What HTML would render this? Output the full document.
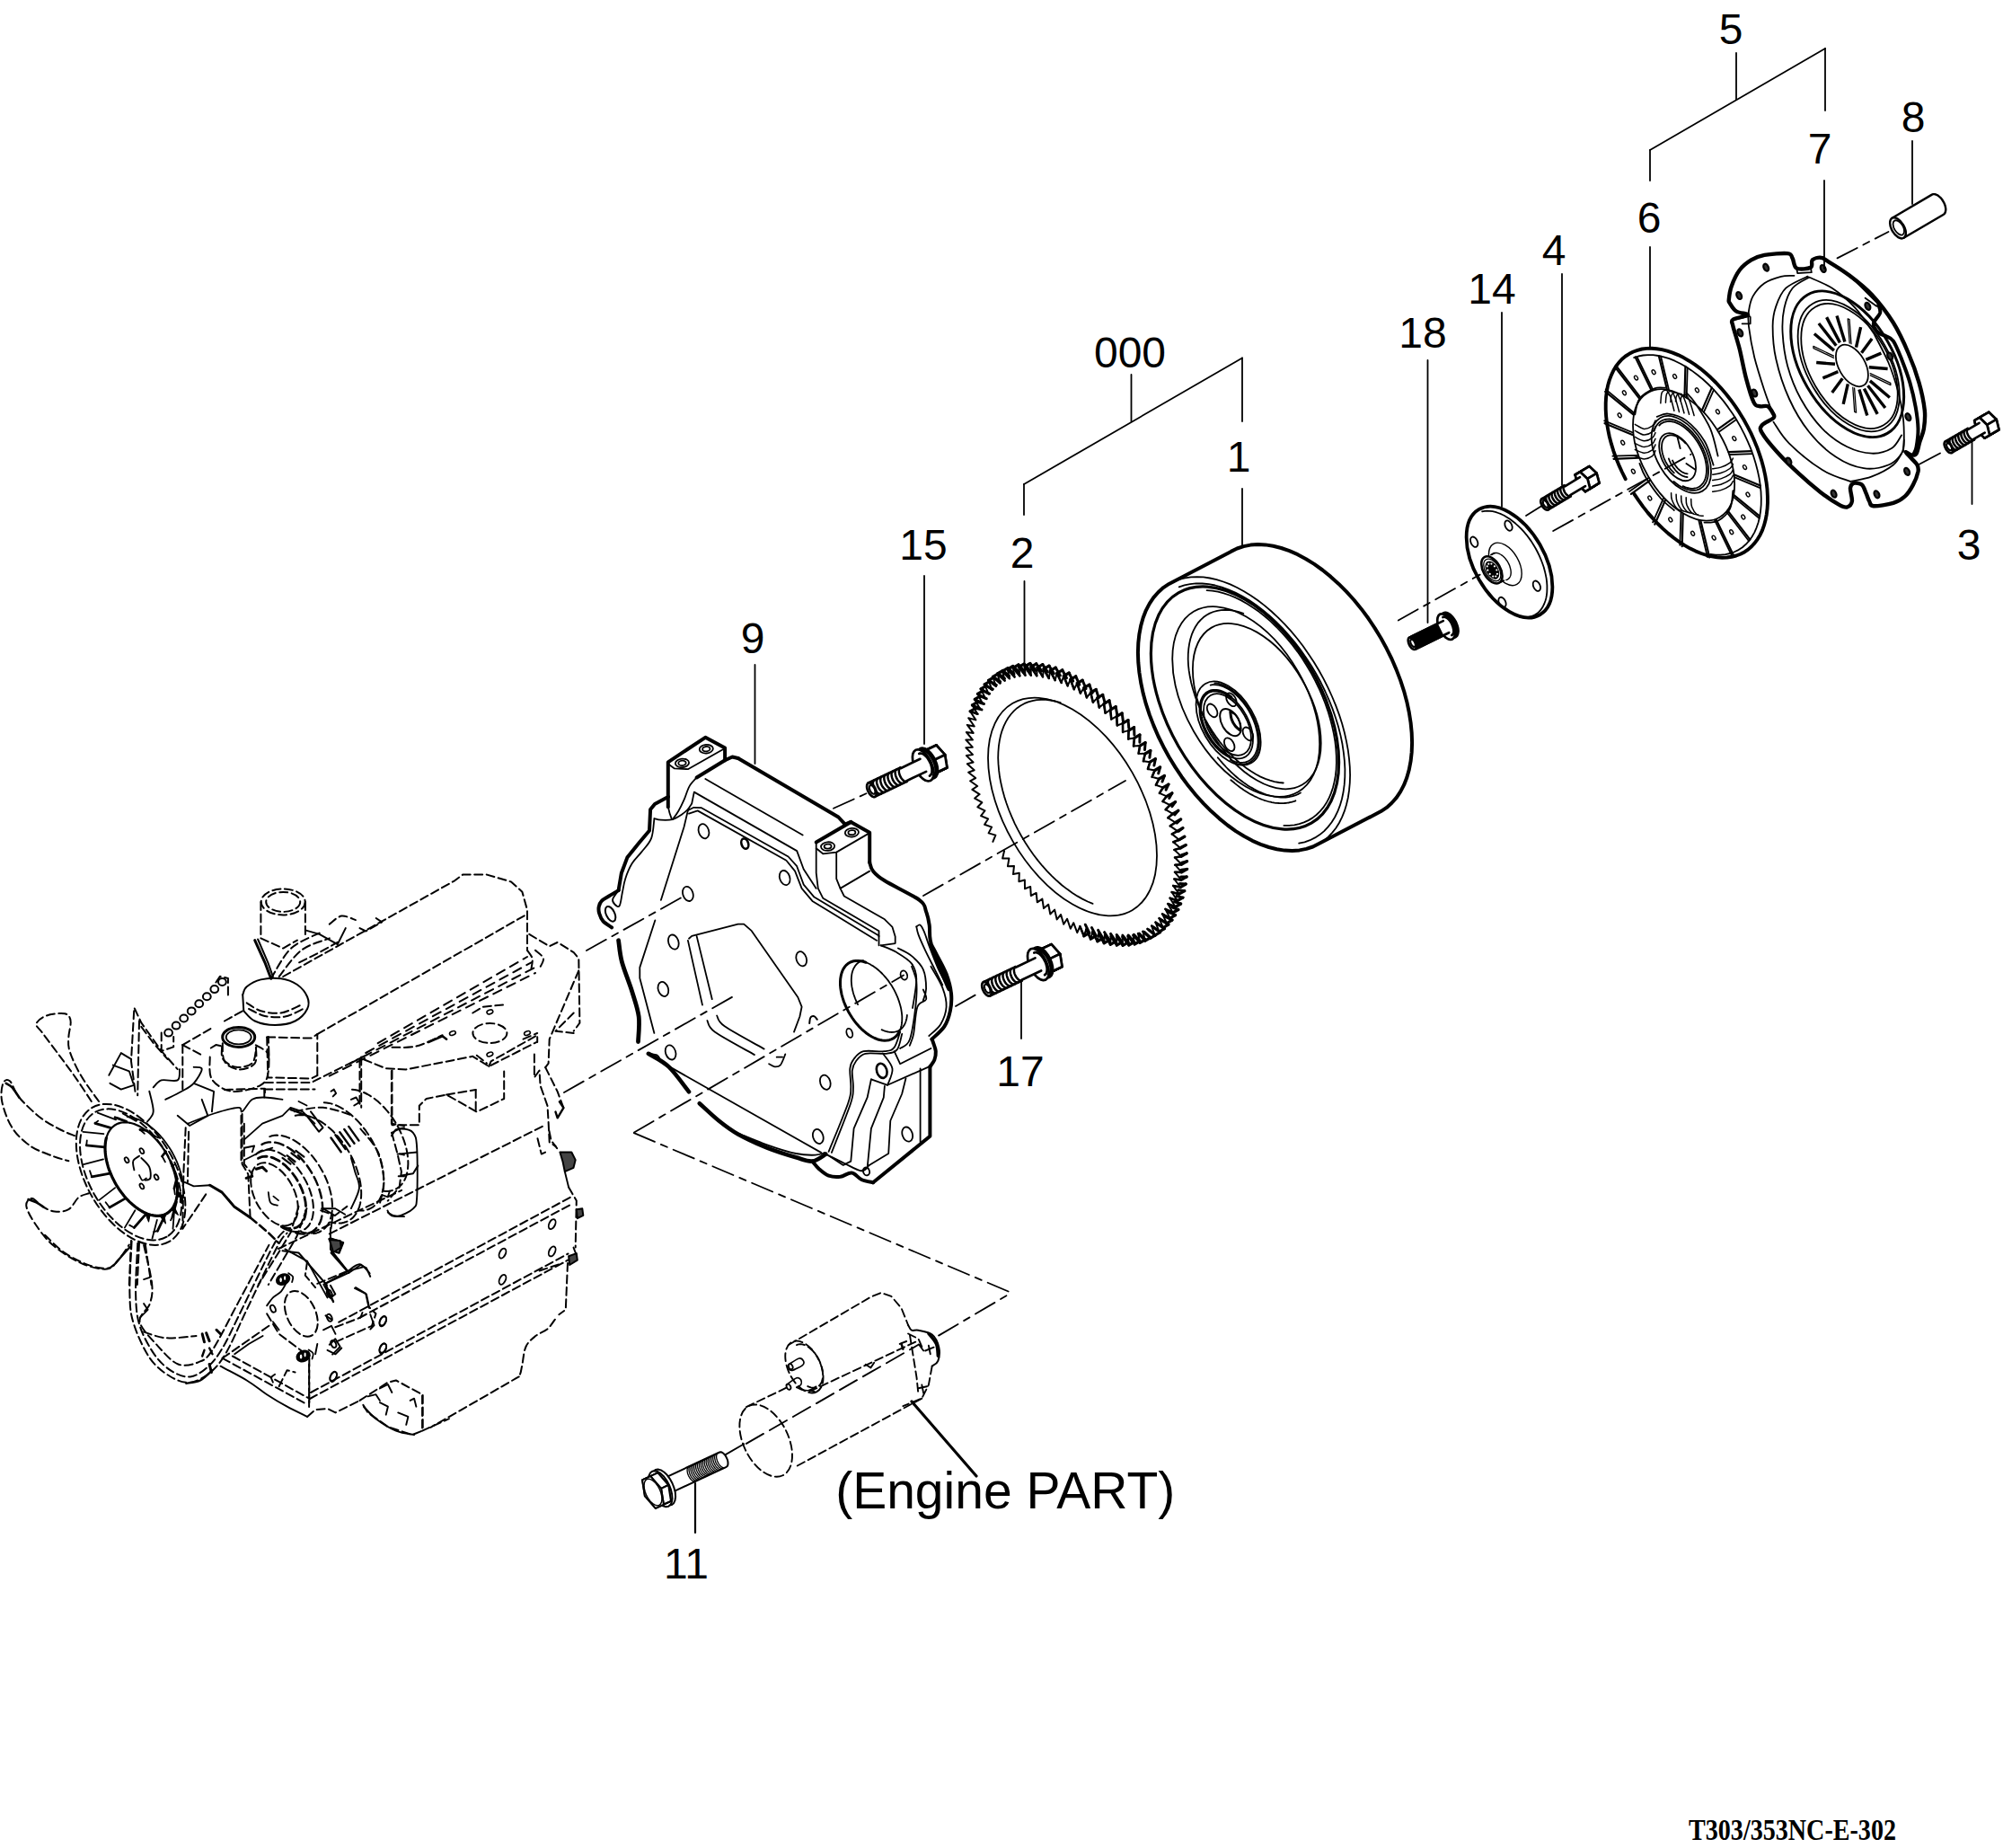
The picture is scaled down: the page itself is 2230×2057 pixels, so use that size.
<!DOCTYPE html>
<html><head><meta charset="utf-8"><meta name="domain" content="Diagram"><title>Parts diagram T303/353NC-E-302</title>
<style>html,body{margin:0;padding:0;background:#fff}body{width:2230px;height:2057px;overflow:hidden;font-family:"Liberation Sans",sans-serif}svg{display:block}</style>
</head><body>
<svg width="2230" height="2057" viewBox="0 0 2230 2057" fill="none" stroke="#000" stroke-linecap="round" stroke-linejoin="round">
<rect x="0" y="0" width="2230" height="2057" fill="#fff" stroke="none"/>
<path d="M315.2 1087 L506.1 980.3 L515.1 973.6 L542.1 973.6 L569 981.5 L581.4 992.7 L587 1012.9 L587 1057.8" stroke-width="2" fill="none" stroke-dasharray="9 4.5"/>
<path d="M353.3 1151.1 L587 1017.4" stroke-width="2" fill="none" stroke-dasharray="9 4.5"/>
<path d="M297.2 1154.4 L346.6 1155.6 L353.3 1151.1 L353.3 1197.1" stroke-width="2" fill="none" stroke-dasharray="9 4.5"/>
<path d="M297.2 1154.4 L298.3 1199.4 L346.6 1200.5 L353.3 1197.1" stroke-width="2" fill="none" stroke-dasharray="9 4.5"/>
<path d="M294.9 1205 L346.6 1205 L407.3 1174.7" stroke-width="2" fill="none" stroke-dasharray="9 4.5"/>
<path d="M420.7 1161.2 L587 1065" stroke-width="2" fill="none" stroke-dasharray="10 7"/>
<path d="M407.3 1172 L591.5 1071.3" stroke-width="2" fill="none" stroke-dasharray="10 7"/>
<path d="M389.3 1184.1 L594.9 1077.2" stroke-width="2" fill="none" stroke-dasharray="10 7"/>
<path d="M366.8 1197.6 L596 1083" stroke-width="2" fill="none" stroke-dasharray="10 7"/>
<path d="M587 1057.8 C587.9 1059.3 591.9 1063.5 592.6 1066.8 C593.4 1070.2 591.7 1076.2 591.5 1078.1" stroke-width="2" fill="none" stroke-dasharray="9 4.5"/>
<path d="M589.2 1039.9 L611.7 1053.3 L620.7 1048.9 L638.7 1060.1 L644.3 1066.8 L645.4 1138.7 L638.7 1147.7" stroke-width="2" fill="none" stroke-dasharray="9 4.5"/>
<path d="M644.3 1080.3 L611.7 1156.7 L610.6 1183.7 L607.2 1188.1" stroke-width="2" fill="none" stroke-dasharray="9 4.5"/>
<path d="M638.7 1127.5 L618.5 1147.7 L638.7 1150" stroke-width="2" fill="none" stroke-dasharray="9 4.5"/>
<path d="M405 1179.2 L429.7 1189.3 L452.2 1190.4 L526.3 1175.8 L544.3 1187 L597.1 1160.1" stroke-width="2" fill="none" stroke-dasharray="9 4.5"/>
<path d="M544.3 1187 L546.6 1181.4 L598.2 1152.2 L598.2 1160.1" stroke-width="2" fill="none" stroke-dasharray="9 4.5"/>
<path d="M436.5 1191.5 L436.5 1252.2 L466.8 1252.2 L466.8 1230.8 L474.7 1223 L497.1 1218.5 L530.8 1237.6 L561.2 1223 L561.2 1192.6" stroke-width="2" fill="none" stroke-dasharray="9 4.5"/>
<path d="M529.7 1212.9 L529.7 1237.6" stroke-width="2" fill="none" stroke-dasharray="9 4.5"/>
<path d="M497.1 1218.5 L529.7 1212.9" stroke-width="2" fill="none" stroke-dasharray="9 4.5"/>
<path d="M594.9 1173.5 L594.9 1199.4 L600.5 1191.5 L601.6 1208.4 L609.5 1230.8 L610.6 1248.8 L611.7 1271.3 L618.5 1275.8" stroke-width="2" fill="none" stroke-dasharray="9 4.5"/>
<path d="M607.2 1188.1 L620.7 1215.1 L627.4 1233.1" stroke-width="2" fill="none" stroke-dasharray="9 4.5"/>
<path d="M622.9 1226.3 L627.4 1233.1 L620.7 1244.3 L618.5 1237.6" stroke-width="2.4" fill="none"/>
<path d="M400.5 1179.2 L400.5 1230.8" stroke-width="2" fill="none" stroke-dasharray="9 4.5"/>
<path d="M436.5 1165.7 C441 1165.5 454.1 1166.8 463.4 1164.6 C472.8 1162.3 487.8 1154.3 492.6 1152.2" stroke-width="2" fill="none" stroke-dasharray="9 4.5"/>
<path d="M476.9 1160.1 L492.6 1153.3 L497.1 1156.7" stroke-width="2.6" fill="none"/>
<ellipse cx="545.4" cy="1150" rx="19" ry="11" transform="rotate(0 545.4 1150)" stroke-width="2" fill="none" stroke-dasharray="9 4.5"/>
<ellipse cx="503.9" cy="1150" rx="3.5" ry="2.2" transform="rotate(-20 503.9 1150)" stroke-width="1.6" fill="none"/>
<ellipse cx="545.4" cy="1126.4" rx="3.5" ry="2.2" transform="rotate(-20 545.4 1126.4)" stroke-width="1.6" fill="none"/>
<ellipse cx="587" cy="1150" rx="3.5" ry="2.2" transform="rotate(-20 587 1150)" stroke-width="1.6" fill="none"/>
<ellipse cx="545.4" cy="1173.5" rx="3.5" ry="2.2" transform="rotate(-20 545.4 1173.5)" stroke-width="1.6" fill="none"/>
<path d="M526.3 1127.5 L537.6 1120.7 L560 1118.5" stroke-width="2" fill="none" stroke-dasharray="9 4.5"/>
<path d="M582.5 1156.7 L598.2 1150" stroke-width="2" fill="none" stroke-dasharray="9 4.5"/>
<path d="M530.8 1174.7 L542.1 1183.7" stroke-width="2" fill="none" stroke-dasharray="9 4.5"/>
<path d="M596 1057.8 C597.5 1059.3 604.2 1063.5 605 1066.8 C605.7 1070.2 601.2 1076.2 600.5 1078.1" stroke-width="2" fill="none" stroke-dasharray="9 4.5"/>
<ellipse cx="315.2" cy="1003.9" rx="24.5" ry="14.5" transform="rotate(0 315.2 1003.9)" stroke-width="2" fill="none" stroke-dasharray="9 4.5"/>
<ellipse cx="315.2" cy="1003.9" rx="19" ry="11" transform="rotate(0 315.2 1003.9)" stroke-width="2" fill="none" stroke-dasharray="9 4.5"/>
<path d="M290.4 1003.9 L290.4 1044.4 L315.2 1055.6 L330.9 1046.6" stroke-width="2" fill="none" stroke-dasharray="9 4.5"/>
<path d="M339.9 1003.9 L339.9 1039.9" stroke-width="2" fill="none" stroke-dasharray="9 4.5"/>
<path d="M283.7 1046.6 L294.9 1071.3 L301.7 1089.3" stroke-width="3" fill="none"/>
<path d="M287.1 1045.5 L298.3 1071.3 L303.9 1087" stroke-width="2" fill="none"/>
<path d="M339.9 1035.4 L355.6 1039.9 L375.8 1051.1 L384.8 1033.1" stroke-width="2" fill="none"/>
<path d="M301.7 1089.3 C305.4 1083.7 314.8 1064.2 324.1 1055.6 C333.5 1047 352.2 1040.6 357.8 1037.6" stroke-width="2" fill="none" stroke-dasharray="9 4.5"/>
<path d="M310.7 1087 C314.8 1082.2 326 1065 335.4 1057.8 C344.7 1050.7 361.6 1046.6 366.8 1044.4" stroke-width="2" fill="none" stroke-dasharray="9 4.5"/>
<path d="M366.8 1028.6 C369.1 1027.1 375.4 1020.4 380.3 1019.6 C385.2 1018.9 393.4 1023.4 396 1024.1" stroke-width="2" fill="none" stroke-dasharray="9 4.5"/>
<path d="M400.5 1033.1 L407.3 1036.5 L425.2 1026.4 L418.5 1021.9" stroke-width="2" fill="none" stroke-dasharray="9 4.5"/>
<path d="M333.1 1071.3 L355.6 1060.1 L375.8 1048.9" stroke-width="2" fill="none" stroke-dasharray="9 4.5"/>
<path d="M270.2 1107.3 C271 1105.8 271.3 1101.1 274.7 1098.3 C278.1 1095.5 284.1 1091.9 290.4 1090.4 C296.8 1088.9 306.2 1088.4 312.9 1089.3 C319.6 1090.2 326 1092.7 330.9 1096 C335.7 1099.4 340.2 1105 342.1 1109.5 C344 1114 344.4 1118.5 342.1 1123 C339.9 1127.5 334.6 1133.5 328.6 1136.5 C322.6 1139.5 313.7 1141 306.2 1141 C298.7 1141 289.5 1139.1 283.7 1136.5 C277.9 1133.9 273.4 1127.1 271.3 1125.2" stroke-width="2" fill="none"/>
<path d="M270.2 1107.3 L271.3 1125.2" stroke-width="2" fill="none"/>
<path d="M274.7 1116.3 C277.3 1117.8 284.1 1123.4 290.4 1125.2 C296.8 1127.1 305.4 1128.6 312.9 1127.5 C320.4 1126.4 331.6 1120 335.4 1118.5" stroke-width="2" fill="none" stroke-dasharray="9 4.5"/>
<path d="M277 1123 C280 1124.3 288.2 1129.4 294.9 1130.9 C301.7 1132.3 310.3 1132.8 317.4 1131.5 C324.5 1130.2 334.3 1124.4 337.6 1123" stroke-width="2" fill="none" stroke-dasharray="9 4.5"/>
<ellipse cx="265.7" cy="1154.4" rx="18" ry="11" transform="rotate(0 265.7 1154.4)" stroke-width="3" fill="none"/>
<ellipse cx="265.7" cy="1154.4" rx="14" ry="8" transform="rotate(0 265.7 1154.4)" stroke-width="1.9" fill="none"/>
<path d="M247.8 1161.2 C248.1 1164.6 247 1176.5 250 1181.4 C253 1186.3 260.1 1190 265.7 1190.4 C271.3 1190.8 280.5 1188.1 283.7 1183.7 C286.9 1179.2 284.6 1166.8 284.8 1163.4" stroke-width="2" fill="none" stroke-dasharray="9 4.5"/>
<path d="M250 1136.5 L270.2 1125.2" stroke-width="2" fill="none" stroke-dasharray="9 4.5"/>
<path d="M250 1212.9 L294.9 1211.7 L294.9 1219.6" stroke-width="2" fill="none" stroke-dasharray="9 4.5"/>
<path d="M284.8 1163.4 C287.1 1164.9 296.1 1168.7 298.3 1172.4 C300.6 1176.2 298.3 1183.7 298.3 1185.9" stroke-width="2" fill="none" stroke-dasharray="9 4.5"/>
<path d="M110.1 1226 C106.7 1221.2 95.3 1206.2 89.9 1196.8 C84.4 1187.5 79.8 1177 77.5 1169.9 C75.3 1162.8 76.2 1159.8 76.4 1154.1 C76.6 1148.5 79.4 1140.5 78.6 1136.2 C77.9 1131.9 76.4 1129.2 71.9 1128.3 C67.4 1127.4 56.9 1128.7 51.7 1130.6 C46.4 1132.4 41.2 1136.4 40.4 1139.5 C39.7 1142.7 42.7 1143.5 47.2 1149.6 C51.7 1155.8 61 1168 67.4 1176.6 C73.8 1185.2 79.4 1192.7 85.4 1201.3 C91.4 1209.9 100.4 1223.8 103.3 1228.3" stroke-width="2" fill="none" stroke-dasharray="9 4.5"/>
<path d="M83.1 1264.2 C80.5 1263.1 73.8 1260.9 67.4 1257.5 C61 1254.1 52.6 1250 44.9 1244 C37.3 1238 27 1228.3 21.3 1221.5 C15.7 1214.8 14.2 1206.2 11.2 1203.6 C8.2 1200.9 4.9 1202.1 3.4 1205.8 C1.9 1209.6 0.6 1217.8 2.2 1226 C3.9 1234.3 8.2 1247 13.5 1255.2 C18.7 1263.5 26.2 1270.2 33.7 1275.5 C41.2 1280.7 51.3 1283.9 58.4 1286.7 C65.5 1289.5 73.4 1291.4 76.4 1292.3" stroke-width="2" fill="none" stroke-dasharray="9 4.5"/>
<path d="M98.9 1328.3 C97 1329 91.4 1329.8 87.6 1332.8 C83.9 1335.7 80.9 1343.6 76.4 1346.2 C71.9 1348.9 65.5 1349 60.7 1348.5 C55.8 1347.9 51.3 1345.3 47.2 1342.9 C43.1 1340.4 38.9 1334.1 35.9 1333.9 C33 1333.7 28.8 1337.2 29.2 1341.7 C29.6 1346.2 33.3 1353.5 38.2 1360.8 C43.1 1368.1 49.8 1378.1 58.4 1385.5 C67 1393 79.8 1401.3 89.9 1405.8 C100 1410.3 112 1413.3 119.1 1412.5 C126.2 1411.8 128.4 1405.8 132.6 1401.3 C136.7 1396.8 141.9 1388.2 143.8 1385.5" stroke-width="2" fill="none" stroke-dasharray="9 4.5"/>
<path d="M6.7 1205.8 C7.9 1206.6 11 1207.7 13.5 1210.3 C15.9 1212.9 20 1219.7 21.3 1221.5" stroke-width="2.6" fill="none"/>
<path d="M31.5 1335 C33 1335.6 37.6 1337 40.4 1338.4 C43.2 1339.8 47 1342.5 48.3 1343.3" stroke-width="2.6" fill="none"/>
<path d="M150.5 1214.8 L146 1181.1 L149.4 1121.6 L157.3 1138.4 L179.7 1169.9 L197.7 1190.1" stroke-width="2" fill="none" stroke-dasharray="9 4.5"/>
<path d="M155 1136.2 L153.2 1219.3" stroke-width="2" fill="none" stroke-dasharray="9 4.5"/>
<path d="M157.3 1142.9 L170.7 1160.9 L186.5 1178.9" stroke-width="2" fill="none" stroke-dasharray="9 4.5"/>
<ellipse cx="145.6" cy="1307.4" rx="86" ry="49.6" transform="rotate(60 145.6 1307.4)" stroke-width="2" fill="none" stroke-dasharray="9 4.5"/>
<ellipse cx="145.6" cy="1307.4" rx="80" ry="46.2" transform="rotate(60 145.6 1307.4)" stroke-width="2" fill="none" stroke-dasharray="9 4.5"/>
<path d="M190.3 1293.7 L192.1 1298 L193.7 1302.4 L195 1306.7 L196 1311 L196.8 1315.2 L197.3 1319.4 L197.5 1323.4 L197.5 1327.2 L197.2 1330.9 L196.5 1334.4 L195.7 1337.6 L194.5 1340.6 L193.1 1343.3 L191.4 1345.7 L189.5 1347.8 L187.4 1349.6 L185 1351.1 L182.5 1352.2 L179.8 1352.9 L176.9 1353.3 L173.9 1353.3 L170.8 1352.9 L167.6 1352.2 L164.3 1351.2 L160.9 1349.8 L157.6 1348 L154.2 1345.9 L150.9 1343.5 L147.6 1340.8 L144.3 1337.9 L141.2 1334.7 L138.2 1331.2 L135.3 1327.5 L132.5 1323.7 L129.9 1319.7 L127.6 1315.6 L125.4 1311.3 L123.5 1307 L121.7 1302.7 L120.3 1298.4 L119.1 1294 L118.1 1289.7 L117.5 1285.6 L117.1 1281.5 L117 1277.5 L117.2 1273.7 L117.6 1270.1 L118.3 1266.8" stroke-width="3.2" fill="none"/>
<path d="M118.3 1266.8 L118.9 1265 L119.5 1263.3 L120.2 1261.6 L121 1260.1 L121.9 1258.6 L122.8 1257.3 L123.8 1256 L124.9 1254.8 L126.1 1253.8 L127.4 1252.8 L128.7 1252 L130 1251.3 L131.5 1250.6 L133 1250.1 L134.5 1249.7 L136.1 1249.5 L137.7 1249.3 L139.4 1249.3 L141.2 1249.3 L142.9 1249.5 L144.7 1249.8 L146.5 1250.3 L148.4 1250.8 L150.3 1251.4 L152.1 1252.2 L154 1253.1 L155.9 1254 L157.8 1255.1 L159.7 1256.3 L161.6 1257.6 L163.5 1259 L165.4 1260.4 L167.3 1262 L169.1 1263.7 L170.9 1265.4 L172.7 1267.2 L174.4 1269.1 L176.1 1271.1 L177.8 1273.1 L179.4 1275.2 L181 1277.4 L182.5 1279.6 L183.9 1281.8 L185.3 1284.1 L186.7 1286.5 L187.9 1288.9 L189.1 1291.3 L190.3 1293.7" stroke-width="2.2" fill="none"/>
<path d="M141.7 1243.2 L143.6 1243.4 L145.6 1243.6 L147.5 1244 L149.5 1244.5 L151.5 1245.2 L153.6 1245.9 L155.6 1246.8 L157.7 1247.8 L159.8 1248.9 L161.8 1250.1 L163.9 1251.5 L166 1252.9 L168 1254.5 L170.1 1256.1 L172.1 1257.9 L174 1259.7 L176 1261.6 L177.9 1263.7 L179.8 1265.8 L181.6 1267.9 L183.4 1270.2 L185.1 1272.5 L186.8 1274.9 L188.4 1277.3 L190 1279.8 L191.5 1282.3 L192.9 1284.9 L194.2 1287.5 L195.5 1290.1 L196.7 1292.7 L197.8 1295.4 L198.8 1298.1 L199.8 1300.7 L200.6 1303.4 L201.4 1306.1 L202.1 1308.7 L202.6 1311.4 L203.1 1314 L203.5 1316.5 L203.8 1319.1 L204 1321.6 L204.1 1324 L204.1 1326.4 L204 1328.7 L203.8 1331 L203.5 1333.2 L203.1 1335.3 L202.6 1337.4" stroke-width="1.8" fill="none"/>
<path d="M183.6 1352.8 L175.4 1370.2" stroke-width="2.8" fill="none"/>
<path d="M175.4 1370.2 L171.1 1371.1" stroke-width="1.8" fill="none"/>
<path d="M174.9 1357.8 L169.5 1378.6" stroke-width="1.8" fill="none"/>
<path d="M162.5 1351.3 L149.3 1366.5" stroke-width="2.8" fill="none"/>
<path d="M149.3 1366.5 L144.1 1363.6" stroke-width="1.8" fill="none"/>
<path d="M150.4 1347.3 L138.8 1366.6" stroke-width="1.8" fill="none"/>
<path d="M139.7 1333.9 L122 1344" stroke-width="2.8" fill="none"/>
<path d="M122 1344 L117.6 1338.3" stroke-width="1.8" fill="none"/>
<path d="M128.1 1322.1 L110.3 1335.9" stroke-width="1.8" fill="none"/>
<path d="M122.4 1306.1 L102.2 1309.9" stroke-width="2.8" fill="none"/>
<path d="M102.2 1309.9 L100 1303.2" stroke-width="1.8" fill="none"/>
<path d="M115 1290.4 L93 1296.1" stroke-width="1.8" fill="none"/>
<path d="M116.3 1276.9 L96.2 1274.9" stroke-width="2.8" fill="none"/>
<path d="M96.2 1274.9 L96.8 1269.4" stroke-width="1.8" fill="none"/>
<path d="M115.4 1262.1 L92.4 1259.9" stroke-width="1.8" fill="none"/>
<path d="M123.1 1255.4 L105.9 1250.3" stroke-width="2.8" fill="none"/>
<path d="M105.9 1250.3 L109.2 1247.6" stroke-width="1.8" fill="none"/>
<path d="M129.1 1246.3 L108.7 1238.7" stroke-width="1.8" fill="none"/>
<path d="M140.8 1248.4 L128.1 1243.8" stroke-width="2.8" fill="none"/>
<path d="M128.1 1243.8 L133.1 1244.8" stroke-width="1.8" fill="none"/>
<path d="M151.7 1247.9 L136.7 1239.4" stroke-width="1.8" fill="none"/>
<path d="M163.7 1258.3 L155.9 1257.5" stroke-width="2.8" fill="none"/>
<path d="M155.9 1257.5 L160.9 1261.9" stroke-width="1.8" fill="none"/>
<path d="M176.1 1266.5 L167.5 1261.6" stroke-width="1.8" fill="none"/>
<path d="M184.6 1281.8 L180.5 1287" stroke-width="2.8" fill="none"/>
<path d="M180.5 1287 L183.9 1293.4" stroke-width="1.8" fill="none"/>
<path d="M194.5 1296.1 L191.4 1298.4" stroke-width="1.8" fill="none"/>
<path d="M196.8 1311.5 L193.9 1323" stroke-width="2.8" fill="none"/>
<path d="M193.9 1323 L194.8 1329.3" stroke-width="1.8" fill="none"/>
<path d="M201.1 1327.4 L200.7 1338" stroke-width="1.8" fill="none"/>
<path d="M196.4 1338 L192 1354" stroke-width="2.8" fill="none"/>
<path d="M192 1354 L190 1358.3" stroke-width="1.8" fill="none"/>
<path d="M193.8 1350.4 L192.5 1367.9" stroke-width="1.8" fill="none"/>
<path d="M197.6 1325.4 L197.1 1331.6 L204.5 1333.3Z" stroke-width="1.2" fill="#000"/>
<path d="M193.5 1342.6 L190.7 1346.6 L198.3 1352.3Z" stroke-width="1.2" fill="#000"/>
<path d="M182.6 1352.1 L178 1353.2 L184.4 1361.8Z" stroke-width="1.2" fill="#000"/>
<path d="M167 1352.1 L161.5 1350 L165.5 1359.9Z" stroke-width="1.2" fill="#000"/>
<ellipse cx="141.1" cy="1291.2" rx="3.2" ry="2" transform="rotate(60 141.1 1291.2)" stroke-width="1.8" fill="none"/>
<ellipse cx="157.9" cy="1281.1" rx="3.2" ry="2" transform="rotate(60 157.9 1281.1)" stroke-width="1.8" fill="none"/>
<ellipse cx="174.1" cy="1310.3" rx="3.2" ry="2" transform="rotate(60 174.1 1310.3)" stroke-width="1.8" fill="none"/>
<ellipse cx="157.9" cy="1320.4" rx="3.2" ry="2" transform="rotate(60 157.9 1320.4)" stroke-width="1.8" fill="none"/>
<path d="M149.4 1302.4 C149.2 1300.7 147.3 1294.9 148.3 1292.3 C149.2 1289.7 153.9 1287.6 155 1286.7" stroke-width="1.9" fill="none"/>
<path d="M157.3 1288.9 C158.8 1290.6 164.6 1295.3 166.3 1299.1 C167.9 1302.8 168.1 1309 167.4 1311.4 C166.6 1313.8 162.7 1313.3 161.8 1313.7" stroke-width="1.9" fill="none"/>
<path d="M155 1308 C155.6 1309 157.1 1313.1 158.4 1313.7 C159.7 1314.2 162.1 1311.8 162.9 1311.4" stroke-width="1.7" fill="none"/>
<path d="M146 1381.1 L143.8 1430" stroke-width="2" fill="none" stroke-dasharray="9 4.5"/>
<path d="M155 1383.3 L152.8 1430" stroke-width="2" fill="none" stroke-dasharray="9 4.5"/>
<path d="M161.8 1385.5 L168.5 1430" stroke-width="2" fill="none" stroke-dasharray="9 4.5"/>
<path d="M206.7 1255.2 L204.4 1304.7 L203.3 1367.6" stroke-width="2" fill="none" stroke-dasharray="9 4.5"/>
<path d="M210.1 1259.7 L208.9 1315.9" stroke-width="2" fill="none" stroke-dasharray="9 4.5"/>
<path d="M208.9 1250.7 C213.8 1248.9 228.8 1242.5 238.1 1239.5 C247.5 1236.5 259.9 1233.1 265.1 1232.8 C270.4 1232.4 267 1238.8 269.6 1237.3 C272.2 1235.8 276.7 1226.4 280.8 1223.8 C285 1221.2 288.7 1221.5 294.3 1221.5 C299.9 1221.5 311.2 1223.4 314.5 1223.8" stroke-width="1.8" fill="none"/>
<path d="M205.6 1315.9 L215.7 1320.4 L233.7 1319.3" stroke-width="1.9" fill="none"/>
<path d="M233.7 1319.3 L247.1 1327.1 L260.6 1342.9 L278.6 1355.2" stroke-width="3" fill="none"/>
<path d="M278.6 1355.2 L276.3 1306.9 L269.6 1295.7 L269.6 1237.3" stroke-width="2" fill="none" stroke-dasharray="9 4.5"/>
<path d="M229.2 1329.4 L215.7 1349.6 L203.3 1367.6" stroke-width="2" fill="none" stroke-dasharray="9 4.5"/>
<path d="M170.7 1210.3 C172.2 1209 175.2 1203.8 179.7 1202.4 C184.2 1201.1 194.3 1204.5 197.7 1202.4 C201.1 1200.4 199.6 1192.1 200 1190.1" stroke-width="1.9" fill="none"/>
<path d="M166.3 1214.8 C167 1218.5 171.1 1231.7 170.7 1237.3 C170.4 1242.9 165.1 1246.6 164 1248.5" stroke-width="1.9" fill="none"/>
<path d="M184.2 1223.8 C187.2 1222.3 197 1217.8 202.2 1214.8 C207.4 1211.8 211.9 1209.9 215.7 1205.8 C219.4 1201.7 224.7 1193.1 224.7 1190.1 C224.7 1187.1 217.2 1188.2 215.7 1187.8" stroke-width="1.9" fill="none"/>
<path d="M215.7 1205.8 L238.1 1214.8 L235.9 1237.3" stroke-width="1.9" fill="none"/>
<path d="M197.7 1241.8 L211.2 1253 L231.4 1241.8 L224.7 1223.8" stroke-width="1.9" fill="none"/>
<path d="M121.3 1196.8 L134.8 1172.1 L146 1178.9" stroke-width="1.9" fill="none"/>
<path d="M122.4 1205.8 L134.8 1212.6 L148.3 1208.1" stroke-width="1.9" fill="none"/>
<path d="M125.8 1185.6 L143.8 1192.3 L148.3 1205.8" stroke-width="1.9" fill="none"/>
<ellipse cx="187.6" cy="1149.6" rx="4.4" ry="4" transform="rotate(0 187.6 1149.6)" stroke-width="2" fill="none"/>
<ellipse cx="196.1" cy="1141.6" rx="4.4" ry="4" transform="rotate(0 196.1 1141.6)" stroke-width="2" fill="none"/>
<ellipse cx="204.7" cy="1133.5" rx="4.4" ry="4" transform="rotate(0 204.7 1133.5)" stroke-width="2" fill="none"/>
<ellipse cx="213.2" cy="1125.4" rx="4.4" ry="4" transform="rotate(0 213.2 1125.4)" stroke-width="2" fill="none"/>
<ellipse cx="221.7" cy="1117.3" rx="4.4" ry="4" transform="rotate(0 221.7 1117.3)" stroke-width="2" fill="none"/>
<ellipse cx="230.3" cy="1109.2" rx="4.4" ry="4" transform="rotate(0 230.3 1109.2)" stroke-width="2" fill="none"/>
<ellipse cx="238.8" cy="1101.1" rx="4.4" ry="4" transform="rotate(0 238.8 1101.1)" stroke-width="2" fill="none"/>
<ellipse cx="247.4" cy="1093" rx="4.4" ry="4" transform="rotate(0 247.4 1093)" stroke-width="2" fill="none"/>
<path d="M179.7 1149.6 L179.7 1169.9 L193.2 1165.4 L193.2 1154.1" stroke-width="2" fill="none" stroke-dasharray="9 4.5"/>
<path d="M240.4 1093.5 L244.9 1086.7 L253.9 1089 L253.9 1109.2" stroke-width="2" fill="none" stroke-dasharray="9 4.5"/>
<path d="M233.7 1176.6 C234 1180.7 231.8 1195 235.9 1201.3 C240 1207.7 249.4 1213.7 258.4 1214.8 C267.4 1215.9 283.1 1211.8 289.8 1208.1 C296.6 1204.3 297.3 1201.3 298.8 1192.3 C300.3 1183.3 298.8 1160.5 298.8 1154.1" stroke-width="2" fill="none" stroke-dasharray="9 4.5"/>
<path d="M247.1 1165.4 C247.3 1167.6 245.6 1175.1 248.3 1178.9 C250.9 1182.6 257.4 1187.1 262.9 1187.8 C268.3 1188.6 277.1 1187.1 280.8 1183.3 C284.6 1179.6 284.6 1168.4 285.3 1165.4" stroke-width="2" fill="none" stroke-dasharray="9 4.5"/>
<path d="M203.3 1163.1 L203.3 1214.8" stroke-width="2" fill="none" stroke-dasharray="9 4.5"/>
<path d="M203.3 1163.1 L238.1 1142.9" stroke-width="2" fill="none" stroke-dasharray="9 4.5"/>
<path d="M203.3 1163.1 L224.7 1174.4" stroke-width="2" fill="none" stroke-dasharray="9 4.5"/>
<path d="M234.8 1166.5 L240.4 1163.1 L246 1164.3" stroke-width="2" fill="none"/>
<path d="M294.3 1212.6 L294.3 1221.5" stroke-width="2" fill="none" stroke-dasharray="9 4.5"/>
<path d="M294.3 1212.6 L350.5 1212.6" stroke-width="2" fill="none" stroke-dasharray="9 4.5"/>
<ellipse cx="305.5" cy="1329.4" rx="38" ry="21.9" transform="rotate(62 305.5 1329.4)" stroke-width="2" fill="none" stroke-dasharray="9 4.5"/>
<path d="M287.5 1289.3 L289.4 1288.4 L291.3 1287.7 L293.4 1287.4 L295.6 1287.2 L297.8 1287.3 L300.2 1287.7 L302.6 1288.4 L305 1289.2 L307.5 1290.4 L310 1291.7 L312.5 1293.3 L314.9 1295.1 L317.4 1297.1 L319.8 1299.4 L322.1 1301.7 L324.3 1304.3 L326.4 1307 L328.5 1309.8 L330.4 1312.8 L332.2 1315.8 L333.8 1318.9 L335.3 1322.1 L336.6 1325.3 L337.7 1328.5 L338.7 1331.7 L339.5 1334.9 L340.1 1338 L340.4 1341.1 L340.6 1344 L340.6 1346.9 L340.4 1349.6 L340 1352.2 L339.4 1354.7 L338.6 1357 L337.6 1359 L336.5 1360.9 L335.2 1362.6 L333.7 1364 L332 1365.2 L330.2 1366.2 L328.3 1366.9 L326.3 1367.3 L324.1 1367.5 L321.9 1367.5 L319.6 1367.2 L317.2 1366.6 L314.7 1365.8 L312.3 1364.7" stroke-width="2.8" fill="none" stroke-dasharray="10 5"/>
<path d="M284.6 1285.2 L286.5 1283.5 L288.5 1282.1 L290.8 1281 L293.3 1280.2 L295.9 1279.8 L298.6 1279.8 L301.5 1280 L304.4 1280.7 L307.4 1281.6 L310.5 1282.9 L313.5 1284.6 L316.6 1286.5 L319.7 1288.7 L322.7 1291.2 L325.6 1294 L328.5 1297 L331.2 1300.2 L333.8 1303.7 L336.3 1307.2 L338.5 1311 L340.6 1314.8 L342.5 1318.7 L344.2 1322.7 L345.6 1326.6 L346.8 1330.6 L347.7 1334.5 L348.4 1338.4 L348.8 1342.2 L348.9 1345.8 L348.8 1349.3 L348.4 1352.6 L347.7 1355.7 L346.8 1358.5 L345.6 1361.1 L344.2 1363.5 L342.5 1365.5 L340.6 1367.3 L338.5 1368.7 L336.3 1369.8 L333.8 1370.5 L331.2 1370.9 L328.5 1371 L325.6 1370.7 L322.7 1370.1 L319.7 1369.1 L316.6 1367.8 L313.6 1366.2 L310.5 1364.3" stroke-width="2" fill="none" stroke-dasharray="9 4.5"/>
<path d="M291.5 1273.9 L293.9 1272.7 L296.4 1271.9 L299 1271.4 L301.8 1271.3 L304.7 1271.4 L307.6 1271.9 L310.7 1272.7 L313.8 1273.8 L316.9 1275.3 L320.1 1277 L323.3 1279 L326.4 1281.3 L329.5 1283.9 L332.5 1286.7 L335.5 1289.7 L338.3 1293 L341.1 1296.4 L343.6 1300 L346.1 1303.8 L348.3 1307.6 L350.4 1311.6 L352.3 1315.6 L354 1319.7 L355.4 1323.8 L356.6 1327.9 L357.6 1331.9 L358.4 1335.9 L358.9 1339.8 L359.1 1343.6 L359.1 1347.2 L358.8 1350.7 L358.3 1354 L357.6 1357.1 L356.6 1360 L355.3 1362.7 L353.8 1365 L352.1 1367.2 L350.2 1369 L348.2 1370.5 L345.9 1371.7 L343.4 1372.6 L340.8 1373.2 L338.1 1373.5 L335.2 1373.4 L332.3 1373 L329.2 1372.3 L326.2 1371.3 L323 1369.9" stroke-width="2.4" fill="none" stroke-dasharray="10 5"/>
<path d="M300.3 1265.1 L302.8 1264.3 L305.5 1263.8 L308.4 1263.6 L311.3 1263.8 L314.3 1264.2 L317.5 1265 L320.6 1266.1 L323.8 1267.5 L327.1 1269.1 L330.3 1271.1 L333.5 1273.4 L336.7 1275.9 L339.8 1278.6 L342.9 1281.6 L345.9 1284.8 L348.7 1288.2 L351.5 1291.8 L354.1 1295.5 L356.5 1299.4 L358.8 1303.4 L360.9 1307.4 L362.8 1311.5 L364.5 1315.7 L366 1319.9 L367.2 1324.1 L368.3 1328.2 L369.1 1332.3 L369.6 1336.3 L369.9 1340.2 L370 1343.9 L369.8 1347.6 L369.3 1351 L368.6 1354.3 L367.7 1357.3 L366.6 1360.2 L365.2 1362.7 L363.6 1365.1 L361.8 1367.1 L359.7 1368.9 L357.5 1370.3 L355.2 1371.5 L352.6 1372.4 L350 1372.9 L347.1 1373.1 L344.2 1373.1 L341.2 1372.6 L338.1 1371.9 L334.9 1370.9" stroke-width="2" fill="none" stroke-dasharray="9 4.5"/>
<path d="M328.8 1241.8 L331.6 1241.3 L334.6 1241.1 L337.7 1241.3 L340.9 1241.8 L344.1 1242.5 L347.4 1243.6 L350.8 1245 L354.2 1246.7 L357.6 1248.7 L361 1251 L364.3 1253.5 L367.6 1256.3 L370.9 1259.3 L374 1262.6 L377.1 1266 L380 1269.7 L382.9 1273.5 L385.5 1277.4 L388 1281.5 L390.4 1285.7 L392.6 1290 L394.5 1294.3 L396.3 1298.7 L397.8 1303 L399.1 1307.4 L400.2 1311.7 L401.1 1316 L401.7 1320.2 L402.1 1324.3 L402.2 1328.3 L402.1 1332.2 L401.7 1335.9 L401.1 1339.4 L400.2 1342.7 L399.2 1345.7 L397.8 1348.6 L396.3 1351.2 L394.5 1353.5 L392.6 1355.6 L390.4 1357.3 L388.1 1358.8 L385.5 1360 L382.9 1360.8 L380.1 1361.4 L377.1 1361.6 L374 1361.5 L370.9 1361.1 L367.6 1360.4" stroke-width="2" fill="none" stroke-dasharray="9 4.5"/>
<path d="M360.8 1227.2 L363.6 1227.4 L366.5 1227.9 L369.4 1228.6 L372.4 1229.6 L375.5 1230.9 L378.5 1232.4 L381.6 1234.1 L384.6 1236.1 L387.6 1238.2 L390.6 1240.6 L393.6 1243.2 L396.5 1246 L399.3 1248.9 L402.1 1252 L404.7 1255.3 L407.3 1258.7 L409.7 1262.2 L412.1 1265.9 L414.2 1269.6 L416.3 1273.4 L418.2 1277.3 L419.9 1281.2 L421.4 1285.1 L422.8 1289 L424 1293 L425 1296.9 L425.9 1300.8 L426.5 1304.6 L426.9 1308.3 L427.2 1312 L427.2 1315.5 L427 1318.9 L426.7 1322.2 L426.1 1325.4 L425.3 1328.3 L424.4 1331.1 L423.3 1333.8 L421.9 1336.2 L420.4 1338.4 L418.8 1340.4 L416.9 1342.1 L415 1343.7 L412.8 1344.9 L410.5 1346 L408.1 1346.8 L405.6 1347.3 L403 1347.6 L400.3 1347.6" stroke-width="2" fill="none" stroke-dasharray="9 4.5"/>
<path d="M392 1212.8 L394.7 1213 L397.5 1213.5 L400.4 1214.3 L403.2 1215.3 L406.2 1216.5 L409.1 1218 L412 1219.7 L415 1221.6 L417.9 1223.7 L420.8 1226.1 L423.6 1228.7 L426.4 1231.4 L429.1 1234.3 L431.8 1237.4 L434.3 1240.6 L436.7 1243.9 L439 1247.4 L441.2 1250.9 L443.2 1254.5 L445.1 1258.3 L446.8 1262 L448.4 1265.8 L449.8 1269.6 L451 1273.4 L452.1 1277.2 L452.9 1280.9 L453.6 1284.6 L454 1288.3 L454.3 1291.8 L454.4 1295.3 L454.2 1298.6 L453.9 1301.8 L453.4 1304.8 L452.7 1307.7 L451.8 1310.4 L450.7 1312.9 L449.4 1315.3 L447.9 1317.4 L446.3 1319.3 L444.5 1321 L442.6 1322.4 L440.5 1323.6 L438.3 1324.6 L436 1325.3 L433.5 1325.8 L430.9 1326 L428.3 1325.9 L425.6 1325.6" stroke-width="2" fill="none" stroke-dasharray="9 4.5"/>
<path d="M298.8 1327.1 C299.2 1329 299.4 1335.9 301.1 1338.4 C302.7 1340.8 307.6 1341.2 308.9 1341.7" stroke-width="1.8" fill="none"/>
<path d="M304.4 1331.6 L310 1336.1" stroke-width="1.8" fill="none"/>
<path d="M328 1237.3 C333.3 1236.5 348.6 1232 359.5 1232.8 C370.3 1233.5 387.6 1240.3 393.2 1241.8" stroke-width="2" fill="none" stroke-dasharray="9 4.5"/>
<path d="M271.8 1250.7 L271.8 1295.7 L280.8 1306.9" stroke-width="2" fill="none" stroke-dasharray="9 4.5"/>
<path d="M268.5 1241.8 L268.5 1295.7" stroke-width="2" fill="none" stroke-dasharray="9 4.5"/>
<path d="M271.8 1268.7 L292.1 1250.7 L314.5 1241.8 L323.5 1232.8 L337 1237.3 L350.5 1250.7" stroke-width="1.8" fill="none"/>
<path d="M271.8 1291.2 L289.8 1282.2 L303.3 1277.7" stroke-width="1.8" fill="none"/>
<path d="M271.8 1277.7 L283.1 1275.5 L280.8 1282.2" stroke-width="1.9" fill="none"/>
<path d="M341.5 1241.8 L355 1259.7 L359.5 1255.2 L346 1237.3" stroke-width="2" fill="none"/>
<path d="M368.5 1266.5 L379.7 1282.2" stroke-width="2.4" fill="none"/>
<path d="M373.4 1263.3 L384.6 1279.1" stroke-width="2.4" fill="none"/>
<path d="M378.3 1260.2 L389.6 1275.9" stroke-width="2.4" fill="none"/>
<path d="M383.3 1257 L394.5 1272.8" stroke-width="2.4" fill="none"/>
<path d="M388.2 1253.9 L399.5 1269.6" stroke-width="2.4" fill="none"/>
<path d="M314.5 1288.9 L323.5 1295.7" stroke-width="2.2" fill="none"/>
<path d="M319.5 1286.2 L328.5 1293" stroke-width="2.2" fill="none"/>
<path d="M324.4 1283.5 L333.4 1290.3" stroke-width="2.2" fill="none"/>
<path d="M329.4 1280.9 L338.4 1287.6" stroke-width="2.2" fill="none"/>
<path d="M285.3 1301.3 L292.1 1299.1 L296.6 1303.5" stroke-width="3" fill="none"/>
<path d="M274.1 1311.4 L280.8 1309.2" stroke-width="3" fill="none"/>
<path d="M357.2 1347.4 L372.9 1353 L386.4 1342.9" stroke-width="2" fill="none" stroke-dasharray="9 4.5"/>
<path d="M359.5 1345.1 L370.7 1351.8 L368.5 1367.6" stroke-width="1.9" fill="none"/>
<path d="M390.9 1288.9 C391.7 1291.6 393.9 1299.1 395.4 1304.7 C396.9 1310.3 400.7 1315.9 399.9 1322.6 C399.2 1329.4 392.4 1341.4 390.9 1345.1" stroke-width="1.9" fill="none"/>
<path d="M435.9 1264.2 L440.4 1257.5 L450 1255.2" stroke-width="1.9" fill="none"/>
<path d="M444.8 1284.4 L450 1285.6" stroke-width="2" fill="none"/>
<path d="M443.7 1309.2 L450 1309.2" stroke-width="2" fill="none"/>
<path d="M431.4 1347.4 C432.1 1348.3 432.7 1351.8 435.9 1353 C439 1354.1 447.7 1353.9 450 1354.1" stroke-width="1.9" fill="none"/>
<path d="M435.9 1192.3 L435.9 1250.7 L450 1253" stroke-width="2" fill="none" stroke-dasharray="9 4.5"/>
<path d="M402.2 1176.6 L402.2 1232.8" stroke-width="2" fill="none" stroke-dasharray="9 4.5"/>
<path d="M368.5 1214.8 L371.8 1212.6 L374.1 1217 L370.7 1220.4" stroke-width="1.9" fill="none"/>
<path d="M390.9 1223.8 L396.5 1221.5 L399.9 1227.2 L394.3 1230.5" stroke-width="2" fill="none"/>
<path d="M323.5 1235 L330.3 1237.3 L341.5 1241.8" stroke-width="2.4" fill="none"/>
<path d="M332.5 1226 L341.5 1230.5" stroke-width="1.9" fill="none"/>
<path d="M278.6 1355.2 L298.8 1372.1 L310 1383.3" stroke-width="2.6" fill="none" stroke-dasharray="9 4.5"/>
<path d="M332.5 1342.9 L323.5 1372.1 L310 1394.5 L287.6 1430" stroke-width="2" fill="none" stroke-dasharray="9 4.5"/>
<path d="M341.5 1345.1 L330.3 1376.6 L314.5 1403.5 L298.8 1430" stroke-width="2" fill="none" stroke-dasharray="9 4.5"/>
<path d="M310 1390 L447.1 1324.9" stroke-width="2" fill="none" stroke-dasharray="9 4.5"/>
<path d="M314.5 1392.3 L332.5 1394.5 L364 1430.5" stroke-width="1.9" fill="none"/>
<path d="M368.5 1378.8 L381.9 1383.3 L377.4 1394.5 L370.7 1392.3" stroke-width="2.6" fill="none"/>
<path d="M368.5 1394.5 L386.4 1414.8 L404.4 1410.3" stroke-width="1.9" fill="none"/>
<path d="M386.4 1414.8 L350.5 1430" stroke-width="2" fill="none" stroke-dasharray="9 4.5"/>
<path d="M146.6 1381.5 C146.2 1391.2 144 1424.5 144.4 1439.9 C144.7 1455.2 145.1 1461.6 148.9 1473.6 C152.6 1485.6 160.1 1502 166.8 1511.8 C173.6 1521.5 181.8 1527.5 189.3 1532 C196.8 1536.5 204.3 1539.5 211.8 1538.7 C219.3 1538 227.5 1533.1 234.2 1527.5 C241 1521.9 245.5 1516.6 252.2 1505 C258.9 1493.4 265.3 1477.3 274.7 1457.8 C284 1438.4 300.9 1402.4 308.4 1388.2 C315.9 1374 317.7 1375.1 319.6 1372.5" stroke-width="2" fill="none" stroke-dasharray="9 4.5"/>
<path d="M153.3 1383.7 C153 1393.1 150.7 1424.5 151.1 1439.9 C151.5 1455.2 152 1464.4 155.6 1475.8 C159.2 1487.2 166.5 1500 172.4 1508.4 C178.4 1516.8 185 1522.4 191.5 1526.4 C198.1 1530.4 205.2 1533.2 211.8 1532.4 C218.3 1531.7 224.9 1527.2 230.9 1521.9 C236.8 1516.6 241.2 1511.6 247.7 1500.5 C254.3 1489.5 260.8 1474.5 270.2 1455.6 C279.5 1436.7 296.2 1401.3 303.9 1387.1 C311.6 1372.8 314.2 1373 316.2 1370.2" stroke-width="2" fill="none" stroke-dasharray="9 4.5"/>
<path d="M160.1 1385.9 C161.6 1393.1 168 1417.8 169.1 1428.6 C170.2 1439.5 169.1 1444 166.8 1451.1 C164.6 1458.2 154.1 1463.5 155.6 1471.3 C157.1 1479.2 168.7 1490.4 175.8 1498.3 C182.9 1506.1 190.8 1515.5 198.3 1518.5 C205.8 1521.5 214.4 1518.9 220.7 1516.3 C227.1 1513.6 229 1514 236.5 1502.8 C244 1491.5 255.2 1468.3 265.7 1448.9 C276.2 1429.4 293.8 1396.4 299.4 1385.9" stroke-width="2" fill="none" stroke-dasharray="9 4.5"/>
<path d="M160.1 1482.6 C164.2 1483.7 175.1 1488.5 184.8 1489.3 C194.5 1490 212.9 1487.4 218.5 1487" stroke-width="2" fill="none" stroke-dasharray="9 4.5"/>
<path d="M207.3 1539.8 C209.9 1539.3 218.1 1538.9 223 1536.5 C227.9 1534 234.2 1527.1 236.5 1525.2" stroke-width="2.4" fill="none"/>
<path d="M225.2 1484.8 L227.5 1493.8" stroke-width="3" fill="none"/>
<path d="M229.7 1483.7 L233.1 1492.7" stroke-width="3" fill="none"/>
<path d="M241 1480.3 L245.5 1484.8" stroke-width="3" fill="none"/>
<path d="M227.5 1502.8 L225.2 1509.5" stroke-width="2.4" fill="none"/>
<path d="M233.1 1500.5 L236.5 1507.3" stroke-width="2.4" fill="none"/>
<path d="M233.1 1518.5 L235.4 1527.5" stroke-width="3" fill="none"/>
<path d="M128.6 1406.2 L135.4 1398.3 L144.4 1388.2" stroke-width="2.4" fill="none"/>
<path d="M50 1374.7 C53.7 1378.1 64.2 1389.3 72.5 1394.9 C80.7 1400.6 91.6 1405.6 99.4 1408.4 C107.3 1411.2 114.8 1412.2 119.6 1411.8 C124.5 1411.4 127.1 1407.1 128.6 1406.2" stroke-width="2" fill="none" stroke-dasharray="9 4.5"/>
<path d="M160.1 1424.1 L166.8 1421.9" stroke-width="1.9" fill="none"/>
<path d="M155.6 1466.8 L164.6 1457.8 L160.1 1451.1" stroke-width="1.9" fill="none"/>
<path d="M297.1 1453.3 C298.3 1451.8 301.3 1447 303.9 1444.4 C306.5 1441.7 310.2 1440.6 312.9 1437.6 C315.5 1434.6 318.5 1428.3 319.6 1426.4" stroke-width="1.9" fill="none"/>
<ellipse cx="335.3" cy="1462.3" rx="27" ry="16" transform="rotate(65 335.3 1462.3)" stroke-width="2" fill="none" stroke-dasharray="9 4.5"/>
<ellipse cx="315.1" cy="1424.1" rx="8.5" ry="6.5" transform="rotate(-25 315.1 1424.1)" fill="#000" stroke="none"/>
<ellipse cx="312.6" cy="1424.6" rx="1.3" ry="2.6" fill="#fff" stroke="none"/>
<ellipse cx="317.1" cy="1422.6" rx="1.1" ry="2.4" fill="#fff" stroke="none"/>
<path d="M321.1 1417.1 C321.9 1417.8 325.4 1419.5 326.1 1421.1 C326.8 1422.8 325.3 1426.1 325.1 1427.1" stroke-width="1.8" fill="none"/>
<ellipse cx="337.6" cy="1509.5" rx="8.5" ry="6.5" transform="rotate(-25 337.6 1509.5)" fill="#000" stroke="none"/>
<ellipse cx="335.1" cy="1510" rx="1.3" ry="2.6" fill="#fff" stroke="none"/>
<ellipse cx="339.6" cy="1508" rx="1.1" ry="2.4" fill="#fff" stroke="none"/>
<path d="M343.6 1502.5 C344.4 1503.2 347.9 1504.8 348.6 1506.5 C349.2 1508.2 347.7 1511.5 347.6 1512.5" stroke-width="1.8" fill="none"/>
<ellipse cx="303.9" cy="1456.7" rx="4.2" ry="2.6" transform="rotate(65 303.9 1456.7)" stroke-width="1.9" fill="none"/>
<ellipse cx="366.8" cy="1466.8" rx="4.2" ry="2.6" transform="rotate(65 366.8 1466.8)" stroke-width="1.9" fill="none"/>
<ellipse cx="366.8" cy="1439.9" rx="4.2" ry="2.6" transform="rotate(65 366.8 1439.9)" stroke-width="1.9" fill="none"/>
<ellipse cx="371.3" cy="1496" rx="4.2" ry="2.6" transform="rotate(65 371.3 1496)" stroke-width="1.9" fill="none"/>
<path d="M317.4 1390.4 L342.1 1403.9 L364.5 1444.4" stroke-width="1.9" fill="none"/>
<path d="M342.1 1403.9 L339.8 1419.6 L351.1 1433.1" stroke-width="2" fill="none" stroke-dasharray="9 4.5"/>
<path d="M369 1392.7 L387 1415.2 L362.3 1428.6 L371.3 1448.9" stroke-width="1.9" fill="none"/>
<path d="M366.8 1379.2 L375.8 1381.5 L378 1388.2 L370.2 1392.7" stroke-width="3" fill="none"/>
<path d="M387 1415.2 C389.2 1413.8 396.4 1406.9 400.5 1407.3 C404.6 1407.7 409.8 1415.7 411.7 1417.4" stroke-width="1.9" fill="none"/>
<path d="M396 1433.1 L407.2 1439.9 L410.6 1455.6" stroke-width="1.9" fill="none"/>
<path d="M297.1 1462.3 L310.6 1484.8 L337.6 1505" stroke-width="2" fill="none" stroke-dasharray="9 4.5"/>
<path d="M299.4 1475.8 L247.7 1511.8" stroke-width="2" fill="none" stroke-dasharray="9 4.5"/>
<path d="M303.9 1471.3 L310.6 1480.3" stroke-width="1.9" fill="none"/>
<path d="M261.2 1507.3 L276.9 1496 L292.6 1487" stroke-width="1.9" fill="none"/>
<path d="M351.1 1507.3 L353.3 1496" stroke-width="1.9" fill="none"/>
<path d="M360 1480.3 L369 1475.8 L373.5 1484.8" stroke-width="1.9" fill="none"/>
<path d="M364.5 1502.8 L373.5 1507.3 L380.3 1500.5" stroke-width="1.9" fill="none"/>
<path d="M247.7 1511.8 L342.1 1563.4" stroke-width="2" fill="none" stroke-dasharray="9 4.5"/>
<path d="M258.9 1509.5 L344.3 1556.7" stroke-width="2" fill="none" stroke-dasharray="9 4.5"/>
<path d="M344.3 1511.8 L344.3 1563.4" stroke-width="2" fill="none" stroke-dasharray="9 4.5"/>
<path d="M373.5 1493.8 L414 1475.8 L418.5 1462.3 L411.7 1455.6" stroke-width="2" fill="none" stroke-dasharray="9 4.5"/>
<path d="M245.5 1520.7 C250.3 1523.4 266.1 1531.2 274.7 1536.5 C283.3 1541.7 289.6 1547.3 297.1 1552.2 C304.6 1557.1 312.1 1561.6 319.6 1565.7 C327.1 1569.8 338.3 1575 342.1 1576.9" stroke-width="1.9" fill="none"/>
<path d="M342.1 1576.9 L351.1 1569.1 L364.5 1567.9 L373.5 1572.4 L400.5 1558.9" stroke-width="2" fill="none" stroke-dasharray="9 4.5"/>
<path d="M310.6 1543.2 L319.6 1525.2 L328.6 1527.5" stroke-width="2" fill="none" stroke-dasharray="9 4.5"/>
<path d="M303.9 1538.7 L301.6 1533.1 L306.1 1529.7" stroke-width="1.9" fill="none"/>
<ellipse cx="426.3" cy="1470.2" rx="5.5" ry="3.2" transform="rotate(-65 426.3 1470.2)" stroke-width="1.9" fill="none"/>
<ellipse cx="426.3" cy="1500.5" rx="5.5" ry="3.2" transform="rotate(-65 426.3 1500.5)" stroke-width="1.9" fill="none"/>
<ellipse cx="371.3" cy="1532" rx="5.5" ry="3.2" transform="rotate(-65 371.3 1532)" stroke-width="1.9" fill="none"/>
<path d="M400.5 1558.9 L431.9 1538.7 L440.9 1536.5 L470.1 1552.2 L470.1 1592.6 L458.9 1597.1 L431.9 1588.1 L409.5 1572.4 L402.7 1561.2" stroke-width="2" fill="none" stroke-dasharray="9 4.5"/>
<path d="M405 1565.7 C407.2 1567.9 412.5 1574.7 418.5 1579.2 C424.4 1583.7 433.8 1589.6 440.9 1592.6 C448 1595.6 457.8 1596.4 461.1 1597.1" stroke-width="2" fill="none"/>
<path d="M409.5 1554.4 L418.5 1552.2 L422.9 1558.9" stroke-width="1.9" fill="none"/>
<path d="M422.9 1545.5 L431.9 1541 L436.4 1550" stroke-width="1.9" fill="none"/>
<path d="M422.9 1561.2 L431.9 1565.7 L429.7 1574.7" stroke-width="1.9" fill="none"/>
<path d="M443.2 1572.4 L454.4 1576.9 L452.2 1585.9" stroke-width="1.9" fill="none"/>
<path d="M456.7 1558.9 L461.1 1556.7 L463.4 1565.7" stroke-width="1.9" fill="none"/>
<path d="M470.1 1592.6 L500 1579.2" stroke-width="2" fill="none" stroke-dasharray="9 4.5"/>
<path d="M366.8 1373.4 L605 1253.2" stroke-width="2" fill="none" stroke-dasharray="9 4.5"/>
<path d="M344.9 1557 L632.5 1402.5" stroke-width="2" fill="none" stroke-dasharray="9 4.5"/>
<path d="M346 1550 L632.5 1395.5" stroke-width="2" fill="none" stroke-dasharray="9 4.5"/>
<path d="M377.3 1471.7 L636.3 1332" stroke-width="2" fill="none" stroke-dasharray="9 4.5"/>
<path d="M400 1467 L637 1340" stroke-width="2" fill="none" stroke-dasharray="9 4.5"/>
<path d="M611.4 1258.7 L613.6 1269.5 L620.1 1278.1" stroke-width="2" fill="none" stroke-dasharray="9 4.5"/>
<path d="M598.5 1267.3 L602.8 1284.6 L607.1 1282.5" stroke-width="2" fill="none" stroke-dasharray="9 4.5"/>
<path d="M633.1 1321.4 L641.8 1336.6 L640.7 1388.6" stroke-width="2" fill="none" stroke-dasharray="9 4.5"/>
<path d="M632 1405.9 L629.8 1457.8 L622.3 1463.2" stroke-width="2" fill="none" stroke-dasharray="9 4.5"/>
<path d="M617.9 1468.7 C616.5 1470.5 612.9 1476.4 609.3 1479.5 C605.7 1482.6 600.3 1483.8 596.3 1487.1 C592.3 1490.3 588 1493.4 585.5 1499 C582.9 1504.6 582.4 1515.2 581.1 1520.6 C579.9 1526 580.1 1528.6 577.9 1531.4 C575.7 1534.3 584.6 1528.4 568.1 1537.9 C551.7 1547.5 494.2 1580.3 479.4 1588.8" stroke-width="2" fill="none" stroke-dasharray="9 4.5"/>
<path d="M470.7 1553.1 L470.7 1593.1" stroke-width="2" fill="none" stroke-dasharray="9 4.5"/>
<path d="M600.6 1414.5 L626.6 1405.9" stroke-width="2" fill="none" stroke-dasharray="9 4.5"/>
<ellipse cx="614.7" cy="1362.6" rx="5.8" ry="3.3" transform="rotate(-65 614.7 1362.6)" stroke-width="1.9" fill="none"/>
<ellipse cx="559.5" cy="1395.1" rx="5.8" ry="3.3" transform="rotate(-65 559.5 1395.1)" stroke-width="1.9" fill="none"/>
<ellipse cx="614.7" cy="1392.9" rx="5.8" ry="3.3" transform="rotate(-65 614.7 1392.9)" stroke-width="1.9" fill="none"/>
<ellipse cx="559.5" cy="1424.3" rx="5.8" ry="3.3" transform="rotate(-65 559.5 1424.3)" stroke-width="1.9" fill="none"/>
<ellipse cx="426.3" cy="1470.8" rx="5.8" ry="3.3" transform="rotate(-65 426.3 1470.8)" stroke-width="1.9" fill="none"/>
<ellipse cx="426.3" cy="1501.1" rx="5.8" ry="3.3" transform="rotate(-65 426.3 1501.1)" stroke-width="1.9" fill="none"/>
<ellipse cx="371.1" cy="1532.5" rx="5.8" ry="3.3" transform="rotate(-65 371.1 1532.5)" stroke-width="1.9" fill="none"/>
<path d="M623.4 1282.5 L636.3 1282.5 L640.7 1291.1 L638.5 1299.8 L628.8 1304.1 L626.6 1293.3Z" stroke-width="2" fill="#444"/>
<path d="M641.8 1346.3 L648.3 1345.3 L649.3 1352.8 L642.8 1356.1Z" stroke-width="2" fill="#444"/>
<path d="M633.1 1398.3 L641.8 1395.1 L642.8 1402.6 L634.2 1408Z" stroke-width="2" fill="#444"/>
<path d="M628.8 1304.1 L633.1 1321.4" stroke-width="1.9" fill="none"/>
<path d="M638.5 1388.6 L641.8 1397.2" stroke-width="1.9" fill="none"/>
<path d="M436.1 1260.8 C437.9 1260.1 442.9 1256.5 446.9 1256.5 C450.9 1256.5 457 1257.2 459.9 1260.8 C462.8 1264.4 463.5 1266.2 464.2 1278.1 C464.9 1290.1 464.9 1321.1 464.2 1332.3 C463.5 1343.5 463.5 1341.7 459.9 1345.3 C456.3 1348.9 447.3 1353.2 442.6 1353.9 C437.9 1354.6 433.6 1350.3 431.8 1349.6" stroke-width="1.9" fill="none"/>
<path d="M436.1 1260.8 L442.6 1284.6 L446.9 1304.1 L444.7 1321.4 L431.8 1336.6" stroke-width="2" fill="none" stroke-dasharray="9 4.5"/>
<path d="M442.6 1284.6 L464.2 1282.5" stroke-width="1.9" fill="none"/>
<path d="M446.9 1308.5 L459.9 1306.3 L465.3 1297.6" stroke-width="2" fill="none"/>
<path d="M401.4 1256.5 C404.7 1260.8 416.6 1272.7 420.9 1282.5 C425.3 1292.2 427.1 1305.6 427.4 1314.9 C427.8 1324.3 423.8 1334.8 423.1 1338.8" stroke-width="2" fill="none" stroke-dasharray="9 4.5"/>
<path d="M425.3 1330.1 L431.8 1332.3 L433.9 1325.8" stroke-width="1.9" fill="none"/>
<path d="M358.1 1345.3 L373.3 1345.3 L384.1 1351.8" stroke-width="1.9" fill="none"/>
<path d="M367.9 1366.9 L367.9 1390.7 L388.5 1416.7 L360.3 1429.7 L371.1 1449.2" stroke-width="1.9" fill="none"/>
<path d="M388.5 1416.7 L401.4 1408 L407.9 1411.3 L412.3 1421" stroke-width="1.9" fill="none"/>
<path d="M394.9 1434 L407.9 1440.5 L411.2 1455.7" stroke-width="1.9" fill="none"/>
<path d="M366.8 1379.9 L378.7 1381 L379.8 1388.6 L371.1 1394Z" stroke-width="2" fill="#444"/>
<path d="M344.1 1518.5 L344.1 1566.1" stroke-width="2" fill="none" stroke-dasharray="9 4.5"/>
<path d="M362.5 1431.9 L367.9 1444.8 L373.3 1440.5 L367.9 1430.8" stroke-width="2" fill="none"/>
<path d="M362.5 1464.3 L369 1468.7" stroke-width="2" fill="none"/>
<path d="M366.8 1496.8 L373.3 1490.3 L378.7 1499 L370.1 1507.6" stroke-width="2" fill="none"/>
<path d="M373.3 1477.3 L401.4 1466.5 L404.7 1457.8" stroke-width="2" fill="none" stroke-dasharray="9 4.5"/>
<path d="M412.3 1463.2 L416.6 1475.2 L412.3 1479.5" stroke-width="1.9" fill="none"/>
<path d="M681.1 1032.3 L671.5 1025.4 L666.7 1014.7 L668.2 1002.9 L688.6 991.1 L691.9 971.7 L698.3 954.6 L711.2 938.5 L723 924.5 L724.1 900.9 L729 894.9 L743.8 886.9 L743.8 848.3 L785.3 820.8 L807.1 832.6 L807.1 846.2 L815.3 842.5 L821.7 844 L933.4 909.5 L940.9 917.6 L947.3 914.9 L968.2 926.7 L968.2 959.9 L972 969.6 L984.9 980.3 L1023.6 1001.8 L1031.1 1014.7 L1034.7 1029.7 L1035.8 1046.9 L1042.9 1068.4 L1051.5 1085.5 L1055.8 1099.9 L1036.4 1052.1 L1042.9 1062.9 L1053.6 1084.3 L1059 1105.8 L1057.9 1125.1 L1051.5 1142.3 L1037.5 1156.7 L1039 1160.6 L1041.8 1170.2 L1040.3 1179.9 L1035.4 1187.4 L1035.4 1264.7 L972 1316.2 L959.1 1313 L948.4 1305.5 L935.5 1309.8 L922.6 1308.7 L911.9 1301.2 L904.4 1292.6 L886.2 1288.3 L854 1277.6 L821.7 1262.5 L800.3 1247.5 L778.8 1228.2 L767 1215.3 L744.5 1187.4 L721.9 1172.8 L710.5 1159.5 L711.2 1131.6 L703.7 1103.7 L692.9 1071.5 L688.6 1046.9 L684.3 1036.2Z" stroke-width="0" fill="#fff"/>
<path d="M681.1 1032.3 C679.5 1031.1 673.8 1028 671.5 1025.4 C669.1 1022.8 668 1019.5 667.2 1016.8 C666.4 1014.1 666.3 1011.6 666.7 1009.3 C667.2 1007 667.9 1004.8 669.8 1002.9 C671.6 1000.9 674.8 999.5 677.9 997.5 C681.1 995.5 686.9 992.1 688.6 991.1" stroke-width="4" fill="none"/>
<path d="M688.6 991.1 L691.9 971.7 L698.3 954.6 L711.2 938.5 L723 924.5 L724.1 900.9 L729 894.9 L743.8 886.9" stroke-width="4" fill="none"/>
<path d="M743.8 886.9 L743.8 848.3 L785.3 820.8 L807.1 832.6 L807.1 846.2 L815.3 842.5 L821.7 844" stroke-width="4" fill="none"/>
<path d="M743.8 898.3 L743.8 886.9" stroke-width="4" fill="none"/>
<path d="M821.7 844 L933.4 909.5 L940.9 917.6" stroke-width="4" fill="none"/>
<path d="M940.9 917.6 L947.3 914.9 L968.2 926.7 L968.2 959.9" stroke-width="4" fill="none"/>
<path d="M968.2 959.9 C968.8 961.6 969.2 966.2 972 969.6 C974.8 973 976.3 975 984.9 980.3 C993.5 985.7 1015.9 996.1 1023.6 1001.8 C1031.2 1007.5 1029.2 1010 1031.1 1014.7 C1032.9 1019.3 1033.9 1024.3 1034.7 1029.7 C1035.5 1035.1 1034.4 1040.4 1035.8 1046.9 C1037.1 1053.3 1040.3 1061.9 1042.9 1068.4 C1045.5 1074.8 1049.3 1080.3 1051.5 1085.5 C1053.6 1090.8 1058.3 1105.5 1055.8 1099.9 C1053.2 1094.4 1038.6 1058.3 1036.4 1052.1 C1034.3 1046 1040 1057.5 1042.9 1062.9 C1045.7 1068.2 1050.9 1077.2 1053.6 1084.3 C1056.3 1091.5 1058.3 1099 1059 1105.8 C1059.7 1112.6 1059.2 1119.1 1057.9 1125.1 C1056.6 1131.2 1054.9 1137.1 1051.5 1142.3 C1048.1 1147.6 1039.8 1154.3 1037.5 1156.7" stroke-width="4" fill="none"/>
<path d="M1037.5 1156.7 C1037.8 1157.3 1038.3 1158.3 1039 1160.6 C1039.7 1162.8 1041.6 1167 1041.8 1170.2 C1042 1173.4 1041.4 1177 1040.3 1179.9 C1039.2 1182.7 1036.2 1186.1 1035.4 1187.4" stroke-width="4" fill="none"/>
<path d="M1035.4 1187.4 L1035.4 1264.7 L972 1316.2" stroke-width="4" fill="none"/>
<path d="M972 1316.2 C969.9 1315.7 963.1 1314.8 959.1 1313 C955.2 1311.2 952.3 1306 948.4 1305.5 C944.5 1304.9 939.8 1309.2 935.5 1309.8 C931.2 1310.3 926.6 1310.1 922.6 1308.7 C918.7 1307.3 915 1303.9 911.9 1301.2 C908.9 1298.5 905.7 1294 904.4 1292.6" stroke-width="4" fill="none"/>
<path d="M688.6 1046.8 C689.3 1050.7 689.8 1060.9 692.3 1070.4 C694.8 1079.9 700.5 1093.5 703.7 1103.7 C706.8 1113.9 710 1122.3 711.2 1131.6 C712.3 1140.9 710.6 1154.8 710.5 1159.5" stroke-width="4.8" fill="none"/>
<path d="M721.9 1172.8 C725.7 1175.2 736.9 1180.3 744.5 1187.4 C752 1194.5 763.2 1210.7 767 1215.3" stroke-width="4.6" fill="none"/>
<path d="M778.8 1228.2 C782.4 1231.4 793.1 1241.8 800.3 1247.5 C807.4 1253.2 812.8 1257.5 821.7 1262.5 C830.7 1267.5 843.2 1273.3 854 1277.6 C864.7 1281.9 877.7 1285.8 886.2 1288.3 C894.6 1290.8 898.9 1293.2 904.4 1292.6 C909.9 1292 916.9 1286 919.4 1284.7" stroke-width="4.6" fill="none"/>
<path d="M821.7 1261.5 C827.1 1263.6 843.2 1270.6 854 1274.3 C864.7 1278.1 877.2 1282.1 886.2 1284 C895.1 1285.9 902.3 1285.9 907.6 1285.7 C913 1285.5 916.6 1283.4 918.4 1282.9" stroke-width="1.8" fill="none"/>
<path d="M688.6 991.1 C687.6 992.7 682.9 998.2 682.2 1000.7 C681.5 1003.3 683.1 1005.3 684.3 1006.5 C685.6 1007.8 688.3 1010.5 689.7 1008.2 C691.1 1006 691.9 998.2 692.9 993.2 C694 988.2 694.4 983.6 696.2 978.2 C697.9 972.8 700.6 966 703.7 961 C706.7 956 710.8 952.8 714.4 948.1 C718 943.5 722.8 939.2 725.1 933.1 C727.5 927 727.8 915.2 728.4 911.6" stroke-width="1.8" fill="none"/>
<path d="M728.4 911 C729.6 911.3 732.5 912.5 735.9 912.7 C739.3 912.9 744.8 913.1 748.8 912.1 C752.7 911 756.4 908.3 759.5 906.3 C762.5 904.2 765.8 900.9 767 899.8" stroke-width="1.8" fill="none"/>
<ellipse cx="679.6" cy="1017.3" rx="9" ry="4.7" transform="rotate(65 679.6 1017.3)" stroke-width="2" fill="none"/>
<path d="M744.5 850.7 L750.9 855.4 L765.9 856.2 L807.4 832.8" stroke-width="1.8" fill="none"/>
<path d="M776.7 864.4 C775.2 866.2 770.2 870.8 767.6 875.1 C765.1 879.4 763.7 885.5 761.6 890.2 C759.6 894.8 757.3 899.5 755.2 903 C753.1 906.6 750.2 910.2 749.2 911.6" stroke-width="1.8" fill="none"/>
<path d="M743.8 886.9 C743.9 889.3 743.8 896.9 744.5 900.9 C745.1 904.9 747.1 909.5 747.7 911.2" stroke-width="1.8" fill="none"/>
<path d="M807.1 846.2 L775.6 865.5" stroke-width="4" fill="none"/>
<ellipse cx="759.5" cy="849.4" rx="7.6" ry="4.8" transform="rotate(-5 759.5 849.4)" stroke-width="1.8" fill="none"/>
<ellipse cx="759.5" cy="849.4" rx="4.2" ry="2.7" transform="rotate(-5 759.5 849.4)" stroke-width="1.8" fill="none"/>
<ellipse cx="786.3" cy="833.7" rx="7.6" ry="4.8" transform="rotate(-5 786.3 833.7)" stroke-width="1.8" fill="none"/>
<ellipse cx="786.3" cy="833.7" rx="4.2" ry="2.7" transform="rotate(-5 786.3 833.7)" stroke-width="1.8" fill="none"/>
<path d="M785.3 867 L893.7 929.5" stroke-width="1.8" fill="none"/>
<path d="M765.9 900.9 L770.2 894.5 L772.8 881.6 L887.2 947.1 L894.7 967.5 L908.7 988.9" stroke-width="1.8" fill="none"/>
<path d="M765.9 902 L772.4 898.8 L781 899.2 L877.6 953.5 L887.2 964.2 L894.7 984.6 L906.5 998.6 L978.5 1041.5 L978.5 1052.3" stroke-width="1.8" fill="none"/>
<path d="M767 905.6 L776.7 902.4 L875.4 957.8 L885.1 969.6 L892.6 988.9 L904.4 1002.9 L976.3 1046.9" stroke-width="1.8" fill="none"/>
<path d="M765.9 902 L761.6 920.2 L735.9 1001.8" stroke-width="1.8" fill="none"/>
<path d="M729.4 1024.3 L712.3 1076.9 L712.3 1088.8 L728.4 1149.9" stroke-width="1.8" fill="none"/>
<path d="M908.7 937.4 L947.3 914.9" stroke-width="4" fill="none"/>
<path d="M968.2 927.1 L931.2 948.6 L916.2 950.3 L908.7 944.3 L908.7 937.4" stroke-width="1.8" fill="none"/>
<path d="M908.7 944.3 L908.7 971.7 L910.8 988.9 L916.2 999.7 L978.5 1036.2 L978.5 1042.6" stroke-width="1.8" fill="none"/>
<path d="M931.2 948.6 L931.2 978.2 L935.5 988.9 L939.8 997.5 L984.9 1023.3 L993.5 1031.9 L996.7 1042.6 L996.7 1050.1 L980.6 1052.3" stroke-width="1.8" fill="none"/>
<path d="M935.5 988.9 L968.2 969.6" stroke-width="1.8" fill="none"/>
<ellipse cx="921.6" cy="942.1" rx="7.6" ry="4.8" transform="rotate(-5 921.6 942.1)" stroke-width="1.8" fill="none"/>
<ellipse cx="921.6" cy="942.1" rx="4" ry="2.5" transform="rotate(-5 921.6 942.1)" stroke-width="1.8" fill="none"/>
<ellipse cx="948.4" cy="926.7" rx="7.6" ry="4.8" transform="rotate(-5 948.4 926.7)" stroke-width="1.8" fill="none"/>
<ellipse cx="948.4" cy="926.7" rx="4" ry="2.5" transform="rotate(-5 948.4 926.7)" stroke-width="1.8" fill="none"/>
<path d="M1020.3 1031.4 C1021 1031.1 1023.2 1028.7 1024.6 1029.7 C1026.1 1030.7 1027.1 1032.9 1028.9 1037.2 C1030.7 1041.5 1032.9 1048.9 1035.4 1055.5 C1037.9 1062.1 1041.3 1070.9 1043.9 1076.9 C1046.6 1083 1050.2 1089.5 1051.5 1092" stroke-width="1.8" fill="none"/>
<path d="M1020.3 1031.4 C1020.7 1032.9 1020.9 1036.1 1022.5 1040.4 C1024.1 1044.8 1027 1051.2 1030 1057.6 C1033 1064.1 1037.5 1072.6 1040.7 1079.1 C1043.9 1085.5 1047.9 1093.4 1049.3 1096.3" stroke-width="1.8" fill="none"/>
<ellipse cx="783.5" cy="925.2" rx="8.3" ry="5.6" transform="rotate(72 783.5 925.2)" stroke-width="1.8" fill="none"/>
<ellipse cx="873.7" cy="977.1" rx="8.3" ry="5.6" transform="rotate(72 873.7 977.1)" stroke-width="1.8" fill="none"/>
<ellipse cx="765.9" cy="994.9" rx="8.3" ry="5.6" transform="rotate(72 765.9 994.9)" stroke-width="1.8" fill="none"/>
<ellipse cx="749.8" cy="1048.6" rx="8.3" ry="5.6" transform="rotate(72 749.8 1048.6)" stroke-width="1.8" fill="none"/>
<ellipse cx="892.2" cy="1067.3" rx="8.3" ry="5.6" transform="rotate(72 892.2 1067.3)" stroke-width="1.8" fill="none"/>
<ellipse cx="738.4" cy="1101" rx="8.3" ry="5.6" transform="rotate(72 738.4 1101)" stroke-width="1.8" fill="none"/>
<ellipse cx="746.6" cy="1171.4" rx="8.3" ry="5.6" transform="rotate(72 746.6 1171.4)" stroke-width="1.8" fill="none"/>
<ellipse cx="918.8" cy="1204.7" rx="8.3" ry="5.6" transform="rotate(72 918.8 1204.7)" stroke-width="1.8" fill="none"/>
<ellipse cx="910.8" cy="1265" rx="8.3" ry="5.6" transform="rotate(72 910.8 1265)" stroke-width="1.8" fill="none"/>
<ellipse cx="1010.2" cy="1262.6" rx="8.3" ry="5.6" transform="rotate(72 1010.2 1262.6)" stroke-width="1.8" fill="none"/>
<ellipse cx="829.3" cy="939.1" rx="5.8" ry="3.8" transform="rotate(72 829.3 939.1)" stroke-width="2.6" fill="none"/>
<ellipse cx="981.7" cy="1191.8" rx="8.3" ry="5.6" transform="rotate(72 981.7 1191.8)" stroke-width="2.6" fill="none"/>
<ellipse cx="1006.4" cy="1085.5" rx="5.2" ry="3.6" transform="rotate(72 1006.4 1085.5)" stroke-width="1.8" fill="none"/>
<ellipse cx="945.8" cy="1149.9" rx="5.2" ry="3.2" transform="rotate(72 945.8 1149.9)" stroke-width="1.8" fill="none"/>
<ellipse cx="964.5" cy="1303.9" rx="4.5" ry="3.5" transform="rotate(72 964.5 1303.9)" stroke-width="1.8" fill="none"/>
<path d="M901.2 1139.1 C901.4 1138 901.4 1134 902.3 1132.7 C903.1 1131.3 905.3 1130.8 906.5 1131.2 C907.8 1131.5 909.2 1134.2 909.8 1134.8" stroke-width="2" fill="none"/>
<path d="M767 1044.7 L770.2 1041.9 L821.7 1028.6 L828.2 1028.6 L836.8 1036.2 L888.3 1110 L892.6 1120.7 L890.4 1131.5 L884 1148.6" stroke-width="1.8" fill="none"/>
<path d="M765.9 1046.9 L782 1118.6" stroke-width="1.8" fill="none"/>
<path d="M775.6 1041.9 L792.8 1112.2" stroke-width="1.8" fill="none"/>
<path d="M787.4 1135.9 C788.8 1138 787.2 1142.4 796 1148.8 C804.8 1155.1 832.7 1169.9 840 1174.1" stroke-width="1.8" fill="none"/>
<path d="M798.1 1130.5 C799.6 1132.5 798 1136.1 806.7 1142.3 C815.5 1148.5 843.4 1163.4 850.7 1167.6" stroke-width="1.8" fill="none"/>
<path d="M856.1 1184.2 C857.2 1184.7 860.4 1187.2 862.5 1187.4 C864.7 1187.6 867 1187.6 869 1185.3 C870.9 1182.9 873.5 1175.4 874.3 1173.4" stroke-width="1.8" fill="none"/>
<path d="M864.7 1176.7 L871.1 1176.7" stroke-width="1.8" fill="none"/>
<path d="M1001.1 1148.6 L999.7 1150.9 L998.2 1152.8 L996.4 1154.5 L994.4 1155.9 L992.3 1156.9 L990 1157.7 L987.5 1158.1 L984.9 1158.3 L982.2 1158 L979.4 1157.5 L976.6 1156.7 L973.7 1155.5 L970.7 1154 L967.8 1152.3 L964.9 1150.2 L962 1147.9 L959.1 1145.3 L956.4 1142.6 L953.7 1139.6 L951.2 1136.4 L948.8 1133 L946.6 1129.5 L944.5 1125.9 L942.6 1122.2 L940.9 1118.5 L939.4 1114.7 L938.2 1110.9 L937.1 1107.1 L936.4 1103.4 L935.8 1099.7 L935.5 1096.2 L935.5 1092.8 L935.7 1089.5 L936.2 1086.4 L936.9 1083.5 L937.8 1080.9 L939 1078.4 L940.4 1076.3 L942 1074.4 L943.8 1072.8 L945.9 1071.4 L948.1 1070.5 L950.4 1069.8 L952.9 1069.4 L955.5 1069.4 L958.2 1069.7 L961 1070.3 L963.9 1071.2" stroke-width="3" fill="none"/>
<path d="M963.9 1071.2 L965.5 1071.8 L967 1072.5 L968.6 1073.3 L970.1 1074.2 L971.7 1075.1 L973.3 1076.2 L974.8 1077.3 L976.4 1078.5 L977.9 1079.8 L979.4 1081.1 L980.9 1082.5 L982.4 1084 L983.8 1085.5 L985.2 1087.1 L986.6 1088.7 L988 1090.4 L989.3 1092.1 L990.5 1093.9 L991.8 1095.8 L993 1097.6 L994.1 1099.5 L995.2 1101.4 L996.2 1103.4 L997.2 1105.4 L998.1 1107.4 L999 1109.4 L999.8 1111.4 L1000.5 1113.4 L1001.2 1115.4 L1001.8 1117.4 L1002.4 1119.5 L1002.9 1121.4 L1003.3 1123.4 L1003.6 1125.4 L1003.9 1127.3 L1004.1 1129.2 L1004.3 1131.1 L1004.3 1133 L1004.3 1134.8 L1004.2 1136.5 L1004.1 1138.2 L1003.9 1139.9 L1003.6 1141.5 L1003.2 1143.1 L1002.8 1144.5 L1002.3 1146 L1001.7 1147.3 L1001.1 1148.6" stroke-width="1.8" fill="none"/>
<path d="M955.1 1118.1 L954.4 1116.8 L953.8 1115.4 L953.1 1114 L952.6 1112.7 L952 1111.3 L951.5 1109.9 L951 1108.5 L950.5 1107.1 L950.1 1105.7 L949.7 1104.3 L949.4 1103 L949 1101.6 L948.8 1100.2 L948.5 1098.9 L948.3 1097.6 L948.1 1096.2 L948 1094.9 L947.9 1093.6 L947.8 1092.3 L947.8 1091.1 L947.8 1089.9 L947.9 1088.6 L947.9 1087.5 L948.1 1086.3 L948.2 1085.2 L948.4 1084.1 L948.6 1083 L948.9 1081.9 L949.2 1080.9 L949.6 1079.9 L949.9 1079 L950.3 1078.1 L950.8 1077.2 L951.3 1076.4 L951.8 1075.6 L952.3 1074.8 L952.9 1074.1 L953.5 1073.4 L954.1 1072.8 L954.8 1072.2 L955.5 1071.6 L956.2 1071.1 L956.9 1070.7 L957.7 1070.3 L958.5 1069.9 L959.3 1069.6 L960.2 1069.3 L961.1 1069.1" stroke-width="1.8" fill="none"/>
<path d="M1009.9 1129.8 L1009.8 1130.8 L1009.7 1131.8 L1009.5 1132.7 L1009.4 1133.7 L1009.2 1134.6 L1008.9 1135.5 L1008.7 1136.3 L1008.4 1137.2 L1008.1 1138 L1007.8 1138.8 L1007.5 1139.5 L1007.1 1140.3 L1006.7 1141 L1006.3 1141.7 L1005.8 1142.3 L1005.4 1143 L1004.9 1143.6 L1004.4 1144.1 L1003.9 1144.7 L1003.3 1145.2 L1002.7 1145.7 L1002.1 1146.1 L1001.5 1146.5 L1000.9 1146.9 L1000.3 1147.3 L999.6 1147.6 L998.9 1147.9 L998.2 1148.1 L997.5 1148.3 L996.7 1148.5 L996 1148.7 L995.2 1148.8 L994.5 1148.9 L993.7 1148.9 L992.9 1149 L992.1 1148.9 L991.2 1148.9 L990.4 1148.8 L989.5 1148.7 L988.7 1148.5 L987.8 1148.4 L987 1148.1 L986.1 1147.9 L985.2 1147.6 L984.3 1147.3 L983.4 1146.9 L982.5 1146.6 L981.6 1146.1" stroke-width="1.8" fill="none"/>
<path d="M999.9 1055.5 C1002.4 1056.9 1010.3 1060.1 1015 1064.1 C1019.6 1068 1025.2 1073 1027.8 1079.1 C1030.5 1085.2 1031.1 1094.8 1031.1 1100.6 C1031.1 1106.3 1028.4 1111.3 1027.8 1113.4" stroke-width="1.8" fill="none"/>
<path d="M980.6 1052.3 C983.5 1053.5 992.1 1056.4 997.8 1059.8 C1003.5 1063.2 1011.2 1067.6 1015 1072.6 C1018.7 1077.7 1020.2 1081.6 1020.3 1089.8 C1020.5 1098.1 1016.8 1116.7 1016 1122" stroke-width="1.8" fill="none"/>
<path d="M1002.1 1148.8 C1001 1151.6 998.5 1162.4 995.6 1165.9 C992.8 1169.5 990.6 1169.5 984.9 1170.2 C979.2 1170.9 967 1168.8 961.3 1170.2 C955.6 1171.7 953.1 1175.6 950.6 1178.8 C948.1 1182 946.8 1184.2 946.3 1189.5 C945.7 1194.9 947.7 1204.6 947.3 1211 C947 1217.5 948.2 1216.4 944.1 1228.2 C940 1240 926.2 1272.9 922.6 1281.9" stroke-width="1.8" fill="none"/>
<path d="M1004.2 1150.9 C1003.3 1153.8 1001.7 1164.4 998.9 1168.1 C996 1171.7 993 1172 987.1 1172.8 C981.2 1173.6 969.1 1171.4 963.4 1172.8 C957.8 1174.2 955.6 1177.8 953.1 1181 C950.7 1184.1 949.4 1186.7 948.8 1191.7 C948.3 1196.7 950.3 1204.8 949.9 1211 C949.6 1217.3 950.7 1217.3 946.7 1229.3 C942.7 1241.2 929.3 1274 925.9 1282.9" stroke-width="1.8" fill="none"/>
<path d="M995.6 1170.2 L1002.1 1184.2 L1036.4 1167" stroke-width="1.8" fill="none"/>
<path d="M982.8 1172.4 C984.5 1175.2 992.6 1183.6 993.5 1189.5 C994.4 1195.4 989 1204.8 988.1 1207.8" stroke-width="1.8" fill="none"/>
<path d="M969.9 1201.4 L988.1 1207.8 L1034.3 1187.4" stroke-width="1.8" fill="none"/>
<path d="M969.9 1201.4 L965.6 1221.7 L950.6 1256.1 L947.3 1292.6 L938.8 1296.9 L922.6 1286.2" stroke-width="1.8" fill="none"/>
<path d="M984.9 1208.9 L983.8 1221.7 L969.9 1256.1 L965.6 1300.1 L959.1 1303.3" stroke-width="1.8" fill="none"/>
<path d="M1008.5 1200.3 L1004.2 1217.5 L991.3 1247.5 L989.2 1284 L967.7 1296.9" stroke-width="1.8" fill="none"/>
<path d="M1024.6 1189.5 L1024.6 1271.1" stroke-width="1.8" fill="none"/>
<path d="M919.4 1284.7 C922.8 1286.3 933.2 1291.6 939.8 1294.7 C946.4 1297.9 954.5 1303 959.1 1303.3 C963.8 1303.7 966.3 1298 967.7 1296.9" stroke-width="1.8" fill="none"/>
<path d="M1027.8 1101.5 C1028.4 1103.3 1032.1 1109 1031.1 1112.3 C1030 1115.5 1023.7 1114.4 1021.4 1120.8 C1019.1 1127.3 1018.5 1143.7 1017.1 1150.9 C1015.7 1158.1 1013.5 1161.6 1012.8 1163.8" stroke-width="1.8" fill="none"/>
<path d="M1015 1075.8 C1015.9 1078.6 1019.6 1085.4 1020.3 1092.9 C1021 1100.5 1020.5 1110.1 1019.3 1120.8 C1018 1131.6 1015.7 1149.6 1012.8 1157.3 C1010 1165 1003.9 1165.4 1002.1 1167" stroke-width="1.8" fill="none"/>
<path d="M1036.4 1075.8 C1038.6 1079.7 1046.5 1091.9 1049.3 1099.4 C1052.2 1106.9 1054 1114 1053.6 1120.8 C1053.2 1127.6 1050.4 1134.8 1047.2 1140.2 C1043.9 1145.5 1036.4 1150.9 1034.3 1153" stroke-width="1.8" fill="none"/>
<path d="M745.5 1187.4 L914.1 1282.9" stroke-width="1.8" fill="none"/>
<path d="M721.9 1172.8 C723.5 1173.1 729.3 1173.2 731.6 1174.5 C733.9 1175.9 735.2 1179.9 735.9 1181" stroke-width="1.8" fill="none"/>
<path d="M1280.5 1044.4 L1272.4 1036.8 L1275 1047.2 L1267.1 1039.2 L1269.2 1049.4 L1261.5 1040.9 L1263.1 1051 L1255.6 1042.1 L1256.7 1052 L1249.5 1042.7 L1250.1 1052.4 L1243.2 1042.7 L1243.3 1052.1 L1236.7 1042.2 L1236.2 1051.3 L1230 1041.1 L1229.1 1049.8 L1223.2 1039.4 L1221.8 1047.8 L1216.3 1037.2 L1214.3 1045.1 L1209.3 1034.4 L1206.8 1041.9 L1202.3 1031.1 L1199.3 1038.1 L1195.2 1027.2 L1191.8 1033.7 L1188.1 1022.8 L1184.2 1028.8 L1181.1 1018 L1176.7 1023.4 L1174.1 1012.6 L1169.3 1017.5 L1167.2 1006.8 L1162 1011.1 L1160.4 1000.6 L1154.8 1004.3 L1153.7 993.9 L1147.8 997 L1147.2 986.9 L1141 989.3 L1140.9 979.5 L1134.4 981.3 L1134.8 971.8 L1128 973 L1129 963.9 L1121.9 964.3 L1123.4 955.6 L1116.1 955.4 L1118.1 947.1" stroke-width="2" fill="none"/>
<path d="M1105.4 936.9 L1108.4 929.6 L1100.6 927.4 L1104.1 920.6 L1096.1 917.8 L1100.1 911.5 L1092.1 908.1 L1096.5 902.4 L1088.4 898.3 L1093.3 893.2 L1085.2 888.6 L1090.6 884.1 L1082.4 878.9 L1088.2 875 L1080.1 869.3 L1086.2 866 L1078.2 859.7 L1084.7 857.2 L1076.8 850.3 L1083.6 848.5 L1075.9 841.1 L1083 839.9 L1075.4 832.2 L1082.8 831.7 L1075.4 823.5 L1083 823.6 L1075.9 815 L1083.7 815.9 L1076.8 806.9 L1084.8 808.5 L1078.2 799.2 L1086.4 801.4 L1080.1 791.8 L1088.4 794.7 L1082.4 784.9 L1090.8 788.4 L1085.2 778.4 L1093.6 782.5 L1088.4 772.3 L1096.9 777.1 L1092 766.8 L1100.5 772.2 L1096.1 761.8 L1104.5 767.8 L1100.5 757.3 L1108.8 763.8 L1105.3 753.3 L1113.5 760.4 L1110.5 750 L1118.6 757.6 L1116 747.2 L1123.9 755.2 L1121.8 745 L1129.5 753.5 L1127.9 743.4 L1135.4 752.3 L1134.3 742.4 L1141.5 751.7 L1140.9 742 L1147.8 751.7 L1147.7 742.3 L1154.3 752.2 L1154.8 743.1 L1161 753.3 L1161.9 744.6 L1167.8 755 L1169.2 746.6 L1174.7 757.2 L1176.7 749.3 L1181.7 760 L1184.2 752.5 L1188.7 763.3 L1191.7 756.3 L1195.8 767.2 L1199.2 760.7 L1202.9 771.6 L1206.8 765.6 L1209.9 776.4 L1214.3 771 L1216.9 781.8 L1221.7 776.9 L1223.8 787.6 L1229 783.3 L1230.6 793.8 L1236.2 790.1 L1237.3 800.5 L1243.2 797.4 L1243.8 807.5 L1250 805.1 L1250.1 814.9 L1256.6 813.1 L1256.2 822.6 L1263 821.4 L1262 830.5 L1269.1 830.1 L1267.6 838.8 L1274.9 839 L1272.9 847.3 L1280.4 848.2 L1277.9 856 L1285.6 857.5 L1282.6 864.8 L1290.4 867 L1286.9 873.8 L1294.9 876.6 L1290.9 882.9 L1298.9 886.3 L1294.5 892 L1302.6 896.1 L1297.7 901.2 L1305.8 905.8 L1300.4 910.3 L1308.6 915.5 L1302.8 919.4 L1310.9 925.1 L1304.8 928.4 L1312.8 934.7 L1306.3 937.2 L1314.2 944.1 L1307.4 945.9 L1315.1 953.3 L1308 954.5 L1315.6 962.2 L1308.2 962.7 L1315.6 970.9 L1308 970.8 L1315.1 979.4 L1307.3 978.5 L1314.2 987.5 L1306.2 985.9 L1312.8 995.2 L1304.6 993 L1310.9 1002.6 L1302.6 999.7 L1308.6 1009.5 L1300.2 1006 L1305.8 1016 L1297.4 1011.9 L1302.6 1022.1 L1294.1 1017.3 L1299 1027.6 L1290.5 1022.2 L1294.9 1032.6 L1286.5 1026.6 L1290.5 1037.1 L1282.2 1030.6 L1285.7 1041.1 L1277.5 1034" stroke-width="2" fill="none"/>
<path d="M1280.5 1044.4 L1286.5 1040.9" stroke-width="3.2" fill="none"/>
<path d="M1286.5 1040.9 L1279.4 1035.1" stroke-width="3" fill="none"/>
<path d="M1280.5 1044.4 L1272.4 1036.8" stroke-width="2.6" fill="none"/>
<path d="M1275 1047.2 L1281 1043.7" stroke-width="3.2" fill="none"/>
<path d="M1281 1043.7 L1274 1037.4" stroke-width="3" fill="none"/>
<path d="M1275 1047.2 L1267.1 1039.2" stroke-width="2.6" fill="none"/>
<path d="M1269.2 1049.4 L1275.2 1045.9" stroke-width="3.2" fill="none"/>
<path d="M1275.2 1045.9 L1268.3 1039.2" stroke-width="3" fill="none"/>
<path d="M1269.2 1049.4 L1261.5 1040.9" stroke-width="2.6" fill="none"/>
<path d="M1263.1 1051 L1269.1 1047.5" stroke-width="3.2" fill="none"/>
<path d="M1269.1 1047.5 L1262.4 1040.4" stroke-width="3" fill="none"/>
<path d="M1263.1 1051 L1255.6 1042.1" stroke-width="2.6" fill="none"/>
<path d="M1256.7 1052 L1262.7 1048.5" stroke-width="3.2" fill="none"/>
<path d="M1262.7 1048.5 L1256.2 1041" stroke-width="3" fill="none"/>
<path d="M1256.7 1052 L1249.5 1042.7" stroke-width="2.6" fill="none"/>
<path d="M1250.1 1052.4 L1256.1 1048.9" stroke-width="3.2" fill="none"/>
<path d="M1256.1 1048.9 L1249.8 1041.1" stroke-width="3" fill="none"/>
<path d="M1250.1 1052.4 L1243.2 1042.7" stroke-width="2.6" fill="none"/>
<path d="M1243.3 1052.1 L1249.3 1048.6" stroke-width="3.2" fill="none"/>
<path d="M1249.3 1048.6 L1243.2 1040.5" stroke-width="3" fill="none"/>
<path d="M1243.3 1052.1 L1236.7 1042.2" stroke-width="2.6" fill="none"/>
<path d="M1236.2 1051.3 L1242.2 1047.8" stroke-width="3.2" fill="none"/>
<path d="M1242.2 1047.8 L1236.5 1039.4" stroke-width="3" fill="none"/>
<path d="M1236.2 1051.3 L1230 1041.1" stroke-width="2.6" fill="none"/>
<path d="M1229.1 1049.8 L1235.1 1046.3" stroke-width="3.2" fill="none"/>
<path d="M1235.1 1046.3 L1229.6 1037.7" stroke-width="3" fill="none"/>
<path d="M1229.1 1049.8 L1223.2 1039.4" stroke-width="2.6" fill="none"/>
<path d="M1221.8 1047.8 L1227.8 1044.3" stroke-width="3.2" fill="none"/>
<path d="M1227.8 1044.3 L1222.6 1035.4" stroke-width="3" fill="none"/>
<path d="M1221.8 1047.8 L1216.3 1037.2" stroke-width="2.6" fill="none"/>
<path d="M1214.3 1045.1 L1220.3 1041.6" stroke-width="3.2" fill="none"/>
<path d="M1220.3 1041.6 L1215.5 1032.6" stroke-width="3" fill="none"/>
<path d="M1214.3 1045.1 L1209.3 1034.4" stroke-width="2.6" fill="none"/>
<path d="M1206.8 1041.9 L1212.8 1038.4" stroke-width="3.2" fill="none"/>
<path d="M1212.8 1038.4 L1208.3 1029.2" stroke-width="3" fill="none"/>
<path d="M1206.8 1041.9 L1202.3 1031.1" stroke-width="2.6" fill="none"/>
<path d="M1080.1 791.8 L1086.1 788.3" stroke-width="3.2" fill="none"/>
<path d="M1086.1 788.3 L1093 789.9" stroke-width="3" fill="none"/>
<path d="M1080.1 791.8 L1088.4 794.7" stroke-width="2.6" fill="none"/>
<path d="M1082.4 784.9 L1088.4 781.4" stroke-width="3.2" fill="none"/>
<path d="M1088.4 781.4 L1095.5 783.5" stroke-width="3" fill="none"/>
<path d="M1082.4 784.9 L1090.8 788.4" stroke-width="2.6" fill="none"/>
<path d="M1085.2 778.4 L1091.2 774.9" stroke-width="3.2" fill="none"/>
<path d="M1091.2 774.9 L1098.3 777.6" stroke-width="3" fill="none"/>
<path d="M1085.2 778.4 L1093.6 782.5" stroke-width="2.6" fill="none"/>
<path d="M1088.4 772.3 L1094.4 768.8" stroke-width="3.2" fill="none"/>
<path d="M1094.4 768.8 L1101.6 772.1" stroke-width="3" fill="none"/>
<path d="M1088.4 772.3 L1096.9 777.1" stroke-width="2.6" fill="none"/>
<path d="M1092 766.8 L1098 763.3" stroke-width="3.2" fill="none"/>
<path d="M1098 763.3 L1105.3 767.1" stroke-width="3" fill="none"/>
<path d="M1092 766.8 L1100.5 772.2" stroke-width="2.6" fill="none"/>
<path d="M1096.1 761.8 L1102.1 758.3" stroke-width="3.2" fill="none"/>
<path d="M1102.1 758.3 L1109.3 762.6" stroke-width="3" fill="none"/>
<path d="M1096.1 761.8 L1104.5 767.8" stroke-width="2.6" fill="none"/>
<path d="M1100.5 757.3 L1106.5 753.8" stroke-width="3.2" fill="none"/>
<path d="M1106.5 753.8 L1113.7 758.7" stroke-width="3" fill="none"/>
<path d="M1100.5 757.3 L1108.8 763.8" stroke-width="2.6" fill="none"/>
<path d="M1105.3 753.3 L1111.3 749.8" stroke-width="3.2" fill="none"/>
<path d="M1111.3 749.8 L1118.5 755.2" stroke-width="3" fill="none"/>
<path d="M1105.3 753.3 L1113.5 760.4" stroke-width="2.6" fill="none"/>
<path d="M1110.5 750 L1116.5 746.5" stroke-width="3.2" fill="none"/>
<path d="M1116.5 746.5 L1123.6 752.3" stroke-width="3" fill="none"/>
<path d="M1110.5 750 L1118.6 757.6" stroke-width="2.6" fill="none"/>
<path d="M1116 747.2 L1122 743.7" stroke-width="3.2" fill="none"/>
<path d="M1122 743.7 L1129 750" stroke-width="3" fill="none"/>
<path d="M1116 747.2 L1123.9 755.2" stroke-width="2.6" fill="none"/>
<path d="M1121.8 745 L1127.8 741.5" stroke-width="3.2" fill="none"/>
<path d="M1127.8 741.5 L1134.7 748.2" stroke-width="3" fill="none"/>
<path d="M1121.8 745 L1129.5 753.5" stroke-width="2.6" fill="none"/>
<path d="M1127.9 743.4 L1133.9 739.9" stroke-width="3.2" fill="none"/>
<path d="M1133.9 739.9 L1140.6 747" stroke-width="3" fill="none"/>
<path d="M1127.9 743.4 L1135.4 752.3" stroke-width="2.6" fill="none"/>
<path d="M1134.3 742.4 L1140.3 738.9" stroke-width="3.2" fill="none"/>
<path d="M1140.3 738.9 L1146.8 746.4" stroke-width="3" fill="none"/>
<path d="M1134.3 742.4 L1141.5 751.7" stroke-width="2.6" fill="none"/>
<path d="M1140.9 742 L1146.9 738.5" stroke-width="3.2" fill="none"/>
<path d="M1146.9 738.5 L1153.2 746.3" stroke-width="3" fill="none"/>
<path d="M1140.9 742 L1147.8 751.7" stroke-width="2.6" fill="none"/>
<path d="M1147.7 742.3 L1153.7 738.8" stroke-width="3.2" fill="none"/>
<path d="M1153.7 738.8 L1159.8 746.9" stroke-width="3" fill="none"/>
<path d="M1147.7 742.3 L1154.3 752.2" stroke-width="2.6" fill="none"/>
<path d="M1154.8 743.1 L1160.8 739.6" stroke-width="3.2" fill="none"/>
<path d="M1160.8 739.6 L1166.5 748" stroke-width="3" fill="none"/>
<path d="M1154.8 743.1 L1161 753.3" stroke-width="2.6" fill="none"/>
<path d="M1161.9 744.6 L1167.9 741.1" stroke-width="3.2" fill="none"/>
<path d="M1167.9 741.1 L1173.4 749.7" stroke-width="3" fill="none"/>
<path d="M1161.9 744.6 L1167.8 755" stroke-width="2.6" fill="none"/>
<path d="M1169.2 746.6 L1175.2 743.1" stroke-width="3.2" fill="none"/>
<path d="M1175.2 743.1 L1180.4 752" stroke-width="3" fill="none"/>
<path d="M1169.2 746.6 L1174.7 757.2" stroke-width="2.6" fill="none"/>
<path d="M1176.7 749.3 L1182.7 745.8" stroke-width="3.2" fill="none"/>
<path d="M1182.7 745.8 L1187.5 754.8" stroke-width="3" fill="none"/>
<path d="M1176.7 749.3 L1181.7 760" stroke-width="2.6" fill="none"/>
<path d="M1184.2 752.5 L1190.2 749" stroke-width="3.2" fill="none"/>
<path d="M1190.2 749 L1194.7 758.2" stroke-width="3" fill="none"/>
<path d="M1184.2 752.5 L1188.7 763.3" stroke-width="2.6" fill="none"/>
<path d="M1191.7 756.3 L1197.7 752.8" stroke-width="3.2" fill="none"/>
<path d="M1197.7 752.8 L1201.8 762.1" stroke-width="3" fill="none"/>
<path d="M1191.7 756.3 L1195.8 767.2" stroke-width="2.6" fill="none"/>
<path d="M1199.2 760.7 L1205.2 757.2" stroke-width="3.2" fill="none"/>
<path d="M1205.2 757.2 L1209 766.5" stroke-width="3" fill="none"/>
<path d="M1199.2 760.7 L1202.9 771.6" stroke-width="2.6" fill="none"/>
<path d="M1206.8 765.6 L1212.8 762.1" stroke-width="3.2" fill="none"/>
<path d="M1212.8 762.1 L1216.1 771.4" stroke-width="3" fill="none"/>
<path d="M1206.8 765.6 L1209.9 776.4" stroke-width="2.6" fill="none"/>
<path d="M1214.3 771 L1220.3 767.5" stroke-width="3.2" fill="none"/>
<path d="M1220.3 767.5 L1223.2 776.8" stroke-width="3" fill="none"/>
<path d="M1214.3 771 L1216.9 781.8" stroke-width="2.6" fill="none"/>
<path d="M1221.7 776.9 L1227.7 773.4" stroke-width="3.2" fill="none"/>
<path d="M1227.7 773.4 L1230.2 782.7" stroke-width="3" fill="none"/>
<path d="M1221.7 776.9 L1223.8 787.6" stroke-width="2.6" fill="none"/>
<path d="M1229 783.3 L1235 779.8" stroke-width="3.2" fill="none"/>
<path d="M1235 779.8 L1237.1 789" stroke-width="3" fill="none"/>
<path d="M1229 783.3 L1230.6 793.8" stroke-width="2.6" fill="none"/>
<path d="M1236.2 790.1 L1242.2 786.6" stroke-width="3.2" fill="none"/>
<path d="M1242.2 786.6 L1243.8 795.7" stroke-width="3" fill="none"/>
<path d="M1236.2 790.1 L1237.3 800.5" stroke-width="2.6" fill="none"/>
<path d="M1243.2 797.4 L1249.2 793.9" stroke-width="3.2" fill="none"/>
<path d="M1249.2 793.9 L1250.4 802.8" stroke-width="3" fill="none"/>
<path d="M1243.2 797.4 L1243.8 807.5" stroke-width="2.6" fill="none"/>
<path d="M1250 805.1 L1256 801.6" stroke-width="3.2" fill="none"/>
<path d="M1256 801.6 L1256.8 810.3" stroke-width="3" fill="none"/>
<path d="M1250 805.1 L1250.1 814.9" stroke-width="2.6" fill="none"/>
<path d="M1256.6 813.1 L1262.6 809.6" stroke-width="3.2" fill="none"/>
<path d="M1262.6 809.6 L1262.9 818.1" stroke-width="3" fill="none"/>
<path d="M1256.6 813.1 L1256.2 822.6" stroke-width="2.6" fill="none"/>
<path d="M1263 821.4 L1269 817.9" stroke-width="3.2" fill="none"/>
<path d="M1269 817.9 L1268.9 826.2" stroke-width="3" fill="none"/>
<path d="M1263 821.4 L1262 830.5" stroke-width="2.6" fill="none"/>
<path d="M1269.1 830.1 L1275.1 826.6" stroke-width="3.2" fill="none"/>
<path d="M1275.1 826.6 L1274.5 834.6" stroke-width="3" fill="none"/>
<path d="M1269.1 830.1 L1267.6 838.8" stroke-width="2.6" fill="none"/>
<path d="M1274.9 839 L1280.9 835.5" stroke-width="3.2" fill="none"/>
<path d="M1280.9 835.5 L1279.9 843.2" stroke-width="3" fill="none"/>
<path d="M1274.9 839 L1272.9 847.3" stroke-width="2.6" fill="none"/>
<path d="M1280.4 848.2 L1286.4 844.7" stroke-width="3.2" fill="none"/>
<path d="M1286.4 844.7 L1284.9 852" stroke-width="3" fill="none"/>
<path d="M1280.4 848.2 L1277.9 856" stroke-width="2.6" fill="none"/>
<path d="M1285.6 857.5 L1291.6 854" stroke-width="3.2" fill="none"/>
<path d="M1291.6 854 L1289.7 860.9" stroke-width="3" fill="none"/>
<path d="M1285.6 857.5 L1282.6 864.8" stroke-width="2.6" fill="none"/>
<path d="M1290.4 867 L1296.4 863.5" stroke-width="3.2" fill="none"/>
<path d="M1296.4 863.5 L1294 870" stroke-width="3" fill="none"/>
<path d="M1290.4 867 L1286.9 873.8" stroke-width="2.6" fill="none"/>
<path d="M1294.9 876.6 L1300.9 873.1" stroke-width="3.2" fill="none"/>
<path d="M1300.9 873.1 L1298.1 879.2" stroke-width="3" fill="none"/>
<path d="M1294.9 876.6 L1290.9 882.9" stroke-width="2.6" fill="none"/>
<path d="M1298.9 886.3 L1304.9 882.8" stroke-width="3.2" fill="none"/>
<path d="M1304.9 882.8 L1301.7 888.4" stroke-width="3" fill="none"/>
<path d="M1298.9 886.3 L1294.5 892" stroke-width="2.6" fill="none"/>
<path d="M1302.6 896.1 L1308.6 892.6" stroke-width="3.2" fill="none"/>
<path d="M1308.6 892.6 L1304.9 897.7" stroke-width="3" fill="none"/>
<path d="M1302.6 896.1 L1297.7 901.2" stroke-width="2.6" fill="none"/>
<path d="M1305.8 905.8 L1311.8 902.3" stroke-width="3.2" fill="none"/>
<path d="M1311.8 902.3 L1307.8 906.9" stroke-width="3" fill="none"/>
<path d="M1305.8 905.8 L1300.4 910.3" stroke-width="2.6" fill="none"/>
<path d="M1308.6 915.5 L1314.6 912" stroke-width="3.2" fill="none"/>
<path d="M1314.6 912 L1310.2 916.1" stroke-width="3" fill="none"/>
<path d="M1308.6 915.5 L1302.8 919.4" stroke-width="2.6" fill="none"/>
<path d="M1310.9 925.1 L1316.9 921.6" stroke-width="3.2" fill="none"/>
<path d="M1316.9 921.6 L1312.2 925.2" stroke-width="3" fill="none"/>
<path d="M1310.9 925.1 L1304.8 928.4" stroke-width="2.6" fill="none"/>
<path d="M1312.8 934.7 L1318.8 931.2" stroke-width="3.2" fill="none"/>
<path d="M1318.8 931.2 L1313.7 934.2" stroke-width="3" fill="none"/>
<path d="M1312.8 934.7 L1306.3 937.2" stroke-width="2.6" fill="none"/>
<path d="M1314.2 944.1 L1320.2 940.6" stroke-width="3.2" fill="none"/>
<path d="M1320.2 940.6 L1314.8 943" stroke-width="3" fill="none"/>
<path d="M1314.2 944.1 L1307.4 945.9" stroke-width="2.6" fill="none"/>
<path d="M1315.1 953.3 L1321.1 949.8" stroke-width="3.2" fill="none"/>
<path d="M1321.1 949.8 L1315.5 951.7" stroke-width="3" fill="none"/>
<path d="M1315.1 953.3 L1308 954.5" stroke-width="2.6" fill="none"/>
<path d="M1315.6 962.2 L1321.6 958.7" stroke-width="3.2" fill="none"/>
<path d="M1321.6 958.7 L1315.7 960.1" stroke-width="3" fill="none"/>
<path d="M1315.6 962.2 L1308.2 962.7" stroke-width="2.6" fill="none"/>
<path d="M1315.6 970.9 L1321.6 967.4" stroke-width="3.2" fill="none"/>
<path d="M1321.6 967.4 L1315.4 968.2" stroke-width="3" fill="none"/>
<path d="M1315.6 970.9 L1308 970.8" stroke-width="2.6" fill="none"/>
<path d="M1315.1 979.4 L1321.1 975.9" stroke-width="3.2" fill="none"/>
<path d="M1321.1 975.9 L1314.7 976" stroke-width="3" fill="none"/>
<path d="M1315.1 979.4 L1307.3 978.5" stroke-width="2.6" fill="none"/>
<path d="M1314.2 987.5 L1320.2 984" stroke-width="3.2" fill="none"/>
<path d="M1320.2 984 L1313.6 983.6" stroke-width="3" fill="none"/>
<path d="M1314.2 987.5 L1306.2 985.9" stroke-width="2.6" fill="none"/>
<path d="M1312.8 995.2 L1318.8 991.7" stroke-width="3.2" fill="none"/>
<path d="M1318.8 991.7 L1312 990.7" stroke-width="3" fill="none"/>
<path d="M1312.8 995.2 L1304.6 993" stroke-width="2.6" fill="none"/>
<path d="M1310.9 1002.6 L1316.9 999.1" stroke-width="3.2" fill="none"/>
<path d="M1316.9 999.1 L1310 997.5" stroke-width="3" fill="none"/>
<path d="M1310.9 1002.6 L1302.6 999.7" stroke-width="2.6" fill="none"/>
<path d="M1308.6 1009.5 L1314.6 1006" stroke-width="3.2" fill="none"/>
<path d="M1314.6 1006 L1307.5 1003.9" stroke-width="3" fill="none"/>
<path d="M1308.6 1009.5 L1300.2 1006" stroke-width="2.6" fill="none"/>
<path d="M1305.8 1016 L1311.8 1012.5" stroke-width="3.2" fill="none"/>
<path d="M1311.8 1012.5 L1304.7 1009.8" stroke-width="3" fill="none"/>
<path d="M1305.8 1016 L1297.4 1011.9" stroke-width="2.6" fill="none"/>
<path d="M1302.6 1022.1 L1308.6 1018.6" stroke-width="3.2" fill="none"/>
<path d="M1308.6 1018.6 L1301.4 1015.3" stroke-width="3" fill="none"/>
<path d="M1302.6 1022.1 L1294.1 1017.3" stroke-width="2.6" fill="none"/>
<path d="M1299 1027.6 L1305 1024.1" stroke-width="3.2" fill="none"/>
<path d="M1305 1024.1 L1297.7 1020.3" stroke-width="3" fill="none"/>
<path d="M1299 1027.6 L1290.5 1022.2" stroke-width="2.6" fill="none"/>
<path d="M1294.9 1032.6 L1300.9 1029.1" stroke-width="3.2" fill="none"/>
<path d="M1300.9 1029.1 L1293.7 1024.8" stroke-width="3" fill="none"/>
<path d="M1294.9 1032.6 L1286.5 1026.6" stroke-width="2.6" fill="none"/>
<path d="M1290.5 1037.1 L1296.5 1033.6" stroke-width="3.2" fill="none"/>
<path d="M1296.5 1033.6 L1289.3 1028.7" stroke-width="3" fill="none"/>
<path d="M1290.5 1037.1 L1282.2 1030.6" stroke-width="2.6" fill="none"/>
<path d="M1285.7 1041.1 L1291.7 1037.6" stroke-width="3.2" fill="none"/>
<path d="M1291.7 1037.6 L1284.5 1032.2" stroke-width="3" fill="none"/>
<path d="M1285.7 1041.1 L1277.5 1034" stroke-width="2.6" fill="none"/>
<ellipse cx="1194" cy="898" rx="133" ry="76.7" transform="rotate(60 1194 898)" stroke-width="1.8" fill="none"/>
<path d="M1216.6 1005.8 L1210.9 1003.5 L1205.1 1000.6 L1199.4 997.4 L1193.6 993.7 L1187.9 989.6 L1182.2 985.2 L1176.6 980.3 L1171.1 975.1 L1165.7 969.6 L1160.4 963.7 L1155.4 957.6 L1150.5 951.2 L1145.8 944.6 L1141.4 937.8 L1137.2 930.7 L1133.3 923.6 L1129.6 916.3 L1126.3 908.9 L1123.2 901.5 L1120.5 894 L1118.1 886.6 L1116.1 879.2 L1114.4 871.8 L1113 864.5 L1112.1 857.4 L1111.5 850.4 L1111.2 843.6 L1111.4 837 L1111.9 830.7 L1112.8 824.6 L1114 818.8 L1115.6 813.3 L1117.6 808.2 L1119.9 803.4 L1122.5 799 L1125.5 795 L1128.8 791.4 L1132.3 788.2 L1136.2 785.5 L1140.3 783.2 L1144.7 781.4 L1149.3 780.1 L1154.2 779.2 L1159.2 778.8 L1164.4 778.9 L1169.7 779.5 L1175.2 780.5 L1180.8 782" stroke-width="1.8" fill="none"/>
<path d="M1370.5 613.9 L1377.3 610.5 L1384.6 608.1 L1392.3 606.6 L1400.4 606.1 L1408.8 606.4 L1417.5 607.8 L1426.4 610 L1435.5 613.2 L1444.7 617.2 L1454 622.2 L1463.2 627.9 L1472.4 634.5 L1481.5 641.9 L1490.4 649.9 L1499.1 658.6 L1507.6 668 L1515.7 677.9 L1523.4 688.3 L1530.6 699.1 L1537.4 710.3 L1543.7 721.8 L1549.5 733.5 L1554.6 745.4 L1559.2 757.4 L1563.1 769.3 L1566.3 781.2 L1568.8 793 L1570.6 804.5 L1571.7 815.8 L1572.1 826.7 L1571.7 837.2 L1570.6 847.2 L1568.8 856.6 L1566.3 865.5 L1563.1 873.7 L1559.2 881.2 L1554.7 887.9 L1549.5 893.8 L1543.8 898.9 L1537.5 903.1 L1468.5 939.1 L1461.7 942.5 L1454.4 944.9 L1446.7 946.4 L1438.6 946.9 L1430.2 946.6 L1421.5 945.2 L1412.6 943 L1403.5 939.8 L1394.3 935.8 L1385 930.8 L1375.8 925.1 L1366.6 918.5 L1357.5 911.1 L1348.6 903.1 L1339.9 894.4 L1331.4 885 L1323.3 875.1 L1315.6 864.7 L1308.4 853.9 L1301.6 842.7 L1295.3 831.2 L1289.5 819.5 L1284.4 807.6 L1279.8 795.6 L1275.9 783.7 L1272.7 771.8 L1270.2 760 L1268.4 748.5 L1267.3 737.2 L1266.9 726.3 L1267.3 715.8 L1268.4 705.8 L1270.2 696.4 L1272.7 687.5 L1275.9 679.3 L1279.8 671.8 L1284.3 665.1 L1289.5 659.2 L1295.2 654.1 L1301.5 649.9Z" stroke-width="4" fill="#fff"/>
<path d="M1301.5 649.9 L1307.1 647 L1313.1 644.8 L1319.4 643.3 L1325.9 642.3 L1332.8 642.1 L1339.8 642.4 L1347 643.5 L1354.4 645.2 L1361.9 647.5 L1369.6 650.4 L1377.2 654 L1385 658.2 L1392.7 662.9 L1400.4 668.2 L1408 674.1 L1415.5 680.5 L1422.9 687.3 L1430.1 694.6 L1437.2 702.4 L1444 710.5 L1450.6 719 L1456.8 727.9 L1462.8 737 L1468.4 746.3 L1473.7 755.9 L1478.6 765.6 L1483.1 775.5 L1487.2 785.4 L1490.9 795.4 L1494.1 805.3 L1496.8 815.3 L1499 825.1 L1500.8 834.8 L1502 844.3 L1502.8 853.6 L1503.1 862.7 L1502.8 871.5 L1502 879.9 L1500.8 888 L1499 895.7 L1496.8 902.9 L1494.1 909.7 L1490.9 916 L1487.3 921.7 L1483.2 926.9 L1478.7 931.6 L1473.8 935.7 L1468.5 939.1" stroke-width="1.8" fill="none"/>
<path d="M1312.7 653.3 L1318.7 651.4 L1325.1 650.1 L1331.7 649.4 L1338.5 649.5 L1345.6 650.2 L1352.8 651.5 L1360.2 653.6 L1367.7 656.3 L1375.3 659.6 L1382.9 663.5 L1390.6 668.1 L1398.2 673.2 L1405.7 678.9 L1413.2 685.2 L1420.5 691.9 L1427.7 699.1 L1434.6 706.8 L1441.4 714.8 L1447.9 723.2 L1454 732 L1459.9 741 L1465.4 750.3 L1470.6 759.8 L1475.3 769.5 L1479.7 779.3 L1483.6 789.1 L1487 799 L1490 808.8 L1492.5 818.6 L1494.5 828.3 L1495.9 837.8 L1496.9 847.1 L1497.4 856.2 L1497.3 864.9 L1496.7 873.4 L1495.6 881.5 L1494 889.2 L1491.9 896.4 L1489.3 903.2 L1486.2 909.5 L1482.6 915.3 L1478.6 920.4 L1474.2 925.1 L1469.3 929.1 L1464.1 932.4 L1458.5 935.2 L1452.5 937.3 L1446.2 938.7" stroke-width="1.8" fill="none"/>
<ellipse cx="1386" cy="788" rx="148" ry="85.4" transform="rotate(60 1386 788)" stroke-width="3.2" fill="none"/>
<path d="M1343.6 657.1 L1349.7 657.6 L1356 658.7 L1362.4 660.3 L1368.9 662.5 L1375.4 665.2 L1382 668.4 L1388.7 672.2 L1395.3 676.4 L1401.9 681.1 L1408.4 686.3 L1414.9 691.9 L1421.2 698 L1427.3 704.4 L1433.3 711.1 L1439.1 718.2 L1444.7 725.6 L1450 733.3 L1455 741.2 L1459.8 749.3 L1464.2 757.6 L1468.3 766 L1472 774.5 L1475.4 783 L1478.4 791.6 L1481 800.2 L1483.2 808.7 L1485 817.1 L1486.4 825.4 L1487.3 833.5 L1487.8 841.4 L1487.9 849.1 L1487.6 856.6 L1486.8 863.7 L1485.5 870.6 L1483.9 877 L1481.8 883.1 L1479.4 888.8 L1476.5 894.1 L1473.2 898.9 L1469.6 903.2 L1465.6 907 L1461.3 910.4 L1456.7 913.1 L1451.7 915.4 L1446.5 917.1 L1441 918.3 L1435.3 918.9 L1429.4 918.9" stroke-width="1.8" fill="none"/>
<ellipse cx="1387.2" cy="781" rx="116" ry="66.9" transform="rotate(60 1387.2 781)" stroke-width="1.8" fill="none"/>
<path d="M1428.8 871.5 L1424 871 L1419 870.1 L1413.9 868.7 L1408.7 866.9 L1403.4 864.6 L1398.1 861.8 L1392.9 858.6 L1387.6 855 L1382.4 850.9 L1377.2 846.5 L1372.2 841.8 L1367.3 836.7 L1362.5 831.3 L1357.9 825.6 L1353.5 819.6 L1349.4 813.5 L1345.5 807.1 L1341.8 800.6 L1338.4 794 L1335.3 787.2 L1332.5 780.4 L1330.1 773.6 L1328 766.8 L1326.2 760 L1324.8 753.3 L1323.7 746.7 L1323 740.3 L1322.7 734 L1322.8 727.9 L1323.3 722.1 L1324.1 716.6 L1325.3 711.3 L1326.8 706.4 L1328.7 701.8 L1331 697.5 L1333.5 693.7 L1336.4 690.3 L1339.6 687.3 L1343.1 684.7 L1346.9 682.6 L1350.9 681 L1355.2 679.8 L1359.6 679.1 L1364.3 678.9 L1369.1 679.2 L1374.1 679.9 L1379.2 681.2 L1384.3 682.9" stroke-width="1.8" fill="none"/>
<ellipse cx="1399.3" cy="786.1" rx="101" ry="58.3" transform="rotate(60 1399.3 786.1)" stroke-width="1.8" fill="none"/>
<path d="M1448 882.5 L1446.5 883.3 L1445 884.1 L1443.4 884.8 L1441.8 885.4 L1440.2 885.9 L1438.5 886.4 L1436.8 886.7 L1435 887.1 L1433.3 887.3 L1431.5 887.5 L1429.6 887.6 L1427.8 887.6 L1425.9 887.5 L1424 887.4 L1422.1 887.2 L1420.1 886.9 L1418.2 886.6 L1416.2 886.2 L1414.2 885.7 L1412.2 885.1 L1410.1 884.5 L1408.1 883.8 L1406 883 L1404 882.2 L1401.9 881.3 L1399.8 880.3 L1397.8 879.2 L1395.7 878.1 L1393.6 876.9 L1391.5 875.7 L1389.4 874.4 L1387.4 873 L1385.3 871.6 L1383.2 870 L1381.2 868.5 L1379.1 866.9 L1377.1 865.2 L1375.1 863.5 L1373.1 861.7 L1371.1 859.8 L1369.1 857.9 L1367.1 856 L1365.2 854 L1363.3 851.9 L1361.4 849.8 L1359.5 847.7 L1357.7 845.5 L1355.8 843.3" stroke-width="1.8" fill="none"/>
<path d="M1442.4 891.3 L1441.1 891.8 L1439.9 892.2 L1438.6 892.6 L1437.3 892.9 L1436 893.2 L1434.7 893.5 L1433.3 893.7 L1432 893.9 L1430.6 894 L1429.2 894.1 L1427.8 894.1 L1426.4 894.1 L1424.9 894.1 L1423.5 894 L1422 893.9 L1420.5 893.8 L1419 893.6 L1417.5 893.3 L1416 893.1 L1414.5 892.7 L1413 892.4 L1411.4 892 L1409.9 891.5 L1408.3 891.1 L1406.7 890.5 L1405.2 890 L1403.6 889.4 L1402 888.7 L1400.4 888 L1398.9 887.3 L1397.3 886.6 L1395.7 885.8 L1394.1 884.9 L1392.5 884.1 L1390.9 883.2 L1389.3 882.2 L1387.7 881.2 L1386.1 880.2 L1384.5 879.2 L1382.9 878.1 L1381.3 877 L1379.7 875.8 L1378.2 874.6 L1376.6 873.4 L1375 872.1 L1373.5 870.8 L1371.9 869.5 L1370.3 868.2" stroke-width="1.8" fill="none"/>
<ellipse cx="1367.6" cy="805.1" rx="51" ry="29.4" transform="rotate(60 1367.6 805.1)" stroke-width="1.8" fill="none"/>
<path d="M1347.7 762.6 L1349.9 762.2 L1352.1 762.1 L1354.5 762.3 L1356.9 762.7 L1359.4 763.3 L1361.9 764.2 L1364.4 765.4 L1367 766.7 L1369.6 768.3 L1372.1 770.1 L1374.6 772.1 L1377.1 774.4 L1379.5 776.7 L1381.8 779.3 L1384.1 782 L1386.3 784.9 L1388.3 787.8 L1390.2 790.9 L1392 794.1 L1393.6 797.3 L1395.1 800.6 L1396.4 803.9 L1397.6 807.2 L1398.5 810.5 L1399.3 813.7 L1399.9 817 L1400.3 820.1 L1400.5 823.2 L1400.6 826.2 L1400.4 829 L1400 831.7 L1399.4 834.3 L1398.7 836.7 L1397.7 838.9 L1396.6 840.9 L1395.3 842.7 L1393.9 844.3 L1392.3 845.7 L1390.5 846.8 L1388.6 847.7 L1386.6 848.3 L1384.4 848.7 L1382.2 848.9 L1379.9 848.7 L1377.5 848.4 L1375 847.8 L1372.5 846.9 L1369.9 845.8" stroke-width="1.8" fill="none"/>
<path d="M1352.2 760.3 L1354.4 760.5 L1356.7 760.9 L1359 761.6 L1361.4 762.4 L1363.8 763.4 L1366.2 764.7 L1368.6 766.1 L1371.1 767.7 L1373.4 769.5 L1375.8 771.5 L1378.1 773.6 L1380.4 775.9 L1382.6 778.3 L1384.7 780.9 L1386.7 783.6 L1388.7 786.3 L1390.5 789.2 L1392.3 792.2 L1393.9 795.2 L1395.4 798.2 L1396.7 801.3 L1397.9 804.4 L1399 807.6 L1399.9 810.7 L1400.6 813.8 L1401.2 816.8 L1401.6 819.8 L1401.9 822.7 L1402 825.6 L1401.9 828.3 L1401.7 831 L1401.3 833.5 L1400.7 835.9 L1400 838.1 L1399.1 840.2 L1398 842.1 L1396.9 843.8 L1395.5 845.4 L1394.1 846.8 L1392.5 847.9 L1390.7 848.9 L1388.9 849.7 L1387 850.2 L1384.9 850.6 L1382.8 850.7 L1380.6 850.6 L1378.4 850.3 L1376.1 849.8" stroke-width="1.8" fill="none"/>
<path d="M1368.2 841.7 L1366.1 840.7 L1364 839.4 L1361.9 838 L1359.9 836.4 L1357.9 834.7 L1355.9 832.8 L1353.9 830.8 L1352.1 828.7 L1350.3 826.5 L1348.5 824.2 L1346.9 821.7 L1345.3 819.3 L1343.9 816.7 L1342.5 814.1 L1341.3 811.4 L1340.2 808.8 L1339.2 806.1 L1338.4 803.4 L1337.7 800.7 L1337.1 798.1 L1336.7 795.5 L1336.4 793 L1336.3 790.5 L1336.3 788.1 L1336.5 785.8 L1336.8 783.6 L1337.2 781.5 L1337.8 779.6 L1338.6 777.7 L1339.4 776.1 L1340.4 774.5 L1341.6 773.2 L1342.8 772 L1344.2 771 L1345.7 770.1 L1347.2 769.5 L1348.9 769 L1350.6 768.7 L1352.5 768.6 L1354.4 768.7 L1356.3 769 L1358.3 769.5 L1360.3 770.1 L1362.4 771 L1364.5 772 L1366.6 773.2 L1368.6 774.6 L1370.7 776.1" stroke-width="3.4" fill="none"/>
<path d="M1370.7 776.1 L1372.4 777.5 L1374.1 779 L1375.8 780.6 L1377.4 782.3 L1379 784.1 L1380.5 786 L1382 787.9 L1383.5 789.9 L1384.8 792 L1386.1 794.1 L1387.3 796.3 L1388.5 798.5 L1389.5 800.7 L1390.5 803 L1391.4 805.3 L1392.2 807.5 L1392.9 809.8 L1393.5 812.1 L1394 814.3 L1394.4 816.5 L1394.7 818.7 L1394.8 820.8 L1394.9 822.9 L1394.9 824.9 L1394.8 826.9 L1394.5 828.7 L1394.2 830.5 L1393.8 832.3 L1393.2 833.9 L1392.6 835.4 L1391.8 836.8 L1391 838.1 L1390.1 839.3 L1389.1 840.4 L1388 841.3 L1386.8 842.2 L1385.5 842.9 L1384.2 843.4 L1382.8 843.9 L1381.4 844.2 L1379.9 844.3 L1378.3 844.4 L1376.7 844.3 L1375 844 L1373.4 843.7 L1371.6 843.1 L1369.9 842.5 L1368.2 841.7" stroke-width="1.8" fill="none"/>
<ellipse cx="1366.5" cy="806.5" rx="37.5" ry="21.6" transform="rotate(60 1366.5 806.5)" stroke-width="1.8" fill="none"/>
<ellipse cx="1369.9" cy="804.1" rx="16.6" ry="9.6" transform="rotate(60 1369.9 804.1)" stroke-width="2" fill="none"/>
<path d="M1369.8 792.1 C1370 793.5 1370.1 797.8 1371.1 800.5 C1372 803.2 1373.7 806.1 1375.4 808.2 C1377.1 810.3 1380.1 812.3 1381 813.2" stroke-width="3" fill="none"/>
<path d="M1369.8 792.1 C1370.8 792.8 1374.4 794.2 1376.1 796.3 C1377.9 798.4 1379.5 801.9 1380.3 804.7 C1381.2 807.5 1380.9 811.7 1381 813.2" stroke-width="1.8" fill="none"/>
<ellipse cx="1349.6" cy="790.9" rx="8" ry="4.9" transform="rotate(60 1349.6 790.9)" stroke-width="1.8" fill="none"/>
<ellipse cx="1370.9" cy="778.8" rx="8" ry="4.9" transform="rotate(60 1370.9 778.8)" stroke-width="1.8" fill="none"/>
<ellipse cx="1389.4" cy="816.9" rx="8" ry="4.9" transform="rotate(60 1389.4 816.9)" stroke-width="1.8" fill="none"/>
<ellipse cx="1368.7" cy="828.7" rx="8" ry="4.9" transform="rotate(60 1368.7 828.7)" stroke-width="1.8" fill="none"/>
<ellipse cx="1877.8" cy="504.2" rx="127.6" ry="73.6" transform="rotate(60 1877.8 504.2)" stroke-width="0" fill="#fff"/>
<path d="M1809.7 533.2 L1805.9 525.5 L1802.3 517.6 L1799.1 509.7 L1796.3 501.8 L1793.9 493.9 L1791.8 486 L1790.2 478.2 L1788.9 470.5 L1788.1 463 L1787.7 455.7 L1787.7 448.6 L1788.1 441.7 L1788.9 435.2 L1790.1 429 L1791.8 423.1 L1793.9 417.6 L1796.3 412.5 L1799.1 407.8 L1802.3 403.6 L1805.8 399.8 L1809.7 396.5 L1813.9 393.8 L1818.4 391.5 L1823.1 389.8 L1828.1 388.5 L1833.4 387.9 L1838.8 387.7 L1844.5 388.2 L1850.2 389.1 L1856.2 390.6 L1862.2 392.6 L1868.3 395.1 L1874.4 398.1 L1880.5 401.7 L1886.7 405.7 L1892.8 410.1 L1898.8 415 L1904.7 420.3 L1910.5 426 L1916.1 432.1 L1921.6 438.5 L1926.9 445.2 L1931.9 452.2 L1936.7 459.4 L1941.2 466.8 L1945.4 474.4 L1949.4 482.1 L1952.9 490 L1956.2 497.9 L1959 505.8 L1961.5 513.7 L1963.6 521.6 L1965.3 529.4 L1966.6 537.1 L1967.5 544.6 L1967.9 552 L1968 559.1 L1967.6 566 L1966.8 572.6 L1965.6 578.8 L1964 584.7 L1962 590.3 L1959.6 595.4 L1956.8 600.1 L1953.6 604.4 L1950.1 608.2 L1946.3 611.6 L1942.2 614.4 L1937.7 616.7 L1933 618.5 L1928 619.8 L1922.8 620.5 L1917.3 620.7 L1911.7 620.3 L1905.9 619.4 L1900 618 L1894 616 L1888 613.6 L1881.8 610.6 L1875.7 607.1 L1869.6 603.2 L1863.5 598.7 L1857.4 593.9 L1851.5 588.6 L1845.7 583 L1840 576.9 L1834.5 570.6 L1829.2 563.9 L1824.2 556.9 L1819.4 549.8" stroke-width="3.9" fill="none"/>
<path d="M1819.1 398.1 L1824.1 396.5 L1829.3 395.5 L1834.8 395.1 L1840.4 395.2 L1846.3 396 L1852.3 397.3 L1858.4 399.2 L1864.6 401.7 L1870.8 404.7 L1877.1 408.3 L1883.3 412.4 L1889.5 417 L1895.7 422 L1901.7 427.5 L1907.6 433.4 L1913.3 439.8 L1918.8 446.4 L1924 453.4 L1929 460.6 L1933.8 468.1 L1938.2 475.8 L1942.2 483.7 L1945.9 491.7 L1949.3 499.7 L1952.2 507.8 L1954.7 515.9 L1956.8 524 L1958.5 531.9 L1959.7 539.7 L1960.5 547.4 L1960.8 554.8 L1960.7 561.9 L1960.1 568.8 L1959.1 575.3 L1957.6 581.5 L1955.6 587.3 L1953.3 592.6 L1950.5 597.5 L1947.3 601.9 L1943.8 605.8 L1939.9 609.2 L1935.6 612.1 L1931 614.3 L1926.1 616 L1921 617.2 L1915.6 617.7 L1909.9 617.7 L1904.1 617" stroke-width="1.8" fill="none"/>
<ellipse cx="1874.6" cy="506.4" rx="80" ry="46.2" transform="rotate(60 1874.6 506.4)" stroke-width="1.8" fill="none"/>
<path d="M1910.7 578.6 L1930.4 618.9" stroke-width="2.2" fill="none"/>
<path d="M1909 579.1 L1928.6 619.5" stroke-width="1.8" fill="none"/>
<ellipse cx="1908.1" cy="598.6" rx="2.6" ry="1.7" transform="rotate(60 1908.1 598.6)" stroke-width="1.4" fill="none"/>
<path d="M1893.4 579.7 L1903.3 620.4" stroke-width="2.2" fill="none"/>
<path d="M1891.3 579.3 L1901 620" stroke-width="1.8" fill="none"/>
<ellipse cx="1884.6" cy="593.8" rx="2.6" ry="1.7" transform="rotate(60 1884.6 593.8)" stroke-width="1.4" fill="none"/>
<path d="M1873.7 572 L1872.7 608.2" stroke-width="2.2" fill="none"/>
<path d="M1871.5 570.6 L1870.3 606.7" stroke-width="1.8" fill="none"/>
<ellipse cx="1859.8" cy="578.5" rx="2.6" ry="1.7" transform="rotate(60 1859.8 578.5)" stroke-width="1.4" fill="none"/>
<path d="M1854.2 556.4 L1842.3 583.7" stroke-width="2.2" fill="none"/>
<path d="M1852.2 554.2 L1840.1 581.4" stroke-width="1.8" fill="none"/>
<ellipse cx="1836.8" cy="554.5" rx="2.6" ry="1.7" transform="rotate(60 1836.8 554.5)" stroke-width="1.4" fill="none"/>
<path d="M1837.1 534.7 L1815.9 549.9" stroke-width="2.2" fill="none"/>
<path d="M1835.5 532.1 L1814.1 547" stroke-width="1.8" fill="none"/>
<ellipse cx="1818.4" cy="524.7" rx="2.6" ry="1.7" transform="rotate(60 1818.4 524.7)" stroke-width="1.4" fill="none"/>
<path d="M1824.6 509.7 L1796.5 510.8" stroke-width="2.2" fill="none"/>
<path d="M1823.5 506.8 L1795.4 507.7" stroke-width="1.8" fill="none"/>
<ellipse cx="1806.7" cy="492.7" rx="2.6" ry="1.7" transform="rotate(60 1806.7 492.7)" stroke-width="1.4" fill="none"/>
<path d="M1818.1 484.2 L1786.5 471.2" stroke-width="2.2" fill="none"/>
<path d="M1817.8 481.5 L1786.2 468.3" stroke-width="1.8" fill="none"/>
<ellipse cx="1803.2" cy="462.3" rx="2.6" ry="1.7" transform="rotate(60 1803.2 462.3)" stroke-width="1.4" fill="none"/>
<path d="M1818.4 461.4 L1787.2 435.8" stroke-width="2.2" fill="none"/>
<path d="M1818.8 459.2 L1787.7 433.4" stroke-width="1.8" fill="none"/>
<ellipse cx="1808.4" cy="437.3" rx="2.6" ry="1.7" transform="rotate(60 1808.4 437.3)" stroke-width="1.4" fill="none"/>
<path d="M1825.5 444.1 L1798.4 409" stroke-width="2.2" fill="none"/>
<path d="M1826.6 442.6 L1799.6 407.4" stroke-width="1.8" fill="none"/>
<ellipse cx="1821.5" cy="420.6" rx="2.6" ry="1.7" transform="rotate(60 1821.5 420.6)" stroke-width="1.4" fill="none"/>
<path d="M1838.5 434.2 L1820.6 397.5" stroke-width="2.2" fill="none"/>
<path d="M1840.2 433.7 L1822.4 397" stroke-width="1.8" fill="none"/>
<ellipse cx="1841.1" cy="414.2" rx="2.6" ry="1.7" transform="rotate(60 1841.1 414.2)" stroke-width="1.4" fill="none"/>
<path d="M1855.8 433.1 L1846.8 396.1" stroke-width="2.2" fill="none"/>
<path d="M1857.9 433.5 L1849 396.5" stroke-width="1.8" fill="none"/>
<ellipse cx="1864.6" cy="419" rx="2.6" ry="1.7" transform="rotate(60 1864.6 419)" stroke-width="1.4" fill="none"/>
<path d="M1875.5 440.8 L1876.4 407.9" stroke-width="2.2" fill="none"/>
<path d="M1877.7 442.2 L1878.7 409.3" stroke-width="1.8" fill="none"/>
<ellipse cx="1889.4" cy="434.3" rx="2.6" ry="1.7" transform="rotate(60 1889.4 434.3)" stroke-width="1.4" fill="none"/>
<path d="M1895 456.4 L1905.8 431.6" stroke-width="2.2" fill="none"/>
<path d="M1897 458.6 L1908 433.8" stroke-width="1.8" fill="none"/>
<ellipse cx="1912.4" cy="458.3" rx="2.6" ry="1.7" transform="rotate(60 1912.4 458.3)" stroke-width="1.4" fill="none"/>
<path d="M1912.1 478.1 L1931.4 464.3" stroke-width="2.2" fill="none"/>
<path d="M1913.7 480.7 L1933.1 467.1" stroke-width="1.8" fill="none"/>
<ellipse cx="1930.8" cy="488.1" rx="2.6" ry="1.7" transform="rotate(60 1930.8 488.1)" stroke-width="1.4" fill="none"/>
<path d="M1924.6 503.1 L1950.2 502.1" stroke-width="2.2" fill="none"/>
<path d="M1925.7 506 L1951.3 505.1" stroke-width="1.8" fill="none"/>
<ellipse cx="1942.5" cy="520.1" rx="2.6" ry="1.7" transform="rotate(60 1942.5 520.1)" stroke-width="1.4" fill="none"/>
<path d="M1931.1 528.6 L1959.8 540.5" stroke-width="2.2" fill="none"/>
<path d="M1931.4 531.3 L1960.2 543.3" stroke-width="1.8" fill="none"/>
<ellipse cx="1946" cy="550.5" rx="2.6" ry="1.7" transform="rotate(60 1946 550.5)" stroke-width="1.4" fill="none"/>
<path d="M1930.8 551.4 L1959.2 574.7" stroke-width="2.2" fill="none"/>
<path d="M1930.4 553.6 L1958.7 577" stroke-width="1.8" fill="none"/>
<ellipse cx="1940.8" cy="575.5" rx="2.6" ry="1.7" transform="rotate(60 1940.8 575.5)" stroke-width="1.4" fill="none"/>
<path d="M1923.7 568.7 L1948.4 600.6" stroke-width="2.2" fill="none"/>
<path d="M1922.6 570.2 L1947.1 602.2" stroke-width="1.8" fill="none"/>
<ellipse cx="1927.7" cy="592.2" rx="2.6" ry="1.7" transform="rotate(60 1927.7 592.2)" stroke-width="1.4" fill="none"/>
<ellipse cx="1871.8" cy="505.9" rx="47" ry="27.1" transform="rotate(60 1871.8 505.9)" stroke-width="1.8" fill="none"/>
<path d="M1841.6 479.8 L1842.5 477.1 L1843.7 474.6 L1845.2 472.4 L1846.9 470.5 L1848.9 469 L1851 467.8 L1853.4 467 L1855.9 466.6 L1858.6 466.5 L1861.4 466.9 L1864.3 467.6 L1867.3 468.7 L1870.3 470.1 L1873.3 471.9 L1876.3 474.1 L1879.2 476.5 L1882.1 479.2 L1884.9 482.2 L1887.5 485.4 L1890 488.8 L1892.3 492.4 L1894.4 496.1 L1896.3 500 L1897.9 503.8 L1899.3 507.7 L1900.4 511.6 L1901.2 515.4 L1901.8 519.2 L1902 522.8 L1902 526.2 L1901.6 529.5 L1901 532.6 L1900.1 535.3 L1898.9 537.8 L1897.4 540 L1895.7 541.9 L1893.7 543.4 L1891.6 544.6 L1889.2 545.4 L1886.7 545.8 L1884 545.9 L1881.2 545.5 L1878.3 544.8 L1875.3 543.7 L1872.3 542.3 L1869.3 540.5 L1866.3 538.3 L1863.4 535.9" stroke-width="1.8" fill="none"/>
<path d="M1847.3 473.5 L1848.7 472.1 L1850.4 471 L1852.1 470.1 L1854 469.5 L1856 469.1 L1858.2 469 L1860.4 469.1 L1862.7 469.5 L1865 470.2 L1867.4 471.1 L1869.8 472.3 L1872.3 473.7 L1874.7 475.3 L1877.1 477.2 L1879.4 479.2 L1881.7 481.5 L1883.9 483.9 L1886 486.5 L1888 489.2 L1889.9 492 L1891.7 495 L1893.3 498 L1894.8 501.1 L1896.1 504.2 L1897.2 507.3 L1898.2 510.4 L1898.9 513.5 L1899.5 516.6 L1899.8 519.5 L1900 522.4 L1899.9 525.2 L1899.7 527.8 L1899.2 530.3 L1898.6 532.6 L1897.7 534.8 L1896.7 536.7 L1895.5 538.4 L1894.1 539.9 L1892.6 541.2 L1890.9 542.2 L1889.1 543 L1887.1 543.5 L1885 543.8 L1882.9 543.8 L1880.6 543.5 L1878.3 543 L1875.9 542.2 L1873.5 541.2" stroke-width="1.8" fill="none"/>
<ellipse cx="1867.6" cy="508.7" rx="29" ry="16.7" transform="rotate(60 1867.6 508.7)" stroke-width="1.8" fill="none"/>
<path d="M1863.8 526.3 L1862.6 525.1 L1861.4 523.9 L1860.2 522.6 L1859.1 521.2 L1858 519.8 L1857 518.3 L1856 516.8 L1855.1 515.2 L1854.2 513.6 L1853.5 512 L1852.7 510.3 L1852.1 508.7 L1851.6 507 L1851.1 505.4 L1850.7 503.7 L1850.4 502.1 L1850.2 500.5 L1850 499 L1850 497.5 L1850.1 496 L1850.2 494.6 L1850.4 493.3 L1850.7 492 L1851.1 490.9 L1851.6 489.8 L1852.2 488.8 L1852.8 487.8 L1853.5 487 L1854.3 486.3 L1855.2 485.7 L1856.1 485.2 L1857.1 484.8 L1858.1 484.5 L1859.2 484.3 L1860.3 484.3 L1861.5 484.4 L1862.7 484.5 L1863.9 484.8 L1865.2 485.2 L1866.4 485.7 L1867.7 486.3 L1869 487.1 L1870.3 487.9 L1871.6 488.8 L1872.8 489.8 L1874.1 490.9 L1875.3 492.1 L1876.5 493.4" stroke-width="1.8" fill="none"/>
<path d="M1878.6 531.1 L1878.1 531 L1877.6 531 L1877.2 530.9 L1876.7 530.8 L1876.2 530.7 L1875.7 530.6 L1875.2 530.4 L1874.7 530.2 L1874.2 530 L1873.7 529.8 L1873.2 529.6 L1872.7 529.3 L1872.2 529.1 L1871.7 528.8 L1871.2 528.4 L1870.6 528.1 L1870.1 527.8 L1869.6 527.4 L1869.1 527 L1868.6 526.6 L1868.1 526.2 L1867.7 525.7 L1867.2 525.3 L1866.7 524.8 L1866.2 524.3 L1865.7 523.8 L1865.3 523.3 L1864.8 522.8 L1864.4 522.2 L1863.9 521.7 L1863.5 521.1 L1863.1 520.6 L1862.7 520 L1862.3 519.4 L1861.9 518.8 L1861.5 518.2 L1861.1 517.6 L1860.8 516.9 L1860.4 516.3 L1860.1 515.7 L1859.8 515 L1859.5 514.4 L1859.2 513.7 L1858.9 513.1 L1858.6 512.4 L1858.4 511.8 L1858.1 511.1 L1857.9 510.4" stroke-width="1.8" fill="none"/>
<path d="M1878.7 527.3 L1878.3 527.3 L1878 527.3 L1877.6 527.2 L1877.2 527.2 L1876.9 527.1 L1876.5 527 L1876.1 526.9 L1875.7 526.8 L1875.3 526.6 L1875 526.5 L1874.6 526.3 L1874.2 526.1 L1873.8 525.9 L1873.4 525.7 L1873 525.5 L1872.6 525.3 L1872.2 525 L1871.8 524.8 L1871.4 524.5 L1871.1 524.2 L1870.7 523.9 L1870.3 523.6 L1869.9 523.3 L1869.5 523 L1869.2 522.6 L1868.8 522.3 L1868.4 521.9 L1868 521.6 L1867.7 521.2 L1867.3 520.8 L1867 520.4 L1866.6 520 L1866.3 519.6 L1866 519.1 L1865.6 518.7 L1865.3 518.3 L1865 517.8 L1864.7 517.4 L1864.4 516.9 L1864.1 516.4 L1863.8 516 L1863.5 515.5 L1863.2 515 L1863 514.5 L1862.7 514 L1862.5 513.5 L1862.2 513 L1862 512.5" stroke-width="1.8" fill="none"/>
<path d="M1867.3 485.8 L1870.7 499.2" stroke-width="1.8" fill="none"/>
<path d="M1877.4 515.9 L1887.4 522.7" stroke-width="1.8" fill="none"/>
<path d="M1848.8 448.8 C1849.1 446.9 1849.1 439.5 1850.2 437.1 C1851.3 434.7 1854 433.7 1855.6 434.6 C1857.1 435.4 1858.4 438.4 1859.8 442.1 C1861.1 445.9 1863.2 454.7 1863.9 457.2" stroke-width="1.5" fill="none"/>
<path d="M1854.4 448.2 C1854.6 446.5 1854.6 440.2 1855.7 438.1 C1856.8 436.1 1859.5 435 1861.1 435.9 C1862.7 436.9 1863.9 440 1865.3 443.8 C1866.7 447.6 1868.8 456.1 1869.5 458.6" stroke-width="1.5" fill="none"/>
<path d="M1859.9 447.5 C1860.1 446.1 1860.1 440.8 1861.3 439.1 C1862.4 437.4 1865 436.2 1866.6 437.3 C1868.2 438.3 1869.4 441.7 1870.8 445.5 C1872.2 449.3 1874.3 457.5 1875 459.9" stroke-width="1.5" fill="none"/>
<path d="M1865.5 446.8 C1865.7 445.7 1865.7 441.5 1866.8 440.1 C1867.9 438.8 1870.6 437.4 1872.2 438.6 C1873.8 439.8 1875 443.4 1876.4 447.2 C1877.8 450.9 1879.9 458.9 1880.6 461.3" stroke-width="1.5" fill="none"/>
<path d="M1871 446.2 C1871.2 445.3 1871.2 442.2 1872.3 441.1 C1873.5 440.1 1876.1 438.7 1877.7 440 C1879.3 441.2 1880.5 445.1 1881.9 448.8 C1883.3 452.6 1885.4 460.3 1886.1 462.6" stroke-width="1.5" fill="none"/>
<path d="M1860.6 548.7 C1860.7 549.9 1860.3 553.3 1861.4 556.2 C1862.5 559.1 1865.2 564.2 1867.3 566.3 C1869.4 568.4 1872.9 568.4 1874 568.8" stroke-width="1.5" fill="none"/>
<path d="M1866.1 550.3 C1866.3 551.7 1865.8 555.3 1867 558.2 C1868.1 561.2 1870.7 566 1872.8 568 C1874.9 569.9 1878.4 569.8 1879.5 570.1" stroke-width="1.5" fill="none"/>
<path d="M1871.7 552 C1871.8 553.4 1871.4 557.3 1872.5 560.2 C1873.6 563.2 1876.3 567.8 1878.4 569.6 C1880.5 571.5 1884 571.2 1885.1 571.5" stroke-width="1.5" fill="none"/>
<path d="M1877.2 553.7 C1877.3 555.1 1876.9 559.3 1878 562.2 C1879.2 565.2 1881.8 569.5 1883.9 571.3 C1886 573.1 1889.5 572.6 1890.6 572.8" stroke-width="1.5" fill="none"/>
<path d="M1882.7 555.4 C1882.9 556.9 1882.5 561.3 1883.6 564.3 C1884.7 567.2 1887.3 571.3 1889.4 573 C1891.5 574.6 1895 574 1896.2 574.2" stroke-width="1.5" fill="none"/>
<path d="M1820.3 472.3 C1822 473.2 1827.2 477.1 1830.4 477.4 C1833.6 477.6 1837.5 475.5 1839.6 474 C1841.7 472.5 1842.4 469.1 1843 468.1" stroke-width="1.5" fill="none"/>
<path d="M1820.3 479.4 C1822 480.2 1827.2 483.9 1830.4 484.1 C1833.6 484.3 1837.5 482.3 1839.6 480.7 C1841.7 479.2 1842.4 475.8 1843 474.8" stroke-width="1.5" fill="none"/>
<path d="M1820.3 486.4 C1822 487.2 1827.2 490.6 1830.4 490.8 C1833.6 491 1837.5 489 1839.6 487.4 C1841.7 485.9 1842.4 482.5 1843 481.6" stroke-width="1.5" fill="none"/>
<path d="M1820.3 493.5 C1822 494.1 1827.2 497.4 1830.4 497.5 C1833.6 497.6 1837.5 495.7 1839.6 494.1 C1841.7 492.6 1842.4 489.2 1843 488.3" stroke-width="1.5" fill="none"/>
<path d="M1820.3 500.5 C1822 501.1 1827.2 504.1 1830.4 504.2 C1833.6 504.3 1837.5 502.4 1839.6 500.9 C1841.7 499.3 1842.4 496 1843 495" stroke-width="1.5" fill="none"/>
<path d="M1820.3 507.6 C1822 508.1 1827.2 510.9 1830.4 510.9 C1833.6 510.9 1837.5 509.1 1839.6 507.6 C1841.7 506 1842.4 502.7 1843 501.7" stroke-width="1.5" fill="none"/>
<path d="M1906.7 521.8 C1908.3 521.5 1912.7 521.3 1915.9 520.1 C1919.2 519 1923.8 516.8 1926 515.1 C1928.3 513.4 1928.8 510.9 1929.4 510.1" stroke-width="1.5" fill="none"/>
<path d="M1906.7 528.2 C1908.3 527.9 1912.7 527.6 1915.9 526.5 C1919.2 525.4 1923.8 523.2 1926 521.5 C1928.3 519.8 1928.8 517.3 1929.4 516.5" stroke-width="1.5" fill="none"/>
<path d="M1906.7 534.6 C1908.3 534.3 1912.7 534 1915.9 532.9 C1919.2 531.8 1923.8 529.5 1926 527.9 C1928.3 526.2 1928.8 523.7 1929.4 522.8" stroke-width="1.5" fill="none"/>
<path d="M1906.7 540.9 C1908.3 540.7 1912.7 540.4 1915.9 539.3 C1919.2 538.1 1923.8 535.9 1926 534.2 C1928.3 532.6 1928.8 530 1929.4 529.2" stroke-width="1.5" fill="none"/>
<path d="M1906.7 547.3 C1908.3 547 1912.7 546.8 1915.9 545.6 C1919.2 544.5 1923.8 542.3 1926 540.6 C1928.3 538.9 1928.8 536.4 1929.4 535.6" stroke-width="1.5" fill="none"/>
<path d="M1820.3 461.4 C1821.2 458.5 1821.7 448.7 1825.4 443.8 C1829 439 1837.4 434.4 1842.1 432.4 C1846.9 430.4 1851.9 431.8 1853.9 431.7" stroke-width="1.8" fill="none"/>
<path d="M1877.4 437.1 C1879 439.1 1883 442.1 1887.4 448.8 C1891.9 455.6 1900 467.6 1904.2 477.4 C1908.4 487.2 1911.2 502.5 1912.6 507.6" stroke-width="1.8" fill="none"/>
<path d="M1929.4 546.1 C1928.8 549.5 1928.8 560.7 1926 566.3 C1923.2 571.9 1917.3 577.1 1912.6 579.7 C1907.8 582.3 1900 581.4 1897.5 581.7" stroke-width="1.8" fill="none"/>
<path d="M1825.4 515.9 C1826.5 518.5 1828.2 524.6 1832.1 531 C1836 537.5 1843.5 548.4 1848.8 554.5 C1854.2 560.7 1861.4 565.7 1863.9 568" stroke-width="1.8" fill="none"/>
<path d="M1844.7 463.9 C1846.7 463.4 1851.8 459.9 1857.2 460.6 C1862.7 461.3 1870.7 463.1 1877.4 468.1 C1884.1 473.2 1892.5 482.5 1897.5 490.8 C1902.5 499 1905.9 513.2 1907.6 517.6" stroke-width="1.8" fill="none"/>
<path d="M1924.8 333.6 C1925.1 330.5 1925.6 324.4 1927.6 318.9 C1929.6 313.3 1933.1 305.4 1936.8 300.5 C1940.5 295.6 1945.1 292.2 1949.7 289.4 C1954.3 286.7 1957.6 285.1 1964.4 283.9 C1971.1 282.7 1984.9 281.5 1990.1 282.1 C1995.4 282.7 1994 284.8 1995.7 287.6 C1997.3 290.4 1996.9 296.9 2000.3 298.6 C2003.6 300.3 2013 299.2 2015.9 297.7 C2018.8 296.2 2015.9 291.3 2017.7 289.4 C2019.6 287.6 2024.2 286.5 2026.9 286.7 C2029.7 286.8 2029.1 287.1 2034.3 290.4 C2039.5 293.6 2049.9 299.7 2058.2 306 C2066.5 312.3 2075.7 319.2 2084 328.1 C2092.2 337 2101.1 348.6 2107.9 359.3 C2114.6 370.1 2119.7 381.4 2124.4 392.5 C2129.2 403.5 2133.3 414.8 2136.4 425.6 C2139.5 436.3 2141.9 448.3 2142.8 456.8 C2143.7 465.4 2142.8 471.2 2141.9 477.1 C2141 482.9 2138.7 487.2 2137.3 491.8 C2135.9 496.4 2135.2 502.2 2133.6 504.7 C2132.1 507.1 2130.1 506.8 2128.1 506.5 C2126.1 506.3 2121.7 502.6 2121.7 503.2 C2121.7 503.8 2126 507.8 2128.1 510.2 C2130.3 512.6 2133.3 515.1 2134.5 517.5 C2135.8 520 2136.2 521.2 2135.5 524.9 C2134.7 528.6 2132.4 535 2129.9 539.6 C2127.5 544.2 2124.4 549.1 2120.8 552.5 C2117.1 555.9 2113.7 558.1 2107.9 559.9 C2102 561.6 2090.2 563.5 2085.8 563.2 C2081.4 562.9 2082.6 560.4 2081.2 558 C2079.8 555.6 2078.9 551.9 2077.5 548.8 C2076.1 545.7 2075.2 541.5 2072.9 539.6 C2070.6 537.8 2065.9 537.2 2063.7 537.8 C2061.6 538.4 2060.4 539.9 2060 543.3 C2059.7 546.7 2062.5 554.5 2061.9 558 C2061.3 561.5 2058.8 563.8 2056.4 564.5 C2053.9 565.1 2052.1 564.5 2047.2 561.7 C2042.3 558.9 2034.4 553.7 2026.9 547.9 C2019.4 542.1 2010.2 534.3 2002.1 526.7 C1994 519.2 1984.9 510.3 1978.2 502.8 C1971.4 495.3 1964.4 486.6 1961.6 481.7 C1958.9 476.8 1959.5 476.2 1961.6 473.4 C1963.8 470.6 1972.5 467.4 1974.5 465.1 C1976.5 462.8 1974.7 461.7 1973.6 459.6 C1972.5 457.4 1970.5 453.5 1968.1 452.2 C1965.6 451 1961.5 453 1958.9 452.2 C1956.3 451.5 1954.9 452.7 1952.4 447.6 C1950 442.6 1946.8 431.7 1944.2 421.9 C1941.5 412.1 1939.2 398.6 1936.8 388.8 C1934.3 379 1930.7 368.5 1929.4 363 C1928.2 357.5 1926.7 357.7 1929.4 355.7 C1932.2 353.6 1945.4 352 1946 350.5 C1946.6 349 1936.5 348.7 1933.1 346.5 C1929.7 344.3 1927.1 339.4 1925.8 337.3 C1924.4 335.1 1924.5 336.6 1924.8 333.6Z" stroke-width="4.4" fill="#fff"/>
<path d="M2047.2 297.7 L2065.6 312.4 L2091.3 338.2 L2076.6 320.7 L2058.2 306Z" stroke-width="2.5" fill="#000"/>
<path d="M2091.3 339.1 C2091.6 340.6 2094.1 344.8 2093.2 348.3 C2092.2 351.8 2086.1 356.6 2085.8 360.3 C2085.5 363.9 2089 368.1 2091.3 370.4 C2093.6 372.7 2096.8 372.5 2099.6 374.1 C2102.4 375.6 2105 375.3 2107.9 379.6 C2110.8 383.9 2114 392.1 2117.1 399.8 C2120.1 407.5 2123.7 416.7 2126.3 425.6 C2128.9 434.5 2131.2 444.6 2132.7 453.2 C2134.2 461.7 2135.3 469.7 2135.5 477.1 C2135.6 484.4 2134.4 492.7 2133.6 497.3 C2132.9 501.9 2131.3 503.4 2130.9 504.7" stroke-width="4" fill="none"/>
<path d="M2076.6 331.7 L2089.5 340.9" stroke-width="1.8" fill="none"/>
<path d="M2000.3 298.6 L2001.2 304.2 L2016.8 303.2 L2015.9 297.7" stroke-width="1.8" fill="none"/>
<path d="M1946 350.5 L1948.7 352.9 L1948.7 360.3 L1939.6 360.3" stroke-width="1.8" fill="none"/>
<path d="M1930.4 355.7 L1946 352" stroke-width="2.4" fill="none"/>
<path d="M1997.5 306.9 C1995 307.1 1988.3 306.4 1982.8 307.8 C1977.3 309.2 1969.6 311.5 1964.4 315.2 C1959.2 318.9 1954.4 324.7 1951.5 329.9 C1948.6 335.1 1947.7 340.9 1946.9 346.5 C1946.1 352 1945.8 354.4 1946.9 363 C1948 371.6 1950.4 386 1953.3 398 C1956.3 409.9 1960.9 424 1964.4 434.8 C1967.9 445.5 1972.8 457.8 1974.5 462.4" stroke-width="1.8" fill="none"/>
<path d="M1974.5 469.7 C1977.4 473.7 1982.9 484.7 1992 493.6 C2001 502.5 2017.4 516 2028.8 523.1 C2040.1 530.1 2054.8 533.8 2060 535.9" stroke-width="1.8" fill="none"/>
<path d="M2012.2 307.8 C2008.2 310 1994.1 315.2 1988.3 320.7 C1982.5 326.2 1979.7 333.9 1977.3 340.9 C1974.8 348 1973.6 353.2 1973.6 363 C1973.6 372.8 1974.2 386.3 1977.3 399.8 C1980.3 413.3 1985.8 430.5 1992 444 C1998.1 457.4 2005.5 470 2014.1 480.8 C2022.6 491.5 2033.4 501.6 2043.5 508.3 C2053.6 515.1 2064.9 519.7 2074.8 521.2 C2084.6 522.8 2095.3 520.3 2102.4 517.5 C2109.4 514.8 2114.2 509.3 2117.1 504.7 C2120 500.1 2119.4 492.4 2119.8 489.9" stroke-width="1.8" fill="none"/>
<path d="M2014.1 308.7 C2011 310.7 2000.3 315 1995.7 320.7 C1991.1 326.4 1988.3 334.5 1986.5 342.8 C1984.6 351.1 1984 359.6 1984.6 370.4 C1985.2 381.1 1986.8 394.9 1990.1 407.2 C1993.5 419.4 1998.4 432.3 2004.9 444 C2011.3 455.6 2020.2 468.2 2028.8 477.1 C2037.4 486 2047.2 492.7 2056.4 497.3 C2065.6 501.9 2075.7 504.4 2084 504.7 C2092.2 505 2100.5 502.5 2106 499.1 C2111.6 495.8 2115.2 486.9 2117.1 484.4" stroke-width="1.8" fill="none"/>
<path d="M2012.2 307.8 C2016.8 310 2030.9 314.9 2039.8 320.7 C2048.7 326.5 2057.9 334.5 2065.6 342.8 C2073.2 351.1 2082.4 365.8 2085.8 370.4" stroke-width="1.8" fill="none"/>
<path d="M2085.8 370.4 C2088.6 375.9 2097.8 392.5 2102.4 403.5 C2107 414.5 2110.6 426.2 2113.4 436.6 C2116.2 447 2117.8 457.1 2118.9 466 C2120 474.9 2119.8 483.8 2119.8 489.9 C2119.8 496.1 2119.1 500.7 2118.9 502.8" stroke-width="1.8" fill="none"/>
<path d="M2117.1 504.7 C2115.5 506.8 2113.4 513.2 2107.9 517.5 C2102.4 521.8 2091.9 527.4 2084 530.4 C2076 533.5 2064 535 2060 535.9" stroke-width="1.8" fill="none"/>
<ellipse cx="2056.7" cy="405.3" rx="89" ry="51.4" transform="rotate(60 2056.7 405.3)" stroke-width="3" fill="none"/>
<ellipse cx="2058.2" cy="407.2" rx="80" ry="46.2" transform="rotate(60 2058.2 407.2)" stroke-width="1.8" fill="none"/>
<ellipse cx="2059" cy="407.5" rx="76" ry="43.9" transform="rotate(60 2059 407.5)" stroke-width="1.8" fill="none"/>
<ellipse cx="2061.9" cy="407" rx="25.5" ry="14.7" transform="rotate(60 2061.9 407)" stroke-width="1.8" fill="none"/>
<path d="M2075.4 432.6 L2090.2 460.9" stroke-width="3.4" fill="none" stroke-linecap="butt"/>
<path d="M2069.9 433.4 L2078.8 462.6" stroke-width="3.4" fill="none" stroke-linecap="butt"/>
<path d="M2064.6 432 L2066.6 459.2 L2064.7 458.3 L2062.8 431.2" stroke-width="1.3" fill="none"/>
<path d="M2057.3 427.4 L2052.2 449.9" stroke-width="3.4" fill="none" stroke-linecap="butt"/>
<path d="M2051.3 421.2 L2039.7 436.9" stroke-width="3.4" fill="none" stroke-linecap="butt"/>
<path d="M2046.4 413.6 L2029.4 420.9" stroke-width="3.4" fill="none" stroke-linecap="butt"/>
<path d="M2043 405.3 L2022.2 403.5" stroke-width="3.4" fill="none" stroke-linecap="butt"/>
<path d="M2041.6 398.3 L2019 387.7 L2018.9 385.4 L2041.4 396.2" stroke-width="1.3" fill="none"/>
<path d="M2041.9 390.1 L2019.9 371.5" stroke-width="3.4" fill="none" stroke-linecap="butt"/>
<path d="M2044.3 384.7 L2024.9 360" stroke-width="3.4" fill="none" stroke-linecap="butt"/>
<path d="M2048.4 381.4 L2033.6 353.1" stroke-width="3.4" fill="none" stroke-linecap="butt"/>
<path d="M2053.9 380.6 L2045 351.4" stroke-width="3.4" fill="none" stroke-linecap="butt"/>
<path d="M2059.2 382 L2057.2 354.8 L2059.1 355.7 L2061 382.8" stroke-width="1.3" fill="none"/>
<path d="M2066.5 386.6 L2071.6 364.1" stroke-width="3.4" fill="none" stroke-linecap="butt"/>
<path d="M2072.5 392.8 L2084.1 377.1" stroke-width="3.4" fill="none" stroke-linecap="butt"/>
<path d="M2077.4 400.4 L2094.4 393.1" stroke-width="3.4" fill="none" stroke-linecap="butt"/>
<path d="M2080.8 408.7 L2101.6 410.5" stroke-width="3.4" fill="none" stroke-linecap="butt"/>
<path d="M2082.2 415.7 L2104.8 426.3 L2104.9 428.6 L2082.4 417.8" stroke-width="1.3" fill="none"/>
<path d="M2081.9 423.9 L2103.9 442.5" stroke-width="3.4" fill="none" stroke-linecap="butt"/>
<path d="M2079.5 429.3 L2098.9 454" stroke-width="3.4" fill="none" stroke-linecap="butt"/>
<ellipse cx="1966.2" cy="297.7" rx="4.2" ry="2.6" transform="rotate(65 1966.2 297.7)" stroke-width="2.2" fill="#333"/>
<ellipse cx="2029.7" cy="299" rx="4.2" ry="2.6" transform="rotate(65 2029.7 299)" stroke-width="2.2" fill="#333"/>
<ellipse cx="1936.2" cy="329" rx="4.2" ry="2.6" transform="rotate(65 1936.2 329)" stroke-width="2.2" fill="#333"/>
<ellipse cx="1937.3" cy="370.4" rx="4.2" ry="2.6" transform="rotate(65 1937.3 370.4)" stroke-width="2.2" fill="#333"/>
<ellipse cx="2079.4" cy="340.9" rx="4.2" ry="2.6" transform="rotate(65 2079.4 340.9)" stroke-width="2.2" fill="#333"/>
<ellipse cx="2104.2" cy="396.5" rx="4.2" ry="2.6" transform="rotate(65 2104.2 396.5)" stroke-width="2.2" fill="#333"/>
<ellipse cx="1953.3" cy="437.5" rx="4.2" ry="2.6" transform="rotate(65 1953.3 437.5)" stroke-width="2.2" fill="#333"/>
<ellipse cx="2124.4" cy="464.2" rx="4.2" ry="2.6" transform="rotate(65 2124.4 464.2)" stroke-width="2.2" fill="#333"/>
<ellipse cx="1991.4" cy="513.5" rx="4.2" ry="2.6" transform="rotate(65 1991.4 513.5)" stroke-width="2.2" fill="#333"/>
<ellipse cx="2123.1" cy="524.9" rx="4.2" ry="2.6" transform="rotate(65 2123.1 524.9)" stroke-width="2.2" fill="#333"/>
<ellipse cx="2041.6" cy="549.7" rx="4.2" ry="2.6" transform="rotate(65 2041.6 549.7)" stroke-width="2.2" fill="#333"/>
<ellipse cx="2089.5" cy="550.3" rx="4.2" ry="2.6" transform="rotate(65 2089.5 550.3)" stroke-width="2.2" fill="#333"/>
<ellipse cx="1680.5" cy="625.6" rx="67.7" ry="39.1" transform="rotate(60 1680.5 625.6)" stroke-width="3.8" fill="#fff"/>
<path d="M1650.1 569.3 L1652.9 568.8 L1655.7 568.7 L1658.7 568.8 L1661.7 569.2 L1664.8 569.9 L1668 571 L1671.2 572.2 L1674.5 573.8 L1677.7 575.7 L1681 577.8 L1684.2 580.2 L1687.4 582.8 L1690.5 585.6 L1693.6 588.6 L1696.6 591.9 L1699.5 595.3 L1702.2 598.9 L1704.9 602.6 L1707.3 606.5 L1709.7 610.5 L1711.8 614.5 L1713.8 618.7 L1715.6 622.8 L1717.2 627 L1718.7 631.2 L1719.8 635.4 L1720.8 639.6 L1721.6 643.7 L1722.1 647.7 L1722.4 651.6 L1722.4 655.4 L1722.3 659.1 L1721.9 662.6 L1721.3 665.9 L1720.4 669 L1719.3 672 L1718 674.7 L1716.5 677.2 L1714.9 679.4 L1713 681.4 L1710.9 683.1 L1708.6 684.5 L1706.2 685.6 L1703.7 686.5 L1701 687 L1698.2 687.3 L1695.2 687.3 L1692.2 686.9" stroke-width="1.8" fill="none"/>
<ellipse cx="1679.5" cy="585.1" rx="6" ry="3.7" transform="rotate(65 1679.5 585.1)" stroke-width="1.8" fill="none"/>
<ellipse cx="1641.2" cy="603.2" rx="6" ry="3.7" transform="rotate(65 1641.2 603.2)" stroke-width="1.8" fill="none"/>
<ellipse cx="1710.9" cy="652.2" rx="6" ry="3.7" transform="rotate(65 1710.9 652.2)" stroke-width="1.8" fill="none"/>
<ellipse cx="1672.5" cy="670.4" rx="6" ry="3.7" transform="rotate(65 1672.5 670.4)" stroke-width="1.8" fill="none"/>
<ellipse cx="1675.8" cy="627.9" rx="26" ry="15" transform="rotate(60 1675.8 627.9)" stroke-width="1.4" fill="none"/>
<path d="M1660.9 617.3 L1661.5 616.8 L1662 616.3 L1662.6 616 L1663.3 615.7 L1664 615.6 L1664.7 615.5 L1665.5 615.4 L1666.3 615.5 L1667.1 615.6 L1667.9 615.9 L1668.7 616.2 L1669.6 616.5 L1670.4 617 L1671.3 617.5 L1672.1 618.1 L1673 618.8 L1673.8 619.5 L1674.6 620.3 L1675.4 621.1 L1676.2 622 L1676.9 623 L1677.6 623.9 L1678.3 624.9 L1678.9 626 L1679.5 627.1 L1680 628.1 L1680.5 629.2 L1680.9 630.3 L1681.2 631.5 L1681.5 632.6 L1681.8 633.6 L1682 634.7 L1682.1 635.8 L1682.2 636.8 L1682.2 637.8 L1682.1 638.7 L1682 639.6 L1681.8 640.5 L1681.5 641.3 L1681.2 642 L1680.8 642.7 L1680.4 643.3 L1679.9 643.9 L1679.4 644.3 L1678.8 644.7 L1678.2 645.1 L1677.6 645.3 L1676.9 645.5" stroke-width="1.4" fill="none"/>
<path d="M1660 617.5 L1663.9 615.6" stroke-width="1.8" fill="none"/>
<path d="M1670.4 648.1 L1674.3 646.1" stroke-width="1.8" fill="none"/>
<ellipse cx="1660.9" cy="634.4" rx="16.5" ry="9.5" transform="rotate(60 1660.9 634.4)" stroke-width="2.6" fill="#fff"/>
<ellipse cx="1661.3" cy="634.4" rx="13.5" ry="7.8" transform="rotate(60 1661.3 634.4)" stroke-width="1.3" fill="none"/>
<ellipse cx="1661.3" cy="634.6" rx="10.5" ry="6.1" transform="rotate(60 1661.3 634.6)" stroke-width="1" fill="#000"/>
<circle cx="1665.3" cy="641.5" r="1.1" fill="#fff" stroke="none"/>
<circle cx="1662.2" cy="641.6" r="1.1" fill="#fff" stroke="none"/>
<circle cx="1658.7" cy="638.9" r="1.1" fill="#fff" stroke="none"/>
<circle cx="1656.3" cy="634.7" r="1.1" fill="#fff" stroke="none"/>
<circle cx="1655.7" cy="630.4" r="1.1" fill="#fff" stroke="none"/>
<circle cx="1657.3" cy="627.7" r="1.1" fill="#fff" stroke="none"/>
<circle cx="1660.4" cy="627.6" r="1.1" fill="#fff" stroke="none"/>
<circle cx="1663.9" cy="630.3" r="1.1" fill="#fff" stroke="none"/>
<circle cx="1666.3" cy="634.5" r="1.1" fill="#fff" stroke="none"/>
<circle cx="1666.9" cy="638.8" r="1.1" fill="#fff" stroke="none"/>
<path d="M1047.2 857.9 L1037.6 847.1 L1035.3 832.9 L1042.5 829.5 L1052.1 840.2 L1054.4 854.5Z" stroke-width="2.7" fill="#fff"/>
<path d="M1034.6 863.9 L1047.2 857.9" stroke-width="2.7" fill="none"/>
<path d="M1025 853.2 L1037.6 847.1" stroke-width="2.7" fill="none"/>
<path d="M1022.7 838.9 L1035.3 832.9" stroke-width="2.7" fill="none"/>
<path d="M1029.9 835.5 L1042.5 829.5" stroke-width="2.7" fill="none"/>
<path d="M1039.4 846.3 L1052.1 840.2" stroke-width="2.7" fill="none"/>
<path d="M1041.8 860.5 L1054.4 854.5" stroke-width="2.7" fill="none"/>
<path d="M1034.6 863.9 L1025 853.2 L1037.6 847.1 L1047.2 857.9Z" stroke-width="2.7" fill="#fff"/>
<path d="M1025 853.2 L1022.7 838.9 L1035.3 832.9 L1037.6 847.1Z" stroke-width="2.7" fill="#fff"/>
<path d="M1022.7 838.9 L1029.9 835.5 L1042.5 829.5 L1035.3 832.9Z" stroke-width="2.7" fill="#fff"/>
<path d="M1029.9 835.5 L1039.4 846.3 L1052.1 840.2 L1042.5 829.5Z" stroke-width="2.7" fill="#fff"/>
<path d="M1039.4 846.3 L1041.8 860.5 L1054.4 854.5 L1052.1 840.2Z" stroke-width="2.7" fill="#fff"/>
<path d="M1041.8 860.5 L1034.6 863.9 L1047.2 857.9 L1054.4 854.5Z" stroke-width="2.7" fill="#fff"/>
<path d="M1034.6 863.9 L1025 853.2 L1022.7 838.9 L1029.9 835.5 L1039.4 846.3 L1041.8 860.5Z" stroke-width="2.7" fill="#fff"/>
<path d="M1039.6 865.1 L1037.3 865.6 L1034.7 864.9 L1032 863.2 L1029.2 860.6 L1026.7 857.3 L1024.5 853.4 L1022.9 849.3 L1021.9 845.2 L1021.6 841.4 L1022 838.2 L1023.1 835.8 L1024.9 834.3 L1027.1 833.8 L1029.7 834.5 L1032.5 836.2 L1035.2 838.8 L1037.8 842.2 L1039.9 846 L1041.6 850.1 L1042.6 854.2 L1042.9 858 L1042.5 861.2 L1041.3 863.7 L1039.6 865.1Z" stroke-width="5" fill="#fff"/>
<path d="M1035.9 869 L1033.4 869.5 L1030.5 868.8 L1027.4 866.9 L1024.4 864 L1021.5 860.3 L1019.1 856 L1017.3 851.4 L1016.2 846.8 L1015.9 842.6 L1016.3 839.1 L1017.6 836.4 L1019.5 834.7 L1022 834.2 L1024.9 835 L1028 836.8 L1031.1 839.7 L1033.9 843.5 L1036.3 847.8 L1038.1 852.4 L1039.2 856.9 L1039.6 861.1 L1039.1 864.7 L1037.8 867.4 L1035.9 869Z" stroke-width="2.7" fill="#fff"/>
<path d="M1023.2 838.9 L1024 838.6 L1025 838.5 L1026 838.7 L1027.1 839.1 L1028.2 839.6 L1029.3 840.4 L1030.4 841.4 L1031.5 842.5 L1032.5 843.8 L1033.5 845.2 L1034.4 846.7 L1035.2 848.3 L1036 849.9 L1036.6 851.6 L1037 853.2 L1037.4 854.8 L1037.6 856.4 L1037.6 857.9 L1037.5 859.2 L1037.3 860.4 L1036.9 861.5 L1036.4 862.4 L1035.7 863.1 L1035 863.6" stroke-width="2.7" fill="none"/>
<path d="M966.7 871.5 L1002.4 854.5 L1002.7 855.2 L1024.4 844.8 L1031.1 858.9 L1009.4 869.2 L1009.7 869.9 L974.1 886.9Z" stroke-width="0" fill="#fff"/>
<path d="M966.7 871.5 L1002.4 854.5 L1002.7 855.2 L1024.4 844.8" stroke-width="2.7" fill="none"/>
<path d="M974.1 886.9 L1009.7 869.9 L1009.4 869.2 L1031.1 858.9" stroke-width="2.7" fill="none"/>
<path d="M980.9 883.6 L979.8 883.8 L978.5 883.5 L977.1 882.7 L975.7 881.4 L974.5 879.7 L973.4 877.8 L972.6 875.7 L972.1 873.7 L971.9 871.8 L972.1 870.2 L972.7 869 L973.6 868.3" stroke-width="2.5" fill="none"/>
<path d="M985 881.7 L983.9 881.9 L982.6 881.5 L981.2 880.7 L979.9 879.4 L978.6 877.7 L977.5 875.8 L976.7 873.8 L976.2 871.7 L976 869.8 L976.3 868.3 L976.8 867 L977.7 866.3" stroke-width="2.5" fill="none"/>
<path d="M989.1 879.7 L988 879.9 L986.7 879.6 L985.3 878.7 L984 877.4 L982.7 875.8 L981.6 873.8 L980.8 871.8 L980.3 869.8 L980.2 867.9 L980.4 866.3 L980.9 865.1 L981.8 864.3" stroke-width="2.5" fill="none"/>
<path d="M993.2 877.7 L992.1 877.9 L990.8 877.6 L989.5 876.8 L988.1 875.5 L986.8 873.8 L985.7 871.9 L984.9 869.8 L984.4 867.8 L984.3 865.9 L984.5 864.3 L985.1 863.1 L985.9 862.4" stroke-width="2.5" fill="none"/>
<path d="M997.4 875.8 L996.2 876 L994.9 875.6 L993.6 874.8 L992.2 873.5 L990.9 871.8 L989.9 869.9 L989 867.9 L988.5 865.8 L988.4 864 L988.6 862.4 L989.2 861.2 L990 860.4" stroke-width="2.5" fill="none"/>
<path d="M1001.5 873.8 L1000.4 874 L999.1 873.7 L997.7 872.8 L996.3 871.5 L995.1 869.9 L994 868 L993.2 865.9 L992.7 863.9 L992.5 862 L992.7 860.4 L993.3 859.2 L994.2 858.5" stroke-width="2.5" fill="none"/>
<path d="M1005.6 871.8 L1004.5 872 L1003.2 871.7 L1001.8 870.9 L1000.4 869.6 L999.2 867.9 L998.1 866 L997.3 863.9 L996.8 861.9 L996.6 860 L996.8 858.4 L997.4 857.2 L998.3 856.5" stroke-width="2.5" fill="none"/>
<path d="M1009.7 869.9 L1008.6 870.1 L1007.3 869.8 L1005.9 868.9 L1004.6 867.6 L1003.3 865.9 L1002.2 864 L1001.4 862 L1000.9 859.9 L1000.8 858.1 L1001 856.5 L1001.5 855.3 L1002.4 854.5" stroke-width="2.5" fill="none"/>
<path d="M974.1 886.9 L972.9 887.1 L971.7 886.8 L970.3 885.9 L968.9 884.6 L967.6 883 L966.6 881 L965.7 879 L965.2 876.9 L965.1 875.1 L965.3 873.5 L965.9 872.3 L966.7 871.5 L967.9 871.3 L969.1 871.6 L970.5 872.5 L971.9 873.8 L973.2 875.4 L974.2 877.4 L975.1 879.4 L975.6 881.5 L975.7 883.3 L975.5 884.9 L974.9 886.1 L974.1 886.9Z" stroke-width="2.7" fill="#fff"/>
<path d="M973.4 883.6 L972.7 883.7 L971.9 883.5 L971 883 L970.2 882.2 L969.4 881.2 L968.7 880 L968.2 878.7 L967.9 877.5 L967.8 876.3 L968 875.3 L968.3 874.6 L968.9 874.1 L969.5 874 L970.3 874.2 L971.2 874.7 L972 875.5 L972.8 876.5 L973.5 877.7 L974 879 L974.3 880.3 L974.4 881.4 L974.3 882.4 L973.9 883.2 L973.4 883.6Z" stroke-width="2.1" fill="none"/>
<path d="M1175.3 1079.5 L1165.7 1068.7 L1163.4 1054.5 L1170.6 1051.1 L1180.2 1061.8 L1182.5 1076.1Z" stroke-width="2.7" fill="#fff"/>
<path d="M1162.7 1085.5 L1175.3 1079.5" stroke-width="2.7" fill="none"/>
<path d="M1153.1 1074.8 L1165.7 1068.7" stroke-width="2.7" fill="none"/>
<path d="M1150.8 1060.5 L1163.4 1054.5" stroke-width="2.7" fill="none"/>
<path d="M1158 1057.1 L1170.6 1051.1" stroke-width="2.7" fill="none"/>
<path d="M1167.5 1067.9 L1180.2 1061.8" stroke-width="2.7" fill="none"/>
<path d="M1169.9 1082.1 L1182.5 1076.1" stroke-width="2.7" fill="none"/>
<path d="M1162.7 1085.5 L1153.1 1074.8 L1165.7 1068.7 L1175.3 1079.5Z" stroke-width="2.7" fill="#fff"/>
<path d="M1153.1 1074.8 L1150.8 1060.5 L1163.4 1054.5 L1165.7 1068.7Z" stroke-width="2.7" fill="#fff"/>
<path d="M1150.8 1060.5 L1158 1057.1 L1170.6 1051.1 L1163.4 1054.5Z" stroke-width="2.7" fill="#fff"/>
<path d="M1158 1057.1 L1167.5 1067.9 L1180.2 1061.8 L1170.6 1051.1Z" stroke-width="2.7" fill="#fff"/>
<path d="M1167.5 1067.9 L1169.9 1082.1 L1182.5 1076.1 L1180.2 1061.8Z" stroke-width="2.7" fill="#fff"/>
<path d="M1169.9 1082.1 L1162.7 1085.5 L1175.3 1079.5 L1182.5 1076.1Z" stroke-width="2.7" fill="#fff"/>
<path d="M1162.7 1085.5 L1153.1 1074.8 L1150.8 1060.5 L1158 1057.1 L1167.5 1067.9 L1169.9 1082.1Z" stroke-width="2.7" fill="#fff"/>
<path d="M1167.7 1086.7 L1165.4 1087.2 L1162.8 1086.5 L1160.1 1084.8 L1157.3 1082.2 L1154.8 1078.9 L1152.6 1075 L1151 1070.9 L1150 1066.8 L1149.7 1063 L1150.1 1059.8 L1151.2 1057.4 L1153 1055.9 L1155.2 1055.4 L1157.8 1056.1 L1160.6 1057.8 L1163.3 1060.4 L1165.9 1063.8 L1168 1067.6 L1169.7 1071.7 L1170.7 1075.8 L1171 1079.6 L1170.6 1082.8 L1169.4 1085.3 L1167.7 1086.7Z" stroke-width="5" fill="#fff"/>
<path d="M1164 1090.6 L1161.5 1091.1 L1158.6 1090.4 L1155.5 1088.5 L1152.5 1085.6 L1149.6 1081.9 L1147.2 1077.6 L1145.4 1073 L1144.3 1068.4 L1144 1064.2 L1144.4 1060.7 L1145.7 1058 L1147.6 1056.3 L1150.1 1055.8 L1153 1056.6 L1156.1 1058.4 L1159.2 1061.3 L1162 1065.1 L1164.4 1069.4 L1166.2 1074 L1167.3 1078.5 L1167.7 1082.7 L1167.2 1086.3 L1165.9 1089 L1164 1090.6Z" stroke-width="2.7" fill="#fff"/>
<path d="M1151.3 1060.5 L1152.1 1060.2 L1153.1 1060.1 L1154.1 1060.3 L1155.2 1060.7 L1156.3 1061.2 L1157.4 1062 L1158.5 1063 L1159.6 1064.1 L1160.6 1065.4 L1161.6 1066.8 L1162.5 1068.3 L1163.3 1069.9 L1164.1 1071.5 L1164.7 1073.2 L1165.1 1074.8 L1165.5 1076.4 L1165.7 1078 L1165.7 1079.5 L1165.6 1080.8 L1165.4 1082 L1165 1083.1 L1164.5 1084 L1163.8 1084.7 L1163.1 1085.2" stroke-width="2.7" fill="none"/>
<path d="M1094.8 1093.1 L1130.5 1076.1 L1130.8 1076.8 L1152.5 1066.4 L1159.2 1080.5 L1137.5 1090.8 L1137.8 1091.5 L1102.2 1108.5Z" stroke-width="0" fill="#fff"/>
<path d="M1094.8 1093.1 L1130.5 1076.1 L1130.8 1076.8 L1152.5 1066.4" stroke-width="2.7" fill="none"/>
<path d="M1102.2 1108.5 L1137.8 1091.5 L1137.5 1090.8 L1159.2 1080.5" stroke-width="2.7" fill="none"/>
<path d="M1109 1105.2 L1107.9 1105.4 L1106.6 1105.1 L1105.2 1104.3 L1103.8 1103 L1102.6 1101.3 L1101.5 1099.4 L1100.7 1097.3 L1100.2 1095.3 L1100 1093.4 L1100.2 1091.8 L1100.8 1090.6 L1101.7 1089.9" stroke-width="2.5" fill="none"/>
<path d="M1113.1 1103.3 L1112 1103.5 L1110.7 1103.1 L1109.3 1102.3 L1108 1101 L1106.7 1099.3 L1105.6 1097.4 L1104.8 1095.4 L1104.3 1093.3 L1104.1 1091.4 L1104.4 1089.9 L1104.9 1088.6 L1105.8 1087.9" stroke-width="2.5" fill="none"/>
<path d="M1117.2 1101.3 L1116.1 1101.5 L1114.8 1101.2 L1113.4 1100.3 L1112.1 1099 L1110.8 1097.4 L1109.7 1095.4 L1108.9 1093.4 L1108.4 1091.4 L1108.3 1089.5 L1108.5 1087.9 L1109 1086.7 L1109.9 1085.9" stroke-width="2.5" fill="none"/>
<path d="M1121.3 1099.3 L1120.2 1099.5 L1118.9 1099.2 L1117.6 1098.4 L1116.2 1097.1 L1114.9 1095.4 L1113.8 1093.5 L1113 1091.4 L1112.5 1089.4 L1112.4 1087.5 L1112.6 1085.9 L1113.2 1084.7 L1114 1084" stroke-width="2.5" fill="none"/>
<path d="M1125.5 1097.4 L1124.3 1097.6 L1123 1097.2 L1121.7 1096.4 L1120.3 1095.1 L1119 1093.4 L1118 1091.5 L1117.1 1089.5 L1116.6 1087.4 L1116.5 1085.6 L1116.7 1084 L1117.3 1082.8 L1118.1 1082" stroke-width="2.5" fill="none"/>
<path d="M1129.6 1095.4 L1128.5 1095.6 L1127.2 1095.3 L1125.8 1094.4 L1124.4 1093.1 L1123.2 1091.5 L1122.1 1089.6 L1121.3 1087.5 L1120.8 1085.5 L1120.6 1083.6 L1120.8 1082 L1121.4 1080.8 L1122.3 1080.1" stroke-width="2.5" fill="none"/>
<path d="M1133.7 1093.4 L1132.6 1093.6 L1131.3 1093.3 L1129.9 1092.5 L1128.5 1091.2 L1127.3 1089.5 L1126.2 1087.6 L1125.4 1085.5 L1124.9 1083.5 L1124.7 1081.6 L1124.9 1080 L1125.5 1078.8 L1126.4 1078.1" stroke-width="2.5" fill="none"/>
<path d="M1137.8 1091.5 L1136.7 1091.7 L1135.4 1091.4 L1134 1090.5 L1132.7 1089.2 L1131.4 1087.5 L1130.3 1085.6 L1129.5 1083.6 L1129 1081.5 L1128.9 1079.7 L1129.1 1078.1 L1129.6 1076.9 L1130.5 1076.1" stroke-width="2.5" fill="none"/>
<path d="M1102.2 1108.5 L1101 1108.7 L1099.8 1108.4 L1098.4 1107.5 L1097 1106.2 L1095.7 1104.6 L1094.7 1102.6 L1093.8 1100.6 L1093.3 1098.5 L1093.2 1096.7 L1093.4 1095.1 L1094 1093.9 L1094.8 1093.1 L1096 1092.9 L1097.2 1093.2 L1098.6 1094.1 L1100 1095.4 L1101.3 1097 L1102.3 1099 L1103.2 1101 L1103.7 1103.1 L1103.8 1104.9 L1103.6 1106.5 L1103 1107.7 L1102.2 1108.5Z" stroke-width="2.7" fill="#fff"/>
<path d="M1101.5 1105.2 L1100.8 1105.3 L1100 1105.1 L1099.1 1104.6 L1098.3 1103.8 L1097.5 1102.8 L1096.8 1101.6 L1096.3 1100.3 L1096 1099.1 L1095.9 1097.9 L1096.1 1096.9 L1096.4 1096.2 L1097 1095.7 L1097.6 1095.6 L1098.4 1095.8 L1099.3 1096.3 L1100.1 1097.1 L1100.9 1098.1 L1101.6 1099.3 L1102.1 1100.6 L1102.4 1101.9 L1102.5 1103 L1102.4 1104 L1102 1104.8 L1101.5 1105.2Z" stroke-width="2.1" fill="none"/>
<path d="M1775.2 540.9 L1766.9 533.2 L1764 522.3 L1769.4 519.1 L1777.6 526.8 L1780.5 537.7Z" stroke-width="2.7" fill="#fff"/>
<path d="M1764.9 547.1 L1775.2 540.9" stroke-width="2.7" fill="none"/>
<path d="M1756.6 539.4 L1766.9 533.2" stroke-width="2.7" fill="none"/>
<path d="M1753.7 528.5 L1764 522.3" stroke-width="2.7" fill="none"/>
<path d="M1759.1 525.3 L1769.4 519.1" stroke-width="2.7" fill="none"/>
<path d="M1767.4 532.9 L1777.6 526.8" stroke-width="2.7" fill="none"/>
<path d="M1770.3 543.8 L1780.5 537.7" stroke-width="2.7" fill="none"/>
<path d="M1764.9 547.1 L1756.6 539.4 L1766.9 533.2 L1775.2 540.9Z" stroke-width="2.7" fill="#fff"/>
<path d="M1756.6 539.4 L1753.7 528.5 L1764 522.3 L1766.9 533.2Z" stroke-width="2.7" fill="#fff"/>
<path d="M1753.7 528.5 L1759.1 525.3 L1769.4 519.1 L1764 522.3Z" stroke-width="2.7" fill="#fff"/>
<path d="M1759.1 525.3 L1767.4 532.9 L1777.6 526.8 L1769.4 519.1Z" stroke-width="2.7" fill="#fff"/>
<path d="M1767.4 532.9 L1770.3 543.8 L1780.5 537.7 L1777.6 526.8Z" stroke-width="2.7" fill="#fff"/>
<path d="M1770.3 543.8 L1764.9 547.1 L1775.2 540.9 L1780.5 537.7Z" stroke-width="2.7" fill="#fff"/>
<path d="M1764.9 547.1 L1756.6 539.4 L1753.7 528.5 L1759.1 525.3 L1767.4 532.9 L1770.3 543.8Z" stroke-width="2.7" fill="#fff"/>
<path d="M1716.4 555.4 L1741.6 540.3 L1742.2 541.3 L1759 531.2 L1765 541.1 L1748.2 551.2 L1748.8 552.3 L1723.6 567.4Z" stroke-width="0" fill="#fff"/>
<path d="M1716.4 555.4 L1741.6 540.3 L1742.2 541.3 L1759 531.2" stroke-width="2.7" fill="none"/>
<path d="M1723.6 567.4 L1748.8 552.3 L1748.2 551.2 L1765 541.1" stroke-width="2.7" fill="none"/>
<path d="M1729.4 563.9 L1728.5 564.2 L1727.4 564 L1726.2 563.4 L1725 562.5 L1723.8 561.2 L1722.8 559.7 L1722 558.1 L1721.4 556.5 L1721.1 554.9 L1721.2 553.6 L1721.5 552.6 L1722.2 551.9" stroke-width="2.5" fill="none"/>
<path d="M1732.6 562 L1731.7 562.2 L1730.7 562.1 L1729.5 561.5 L1728.2 560.5 L1727.1 559.3 L1726 557.8 L1725.2 556.2 L1724.6 554.5 L1724.4 553 L1724.4 551.7 L1724.8 550.6 L1725.4 550" stroke-width="2.5" fill="none"/>
<path d="M1735.9 560 L1735 560.3 L1733.9 560.1 L1732.7 559.5 L1731.5 558.6 L1730.3 557.3 L1729.3 555.8 L1728.4 554.2 L1727.9 552.6 L1727.6 551.1 L1727.6 549.7 L1728 548.7 L1728.7 548" stroke-width="2.5" fill="none"/>
<path d="M1739.1 558.1 L1738.2 558.3 L1737.1 558.2 L1735.9 557.6 L1734.7 556.6 L1733.5 555.4 L1732.5 553.9 L1731.7 552.3 L1731.1 550.6 L1730.8 549.1 L1730.9 547.8 L1731.2 546.8 L1731.9 546.1" stroke-width="2.5" fill="none"/>
<path d="M1742.3 556.1 L1741.4 556.4 L1740.4 556.2 L1739.2 555.7 L1737.9 554.7 L1736.8 553.4 L1735.7 551.9 L1734.9 550.3 L1734.3 548.7 L1734.1 547.2 L1734.1 545.8 L1734.5 544.8 L1735.1 544.1" stroke-width="2.5" fill="none"/>
<path d="M1745.6 554.2 L1744.7 554.5 L1743.6 554.3 L1742.4 553.7 L1741.2 552.8 L1740 551.5 L1739 550 L1738.1 548.4 L1737.6 546.8 L1737.3 545.2 L1737.3 543.9 L1737.7 542.9 L1738.4 542.2" stroke-width="2.5" fill="none"/>
<path d="M1748.8 552.3 L1747.9 552.5 L1746.8 552.4 L1745.6 551.8 L1744.4 550.8 L1743.2 549.6 L1742.2 548.1 L1741.4 546.4 L1740.8 544.8 L1740.5 543.3 L1740.6 542 L1740.9 540.9 L1741.6 540.3" stroke-width="2.5" fill="none"/>
<path d="M1723.6 567.4 L1722.7 567.7 L1721.6 567.5 L1720.4 566.9 L1719.2 566 L1718 564.7 L1717 563.2 L1716.2 561.6 L1715.6 560 L1715.3 558.4 L1715.4 557.1 L1715.7 556.1 L1716.4 555.4 L1717.3 555.1 L1718.4 555.3 L1719.6 555.9 L1720.8 556.8 L1722 558.1 L1723 559.6 L1723.8 561.2 L1724.4 562.8 L1724.7 564.4 L1724.6 565.7 L1724.3 566.7 L1723.6 567.4Z" stroke-width="2.7" fill="#fff"/>
<path d="M1722.9 564.7 L1722.4 564.9 L1721.7 564.8 L1721 564.4 L1720.2 563.8 L1719.5 563 L1718.8 562.1 L1718.3 561.1 L1718 560.1 L1717.8 559.1 L1717.8 558.3 L1718 557.7 L1718.5 557.3 L1719 557.1 L1719.7 557.2 L1720.4 557.6 L1721.2 558.2 L1721.9 558.9 L1722.5 559.9 L1723.1 560.9 L1723.4 561.9 L1723.6 562.8 L1723.6 563.7 L1723.3 564.3 L1722.9 564.7Z" stroke-width="2.1" fill="none"/>
<path d="M1616.9 706.3 L1609.3 698 L1607.3 686.9 L1612.9 684.1 L1620.5 692.5 L1622.5 703.6Z" stroke-width="2.7" fill="#fff"/>
<path d="M1615.5 707 L1616.9 706.3" stroke-width="2.7" fill="none"/>
<path d="M1608 698.7 L1609.3 698" stroke-width="2.7" fill="none"/>
<path d="M1606 687.6 L1607.3 686.9" stroke-width="2.7" fill="none"/>
<path d="M1611.6 684.8 L1612.9 684.1" stroke-width="2.7" fill="none"/>
<path d="M1619.2 693.1 L1620.5 692.5" stroke-width="2.7" fill="none"/>
<path d="M1621.2 704.2 L1622.5 703.6" stroke-width="2.7" fill="none"/>
<path d="M1615.5 707 L1608 698.7 L1609.3 698 L1616.9 706.3Z" stroke-width="2.7" fill="#fff"/>
<path d="M1608 698.7 L1606 687.6 L1607.3 686.9 L1609.3 698Z" stroke-width="2.7" fill="#fff"/>
<path d="M1606 687.6 L1611.6 684.8 L1612.9 684.1 L1607.3 686.9Z" stroke-width="2.7" fill="#fff"/>
<path d="M1611.6 684.8 L1619.2 693.1 L1620.5 692.5 L1612.9 684.1Z" stroke-width="2.7" fill="#fff"/>
<path d="M1619.2 693.1 L1621.2 704.2 L1622.5 703.6 L1620.5 692.5Z" stroke-width="2.7" fill="#fff"/>
<path d="M1621.2 704.2 L1615.5 707 L1616.9 706.3 L1622.5 703.6Z" stroke-width="2.7" fill="#fff"/>
<path d="M1615.5 707 L1608 698.7 L1606 687.6 L1611.6 684.8 L1619.2 693.1 L1621.2 704.2Z" stroke-width="2.7" fill="#fff"/>
<path d="M1619.7 708.4 L1617.9 708.8 L1615.8 708.3 L1613.5 706.9 L1611.2 704.8 L1609.1 702.1 L1607.3 699 L1605.9 695.6 L1605.1 692.3 L1604.8 689.2 L1605.1 686.6 L1606 684.6 L1607.4 683.4 L1609.2 683 L1611.4 683.5 L1613.6 684.9 L1615.9 687 L1618 689.7 L1619.8 692.8 L1621.2 696.2 L1622.1 699.5 L1622.4 702.6 L1622 705.2 L1621.1 707.2 L1619.7 708.4Z" stroke-width="5" fill="#fff"/>
<path d="M1616.8 711.6 L1614.8 712 L1612.4 711.4 L1609.9 709.9 L1607.4 707.6 L1605 704.6 L1603 701.1 L1601.5 697.4 L1600.5 693.7 L1600.2 690.2 L1600.6 687.3 L1601.6 685.1 L1603.1 683.7 L1605.2 683.3 L1607.5 683.9 L1610.1 685.4 L1612.6 687.7 L1614.9 690.8 L1616.9 694.2 L1618.5 698 L1619.4 701.6 L1619.7 705.1 L1619.4 708 L1618.4 710.2 L1616.8 711.6Z" stroke-width="2.7" fill="#fff"/>
<path d="M1606.4 687 L1607.1 686.7 L1607.9 686.7 L1608.7 686.8 L1609.6 687.1 L1610.5 687.6 L1611.4 688.2 L1612.3 688.9 L1613.2 689.9 L1614.1 690.9 L1614.9 692 L1615.7 693.2 L1616.3 694.5 L1616.9 695.9 L1617.4 697.2 L1617.8 698.6 L1618.1 699.9 L1618.3 701.1 L1618.4 702.3 L1618.3 703.4 L1618.1 704.4 L1617.8 705.3 L1617.4 706 L1616.9 706.6 L1616.3 707" stroke-width="2.7" fill="none"/>
<path d="M1569.1 709.7 L1599.6 694.6 L1599.6 694.6 L1606.8 691.1 L1613.2 704.2 L1606 707.7 L1606 707.7 L1575.5 722.7Z" stroke-width="0" fill="#fff"/>
<path d="M1569.1 709.7 L1599.6 694.6 L1599.6 694.6 L1606.8 691.1" stroke-width="2.7" fill="none"/>
<path d="M1575.5 722.7 L1606 707.7 L1606 707.7 L1613.2 704.2" stroke-width="2.7" fill="none"/>
<path d="M1570.9 708.8 L1599.6 694.6 L1606 707.7 L1577.3 721.9Z" stroke-width="2.7" fill="#000"/>
<path d="M1575.5 722.7 L1574.6 722.9 L1573.5 722.7 L1572.3 722 L1571.1 720.9 L1570 719.5 L1569 717.8 L1568.3 716.1 L1567.9 714.3 L1567.7 712.7 L1567.9 711.3 L1568.3 710.3 L1569.1 709.7 L1570 709.5 L1571.1 709.7 L1572.3 710.4 L1573.5 711.5 L1574.6 712.9 L1575.6 714.6 L1576.3 716.3 L1576.7 718.1 L1576.9 719.7 L1576.7 721.1 L1576.3 722.1 L1575.5 722.7Z" stroke-width="2.7" fill="#fff"/>
<path d="M1575 719.9 L1574.4 720 L1573.7 719.9 L1573 719.4 L1572.3 718.7 L1571.6 717.9 L1571 716.8 L1570.5 715.8 L1570.3 714.7 L1570.2 713.7 L1570.3 712.8 L1570.6 712.2 L1571 711.8 L1571.6 711.7 L1572.3 711.8 L1573 712.3 L1573.8 713 L1574.5 713.8 L1575 714.8 L1575.5 715.9 L1575.8 717 L1575.9 718 L1575.8 718.9 L1575.5 719.5 L1575 719.9Z" stroke-width="2.1" fill="none"/>
<path d="M2219.8 481.6 L2211.4 473.4 L2208.6 462.1 L2214.2 458.8 L2222.7 466.9 L2225.5 478.3Z" stroke-width="2.7" fill="#fff"/>
<path d="M2209.5 487.6 L2219.8 481.6" stroke-width="2.7" fill="none"/>
<path d="M2201 479.4 L2211.4 473.4" stroke-width="2.7" fill="none"/>
<path d="M2198.2 468.1 L2208.6 462.1" stroke-width="2.7" fill="none"/>
<path d="M2203.8 464.8 L2214.2 458.8" stroke-width="2.7" fill="none"/>
<path d="M2212.3 472.9 L2222.7 466.9" stroke-width="2.7" fill="none"/>
<path d="M2215.1 484.3 L2225.5 478.3" stroke-width="2.7" fill="none"/>
<path d="M2209.5 487.6 L2201 479.4 L2211.4 473.4 L2219.8 481.6Z" stroke-width="2.7" fill="#fff"/>
<path d="M2201 479.4 L2198.2 468.1 L2208.6 462.1 L2211.4 473.4Z" stroke-width="2.7" fill="#fff"/>
<path d="M2198.2 468.1 L2203.8 464.8 L2214.2 458.8 L2208.6 462.1Z" stroke-width="2.7" fill="#fff"/>
<path d="M2203.8 464.8 L2212.3 472.9 L2222.7 466.9 L2214.2 458.8Z" stroke-width="2.7" fill="#fff"/>
<path d="M2212.3 472.9 L2215.1 484.3 L2225.5 478.3 L2222.7 466.9Z" stroke-width="2.7" fill="#fff"/>
<path d="M2215.1 484.3 L2209.5 487.6 L2219.8 481.6 L2225.5 478.3Z" stroke-width="2.7" fill="#fff"/>
<path d="M2209.5 487.6 L2201 479.4 L2198.2 468.1 L2203.8 464.8 L2212.3 472.9 L2215.1 484.3Z" stroke-width="2.7" fill="#fff"/>
<path d="M2165.8 491.5 L2190.9 477 L2191.4 477.8 L2203.5 470.8 L2209.7 481.6 L2197.6 488.6 L2198.1 489.4 L2173 503.9Z" stroke-width="0" fill="#fff"/>
<path d="M2165.8 491.5 L2190.9 477 L2191.4 477.8 L2203.5 470.8" stroke-width="2.7" fill="none"/>
<path d="M2173 503.9 L2198.1 489.4 L2197.6 488.6 L2209.7 481.6" stroke-width="2.7" fill="none"/>
<path d="M2178.8 500.6 L2177.9 500.8 L2176.8 500.6 L2175.6 500 L2174.3 499 L2173.1 497.7 L2172.1 496.1 L2171.3 494.5 L2170.7 492.8 L2170.5 491.2 L2170.5 489.8 L2170.9 488.8 L2171.6 488.1" stroke-width="2.5" fill="none"/>
<path d="M2182 498.7 L2181.1 499 L2180 498.8 L2178.8 498.2 L2177.5 497.2 L2176.4 495.8 L2175.3 494.3 L2174.5 492.6 L2173.9 490.9 L2173.7 489.3 L2173.8 488 L2174.1 486.9 L2174.8 486.3" stroke-width="2.5" fill="none"/>
<path d="M2185.2 496.9 L2184.3 497.1 L2183.2 496.9 L2182 496.3 L2180.7 495.3 L2179.6 494 L2178.5 492.4 L2177.7 490.8 L2177.1 489.1 L2176.9 487.5 L2177 486.1 L2177.4 485.1 L2178 484.4" stroke-width="2.5" fill="none"/>
<path d="M2188.5 495 L2187.5 495.3 L2186.4 495.1 L2185.2 494.5 L2184 493.4 L2182.8 492.1 L2181.7 490.6 L2180.9 488.9 L2180.4 487.2 L2180.1 485.6 L2180.2 484.3 L2180.6 483.2 L2181.3 482.5" stroke-width="2.5" fill="none"/>
<path d="M2191.7 493.1 L2190.8 493.4 L2189.6 493.2 L2188.4 492.6 L2187.2 491.6 L2186 490.3 L2185 488.7 L2184.1 487 L2183.6 485.4 L2183.3 483.8 L2183.4 482.4 L2183.8 481.4 L2184.5 480.7" stroke-width="2.5" fill="none"/>
<path d="M2194.9 491.3 L2194 491.5 L2192.9 491.4 L2191.6 490.7 L2190.4 489.7 L2189.2 488.4 L2188.2 486.9 L2187.4 485.2 L2186.8 483.5 L2186.5 481.9 L2186.6 480.6 L2187 479.5 L2187.7 478.8" stroke-width="2.5" fill="none"/>
<path d="M2198.1 489.4 L2197.2 489.7 L2196.1 489.5 L2194.9 488.9 L2193.6 487.9 L2192.4 486.6 L2191.4 485 L2190.6 483.3 L2190 481.6 L2189.8 480.1 L2189.8 478.7 L2190.2 477.6 L2190.9 477" stroke-width="2.5" fill="none"/>
<path d="M2173 503.9 L2172.1 504.2 L2171 504 L2169.7 503.4 L2168.5 502.4 L2167.3 501.1 L2166.3 499.5 L2165.5 497.8 L2164.9 496.1 L2164.6 494.6 L2164.7 493.2 L2165.1 492.1 L2165.8 491.5 L2166.7 491.2 L2167.8 491.4 L2169.1 492 L2170.3 493 L2171.5 494.3 L2172.5 495.9 L2173.3 497.6 L2173.9 499.3 L2174.2 500.8 L2174.1 502.2 L2173.7 503.3 L2173 503.9Z" stroke-width="2.7" fill="#fff"/>
<path d="M2172.3 501.2 L2171.7 501.3 L2171.1 501.2 L2170.3 500.8 L2169.5 500.2 L2168.8 499.4 L2168.2 498.4 L2167.6 497.4 L2167.3 496.3 L2167.1 495.4 L2167.2 494.5 L2167.4 493.9 L2167.9 493.4 L2168.4 493.3 L2169.1 493.4 L2169.9 493.8 L2170.7 494.4 L2171.4 495.2 L2172 496.2 L2172.5 497.2 L2172.9 498.3 L2173 499.2 L2173 500.1 L2172.7 500.7 L2172.3 501.2Z" stroke-width="2.1" fill="none"/>
<path d="M2106.5 242.8 L2150.9 216.6 L2150.9 216.6 L2152.2 216.1 L2153.7 216.1 L2155.3 216.5 L2157.1 217.3 L2158.8 218.6 L2160.5 220.1 L2162.1 222 L2163.4 224.1 L2164.6 226.3 L2165.5 228.6 L2166 230.8 L2166.3 232.9 L2166.1 234.8 L2165.7 236.5 L2164.9 237.8 L2163.9 238.7 L2163.9 238.7 L2119.5 264.8Z" stroke-width="2.4" fill="#fff"/>
<ellipse cx="2113" cy="253.8" rx="12.8" ry="7" transform="rotate(59.5 2113 253.8)" stroke-width="2.4" fill="#fff"/>
<ellipse cx="2113.8" cy="253.4" rx="9" ry="4.9" transform="rotate(59.5 2113.8 253.4)" stroke-width="1.8" fill="none"/>
<path d="M735 1647.3 L801.1 1616.5 L801.1 1616.5 L802.3 1616.3 L803.7 1616.6 L805.1 1617.5 L806.6 1618.9 L807.9 1620.7 L809 1622.8 L809.9 1624.9 L810.4 1627.1 L810.5 1629.1 L810.3 1630.8 L809.7 1632 L808.7 1632.8 L808.7 1632.8 L742.6 1663.7Z" stroke-width="2" fill="#fff"/>
<path d="M806.9 1633.7 L805.5 1633.8 L803.8 1633.2 L802.1 1631.8 L800.4 1629.8 L799.1 1627.4 L798.1 1624.8 L797.6 1622.2 L797.7 1620 L798.3 1618.3 L799.3 1617.3" stroke-width="1.3" fill="none"/>
<path d="M805 1634.5 L803.6 1634.7 L801.9 1634.1 L800.2 1632.7 L798.5 1630.7 L797.1 1628.3 L796.2 1625.7 L795.7 1623.1 L795.7 1620.9 L796.3 1619.2 L797.4 1618.2" stroke-width="1.3" fill="none"/>
<path d="M803.1 1635.4 L801.7 1635.6 L800 1635 L798.2 1633.6 L796.6 1631.6 L795.2 1629.2 L794.2 1626.6 L793.8 1624 L793.8 1621.8 L794.4 1620.1 L795.5 1619.1" stroke-width="1.3" fill="none"/>
<path d="M801.2 1636.3 L799.7 1636.5 L798.1 1635.9 L796.3 1634.5 L794.7 1632.5 L793.3 1630.1 L792.3 1627.5 L791.9 1624.9 L791.9 1622.7 L792.5 1621 L793.6 1620" stroke-width="1.3" fill="none"/>
<path d="M799.3 1637.2 L797.8 1637.4 L796.2 1636.8 L794.4 1635.4 L792.8 1633.4 L791.4 1631 L790.4 1628.4 L789.9 1625.8 L790 1623.6 L790.6 1621.9 L791.7 1620.9" stroke-width="1.3" fill="none"/>
<path d="M797.4 1638.1 L795.9 1638.3 L794.2 1637.7 L792.5 1636.3 L790.9 1634.3 L789.5 1631.9 L788.5 1629.2 L788 1626.7 L788.1 1624.5 L788.7 1622.8 L789.8 1621.8" stroke-width="1.3" fill="none"/>
<path d="M795.5 1639 L794 1639.2 L792.3 1638.6 L790.6 1637.2 L788.9 1635.2 L787.6 1632.8 L786.6 1630.1 L786.1 1627.6 L786.2 1625.4 L786.8 1623.7 L787.8 1622.7" stroke-width="1.3" fill="none"/>
<path d="M793.5 1639.9 L792.1 1640.1 L790.4 1639.5 L788.7 1638.1 L787 1636.1 L785.7 1633.6 L784.7 1631 L784.2 1628.5 L784.3 1626.3 L784.9 1624.6 L785.9 1623.6" stroke-width="1.3" fill="none"/>
<path d="M791.6 1640.8 L790.2 1641 L788.5 1640.4 L786.8 1639 L785.1 1637 L783.7 1634.5 L782.8 1631.9 L782.3 1629.4 L782.3 1627.2 L782.9 1625.5 L784 1624.5" stroke-width="1.3" fill="none"/>
<path d="M789.7 1641.7 L788.3 1641.9 L786.6 1641.2 L784.8 1639.9 L783.2 1637.9 L781.8 1635.4 L780.9 1632.8 L780.4 1630.3 L780.4 1628 L781 1626.4 L782.1 1625.4" stroke-width="1.3" fill="none"/>
<path d="M787.8 1642.6 L786.4 1642.8 L784.7 1642.1 L782.9 1640.8 L781.3 1638.8 L779.9 1636.3 L778.9 1633.7 L778.5 1631.2 L778.5 1628.9 L779.1 1627.3 L780.2 1626.3" stroke-width="1.3" fill="none"/>
<path d="M785.9 1643.5 L784.4 1643.7 L782.8 1643 L781 1641.6 L779.4 1639.6 L778 1637.2 L777 1634.6 L776.5 1632.1 L776.6 1629.8 L777.2 1628.1 L778.3 1627.2" stroke-width="1.3" fill="none"/>
<path d="M784 1644.4 L782.5 1644.6 L780.8 1643.9 L779.1 1642.5 L777.5 1640.5 L776.1 1638.1 L775.1 1635.5 L774.6 1633 L774.7 1630.7 L775.3 1629 L776.4 1628" stroke-width="1.3" fill="none"/>
<path d="M782.1 1645.3 L780.6 1645.4 L778.9 1644.8 L777.2 1643.4 L775.6 1641.4 L774.2 1639 L773.2 1636.4 L772.7 1633.8 L772.8 1631.6 L773.4 1629.9 L774.5 1628.9" stroke-width="1.3" fill="none"/>
<path d="M780.1 1646.1 L778.7 1646.3 L777 1645.7 L775.3 1644.3 L773.6 1642.3 L772.3 1639.9 L771.3 1637.3 L770.8 1634.7 L770.9 1632.5 L771.5 1630.8 L772.5 1629.8" stroke-width="1.3" fill="none"/>
<path d="M778.2 1647 L776.8 1647.2 L775.1 1646.6 L773.4 1645.2 L771.7 1643.2 L770.4 1640.8 L769.4 1638.2 L768.9 1635.6 L769 1633.4 L769.6 1631.7 L770.6 1630.7" stroke-width="1.3" fill="none"/>
<path d="M776.3 1647.9 L774.9 1648.1 L773.2 1647.5 L771.5 1646.1 L769.8 1644.1 L768.4 1641.7 L767.5 1639.1 L767 1636.5 L767 1634.3 L767.6 1632.6 L768.7 1631.6" stroke-width="1.3" fill="none"/>
<path d="M774.4 1648.8 L773 1649 L771.3 1648.4 L769.5 1647 L767.9 1645 L766.5 1642.6 L765.5 1640 L765.1 1637.4 L765.1 1635.2 L765.7 1633.5 L766.8 1632.5" stroke-width="1.3" fill="none"/>
<path d="M747.9 1675 L745 1675.5 L741.8 1674.7 L738.3 1672.5 L734.9 1669.2 L731.7 1664.9 L729 1660 L727 1654.9 L725.8 1649.7 L725.5 1644.9 L726 1640.9 L727.5 1637.9 L729.7 1636 L732.5 1635.5 L735.8 1636.4 L739.2 1638.5 L742.7 1641.8 L745.8 1646.1 L748.5 1651 L750.5 1656.2 L751.8 1661.3 L752.1 1666.1 L751.5 1670.1 L750.1 1673.2 L747.9 1675Z" stroke-width="2" fill="#fff"/>
<path d="M744.2 1676.7 L741.4 1677.2 L738.2 1676.3 L734.7 1674.2 L731.3 1670.9 L728.1 1666.6 L725.4 1661.7 L723.4 1656.5 L722.2 1651.4 L721.8 1646.6 L722.4 1642.6 L723.9 1639.6 L726.1 1637.7 L728.9 1637.2 L732.2 1638 L735.6 1640.2 L739.1 1643.5 L742.2 1647.8 L744.9 1652.7 L746.9 1657.9 L748.1 1663 L748.5 1667.8 L747.9 1671.8 L746.5 1674.8 L744.2 1676.7Z" stroke-width="2" fill="#fff"/>
<path d="M737.9 1675 L726.1 1661.4 L723.3 1643.6 L732.4 1639.4 L744.2 1653 L747 1670.8Z" stroke-width="2" fill="#fff"/>
<path d="M729.8 1678.8 L717.9 1665.2 L726.1 1661.4 L737.9 1675Z" stroke-width="2" fill="#fff"/>
<path d="M717.9 1665.2 L715.1 1647.4 L723.3 1643.6 L726.1 1661.4Z" stroke-width="2" fill="#fff"/>
<path d="M715.1 1647.4 L724.2 1643.2 L732.4 1639.4 L723.3 1643.6Z" stroke-width="2" fill="#fff"/>
<path d="M724.2 1643.2 L736.1 1656.8 L744.2 1653 L732.4 1639.4Z" stroke-width="2" fill="#fff"/>
<path d="M736.1 1656.8 L738.9 1674.6 L747 1670.8 L744.2 1653Z" stroke-width="2" fill="#fff"/>
<path d="M738.9 1674.6 L729.8 1678.8 L737.9 1675 L747 1670.8Z" stroke-width="2" fill="#fff"/>
<path d="M729.8 1678.8 L717.9 1665.2 L715.1 1647.4 L724.2 1643.2 L736.1 1656.8 L738.9 1674.6Z" stroke-width="2" fill="#fff"/>
<path d="M733.8 1675.5 L731.7 1675.9 L729.2 1675.2 L726.7 1673.6 L724.1 1671.2 L721.7 1668 L719.7 1664.4 L718.2 1660.5 L717.3 1656.7 L717.1 1653.1 L717.5 1650.1 L718.6 1647.9 L720.2 1646.5 L722.3 1646.1 L724.8 1646.8 L727.3 1648.4 L729.9 1650.8 L732.3 1654 L734.3 1657.6 L735.8 1661.5 L736.7 1665.3 L736.9 1668.9 L736.5 1671.9 L735.4 1674.1 L733.8 1675.5" stroke-width="1.4" fill="none"/>
<ellipse cx="852.7" cy="1603.6" rx="43" ry="25" transform="rotate(64 852.7 1603.6)" stroke-width="1.9" fill="none" stroke-dasharray="9 4.5"/>
<path d="M830.9 1566.1 L876.4 1544.3" stroke-width="1.9" fill="none" stroke-dasharray="9 4.5"/>
<path d="M901.1 1549 L1020.6 1493" stroke-width="1.9" fill="none" stroke-dasharray="9 4.5"/>
<path d="M887.8 1631.5 L1026.3 1556.6" stroke-width="1.9" fill="none" stroke-dasharray="9 4.5"/>
<path d="M878.3 1496.8 L969.4 1443.7 L980.8 1439 L992.2 1442.8 L1003.5 1456 L1011.1 1475" stroke-width="1.9" fill="none" stroke-dasharray="9 4.5"/>
<path d="M830.9 1606.9 L1022.5 1496.8" stroke-width="1.9" fill="none" stroke-dasharray="22 8"/>
<path d="M1011.1 1475 C1011.8 1476 1013 1479.8 1014.9 1480.7 C1016.8 1481.7 1018.7 1479.9 1022.5 1480.7 C1026.3 1481.5 1033.9 1482.3 1037.7 1485.5 C1041.5 1488.6 1044.2 1494.8 1045.3 1499.7 C1046.4 1504.6 1045.6 1511.4 1044.3 1514.9 C1043.1 1518.3 1038.8 1519.6 1037.7 1520.6" stroke-width="2" fill="none"/>
<path d="M1033.9 1484.5 C1035.3 1486.4 1040.7 1491.8 1042.4 1495.9 C1044.2 1500 1044 1507 1044.3 1509.2" stroke-width="3.4" fill="none"/>
<path d="M1037.7 1520.6 L1033.9 1541.4 L1026.3 1556.6 L1005.4 1565.1" stroke-width="1.9" fill="none" stroke-dasharray="9 4.5"/>
<path d="M1013 1486.4 L1020.6 1533.8 L1022.5 1552.8" stroke-width="1.9" fill="none" stroke-dasharray="9 4.5"/>
<path d="M1011.1 1484.5 L1022.5 1490.2 L1028.2 1503.5 L1022.5 1495.9" stroke-width="1.9" fill="none" stroke-dasharray="9 4.5"/>
<path d="M1030.1 1503.5 L1039.6 1499.7" stroke-width="1.9" fill="none"/>
<path d="M1033.9 1497.8 L1035.8 1507.3" stroke-width="1.9" fill="none"/>
<path d="M1022.5 1545.2 L1032 1543.3" stroke-width="1.9" fill="none"/>
<path d="M1026.3 1541.4 L1028.2 1550.9" stroke-width="1.9" fill="none"/>
<path d="M1003.5 1495.9 L1005.4 1501.6" stroke-width="2.6" fill="none"/>
<path d="M1001.7 1495.9 L1009.2 1493" stroke-width="1.9" fill="none"/>
<path d="M963.7 1518.7 L969.4 1522.4 L973.2 1516.8" stroke-width="1.9" fill="none"/>
<ellipse cx="895.4" cy="1521.5" rx="31" ry="18" transform="rotate(64 895.4 1521.5)" stroke-width="1.9" fill="none" stroke-dasharray="9 4.5"/>
<path d="M887 1497.1 L888.1 1496.7 L889.3 1496.4 L890.5 1496.2 L891.8 1496.2 L893.2 1496.4 L894.5 1496.7 L895.9 1497.2 L897.3 1497.8 L898.7 1498.6 L900.1 1499.5 L901.5 1500.5 L902.9 1501.7 L904.3 1503 L905.6 1504.4 L906.8 1505.9 L908.1 1507.5 L909.2 1509.2 L910.3 1510.9 L911.3 1512.7 L912.2 1514.6 L913.1 1516.5 L913.8 1518.4 L914.4 1520.4 L915 1522.3 L915.4 1524.2 L915.7 1526.1 L916 1528 L916.1 1529.8 L916 1531.6 L915.9 1533.3 L915.7 1534.9 L915.3 1536.4 L914.9 1537.8 L914.3 1539.1 L913.7 1540.3 L912.9 1541.4 L912.1 1542.3 L911.1 1543.1 L910.1 1543.7 L909 1544.2 L907.8 1544.6 L906.6 1544.7 L905.3 1544.8 L904 1544.6 L902.7 1544.4 L901.3 1543.9 L899.9 1543.4 L898.5 1542.6" stroke-width="1.9" fill="none" stroke-dasharray="9 4.5"/>
<path d="M878.3 1518.7 C880.2 1517.5 887 1512.6 889.7 1512 C892.4 1511.4 893.8 1513.6 894.5 1514.9 C895.1 1516.1 895.6 1517.9 893.5 1519.6 C891.5 1521.3 884.7 1524.7 882.1 1525.3 C879.6 1525.9 879 1524.5 878.3 1523.4 C877.7 1522.3 878.3 1519.4 878.3 1518.7" stroke-width="1.7" fill="none"/>
<ellipse cx="880.2" cy="1521.1" rx="3.2" ry="2.2" transform="rotate(64 880.2 1521.1)" stroke-width="1.8" fill="none"/>
<path d="M875.5 1541.4 C877.4 1540.2 884.2 1534.8 886.9 1533.8 C889.6 1532.9 890.8 1534.5 891.6 1535.7 C892.4 1537 892.4 1540 891.6 1541.4 C890.8 1542.8 887.7 1543.8 886.9 1544.3" stroke-width="1.7" fill="none"/>
<ellipse cx="878" cy="1543.7" rx="3.2" ry="2.2" transform="rotate(64 878 1543.7)" stroke-width="1.8" fill="none"/>
<path d="M886.9 1544.3 C888 1544.7 891.1 1546.6 893.5 1547.1 C895.9 1547.6 898.6 1548.1 901.1 1547.5 C903.6 1546.9 907.4 1544 908.7 1543.3" stroke-width="1.7" fill="none"/>
<path d="M901.1 1547.5 L906.8 1549" stroke-width="1.9" fill="none"/>
<path d="M653 1058 L759.5 998.6" stroke-width="1.8" fill="none" stroke-dasharray="25 7.5 7.5 7.5"/>
<path d="M628 1216 L820 1107" stroke-width="1.8" fill="none" stroke-dasharray="25 7.5 7.5 7.5"/>
<path d="M706 1260.5 L1006 1085.5" stroke-width="1.8" fill="none" stroke-dasharray="25 7.5 7.5 7.5"/>
<path d="M1028 997 L1253 869" stroke-width="1.8" fill="none" stroke-dasharray="25 7.5 7.5 7.5"/>
<path d="M1556.8 690.5 L1647.7 639.6" stroke-width="1.8" fill="none" stroke-dasharray="25 7.5 7.5 7.5"/>
<path d="M1729.2 591 L1882.6 505.7" stroke-width="1.8" fill="none" stroke-dasharray="25 7.5 7.5 7.5"/>
<path d="M2045.5 287.4 L2102.5 258" stroke-width="1.8" fill="none" stroke-dasharray="25 7.5 7.5 7.5"/>
<path d="M2136.4 517 L2160 504.5" stroke-width="1.8" fill="none"/>
<path d="M1699 574 L1715.8 563.6" stroke-width="1.8" fill="none"/>
<path d="M928 899.8 L965.6 882.7" stroke-width="1.8" fill="none" stroke-dasharray="25 7.5 7.5 7.5"/>
<path d="M1064 1120 L1092 1104" stroke-width="1.8" fill="none" stroke-dasharray="25 7.5 7.5 7.5"/>
<path d="M807.3 1619.4 L828.3 1607.2" stroke-width="1.8" fill="none"/>
<path d="M1045 1486.6 L1125.4 1439.4" stroke-width="1.8" fill="none" stroke-dasharray="25 7.5 7.5 7.5"/>
<path d="M705.9 1261.2 L1127.1 1439.4" stroke-width="1.8" fill="none" stroke-dasharray="25 7.5 7.5 7.5"/>
<text x="1927" y="49" font-size="48" text-anchor="middle" font-family="Liberation Sans, sans-serif" font-weight="normal" stroke="none" fill="#000">5</text>
<text x="2026" y="182" font-size="48" text-anchor="middle" font-family="Liberation Sans, sans-serif" font-weight="normal" stroke="none" fill="#000">7</text>
<text x="2130" y="147" font-size="48" text-anchor="middle" font-family="Liberation Sans, sans-serif" font-weight="normal" stroke="none" fill="#000">8</text>
<text x="1836" y="259" font-size="48" text-anchor="middle" font-family="Liberation Sans, sans-serif" font-weight="normal" stroke="none" fill="#000">6</text>
<text x="1730" y="295" font-size="48" text-anchor="middle" font-family="Liberation Sans, sans-serif" font-weight="normal" stroke="none" fill="#000">4</text>
<text x="1661" y="338" font-size="48" text-anchor="middle" font-family="Liberation Sans, sans-serif" font-weight="normal" stroke="none" fill="#000">14</text>
<text x="1584" y="387" font-size="48" text-anchor="middle" font-family="Liberation Sans, sans-serif" font-weight="normal" stroke="none" fill="#000">18</text>
<text x="2192" y="623" font-size="48" text-anchor="middle" font-family="Liberation Sans, sans-serif" font-weight="normal" stroke="none" fill="#000">3</text>
<text x="1258" y="409" font-size="48" text-anchor="middle" font-family="Liberation Sans, sans-serif" font-weight="normal" stroke="none" fill="#000">000</text>
<text x="1379" y="525" font-size="48" text-anchor="middle" font-family="Liberation Sans, sans-serif" font-weight="normal" stroke="none" fill="#000">1</text>
<text x="1138" y="632" font-size="48" text-anchor="middle" font-family="Liberation Sans, sans-serif" font-weight="normal" stroke="none" fill="#000">2</text>
<text x="1028" y="623" font-size="48" text-anchor="middle" font-family="Liberation Sans, sans-serif" font-weight="normal" stroke="none" fill="#000">15</text>
<text x="838" y="727" font-size="48" text-anchor="middle" font-family="Liberation Sans, sans-serif" font-weight="normal" stroke="none" fill="#000">9</text>
<text x="1136" y="1209" font-size="48" text-anchor="middle" font-family="Liberation Sans, sans-serif" font-weight="normal" stroke="none" fill="#000">17</text>
<text x="764" y="1757" font-size="48" text-anchor="middle" font-family="Liberation Sans, sans-serif" font-weight="normal" stroke="none" fill="#000">11</text>
<text x="1119.2" y="1678.5" font-size="57" text-anchor="middle" font-family="Liberation Sans, sans-serif" font-weight="normal" stroke="none" fill="#000">(Engine PART)</text>
<text x="1880" y="2048" font-size="34.5" font-family="Liberation Serif, serif" font-weight="bold" stroke="none" fill="#000" textLength="231" lengthAdjust="spacingAndGlyphs">T303/353NC-E-302</text>
<path d="M1933 59 L1933 111" stroke-width="1.8" fill="none"/>
<path d="M1837 167 L2032 54" stroke-width="1.8" fill="none"/>
<path d="M2032 54 L2032 123" stroke-width="1.8" fill="none"/>
<path d="M1837 167 L1837 201" stroke-width="1.8" fill="none"/>
<path d="M2031 201 L2031 299" stroke-width="1.8" fill="none"/>
<path d="M2129 157 L2129 227" stroke-width="1.8" fill="none"/>
<path d="M1837 275 L1837 388" stroke-width="1.8" fill="none"/>
<path d="M1739 305 L1739 540" stroke-width="1.8" fill="none"/>
<path d="M1672 348 L1672 564" stroke-width="1.8" fill="none"/>
<path d="M1589.5 401 L1589.5 693" stroke-width="1.8" fill="none"/>
<path d="M2195.5 489 L2195.5 561" stroke-width="1.8" fill="none"/>
<path d="M1259.5 417 L1259.5 469" stroke-width="1.8" fill="none"/>
<path d="M1140 539 L1383 398.5" stroke-width="1.8" fill="none"/>
<path d="M1383 398.5 L1383 469" stroke-width="1.8" fill="none"/>
<path d="M1140 539 L1140 573" stroke-width="1.8" fill="none"/>
<path d="M1383 544 L1383 609" stroke-width="1.8" fill="none"/>
<path d="M1140.5 647 L1140.5 737" stroke-width="1.8" fill="none"/>
<path d="M1029 641 L1029 828" stroke-width="1.8" fill="none"/>
<path d="M840.5 740 L840.5 850" stroke-width="1.8" fill="none"/>
<path d="M1137 1092 L1137 1156" stroke-width="1.8" fill="none"/>
<path d="M774 1651 L774 1706" stroke-width="2.2" fill="none"/>
<path d="M1015 1560 L1087 1643" stroke-width="3.2" fill="none"/>
</svg>
</body></html>
